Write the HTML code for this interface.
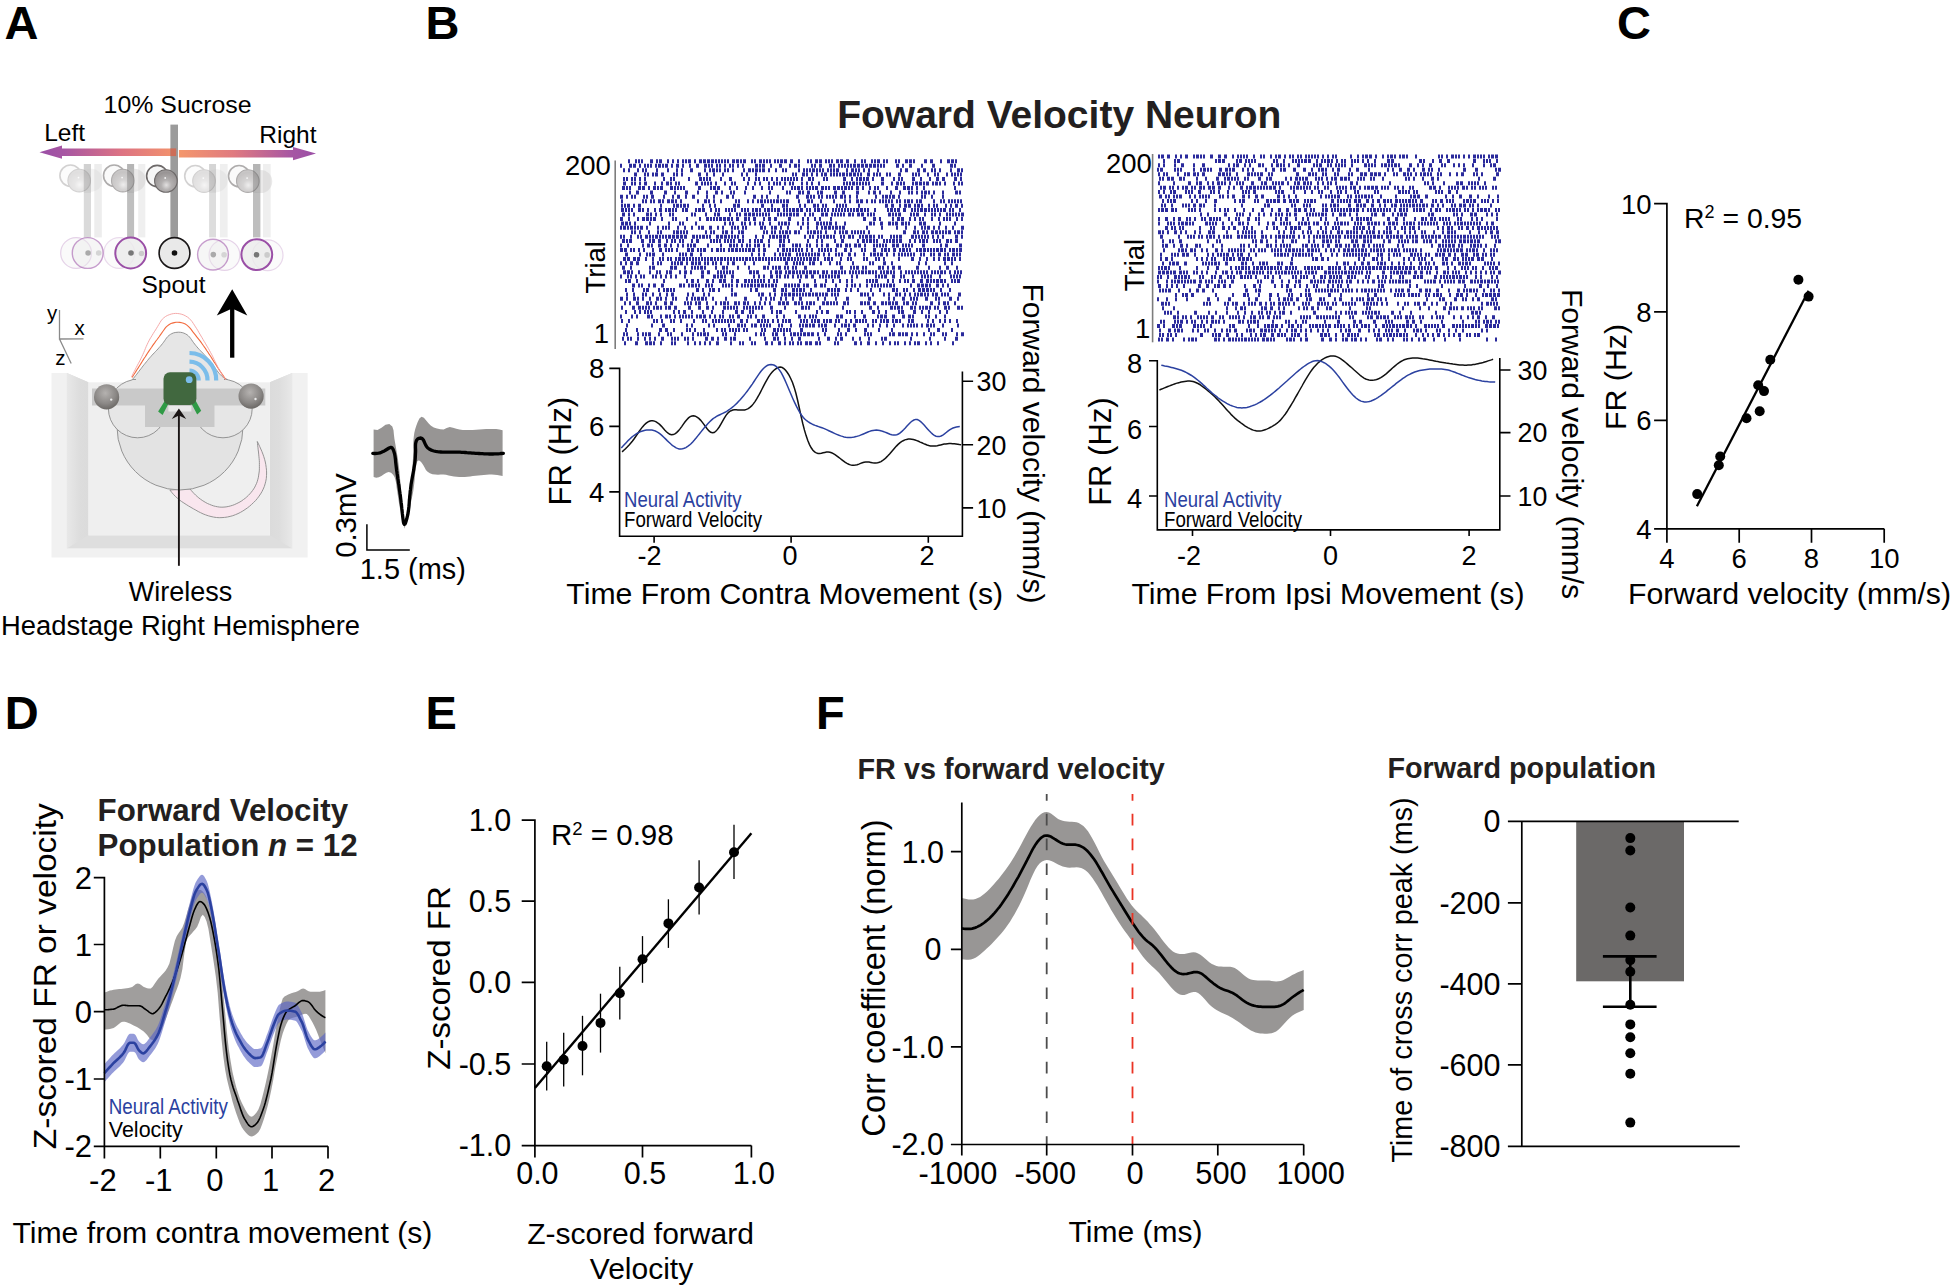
<!DOCTYPE html>
<html lang="en"><head><meta charset="utf-8"><title>Forward Velocity Neuron figure</title>
<style>html,body{margin:0;padding:0;background:#fff}svg{display:block;font-family:'Liberation Sans', Arial, Helvetica, sans-serif}</style>
</head><body>
<svg width="1951" height="1287" viewBox="0 0 1951 1287" font-family="'Liberation Sans', Arial, Helvetica, sans-serif">
<rect width="1951" height="1287" fill="#fff"/>
<defs>
<linearGradient id="gL" x1="0" x2="1"><stop offset="0" stop-color="#9a4fa6"/><stop offset="0.18" stop-color="#a756a3"/><stop offset="0.6" stop-color="#dd7383"/><stop offset="1" stop-color="#f3936b"/></linearGradient>
<linearGradient id="gR" x1="0" x2="1"><stop offset="0" stop-color="#f4976c"/><stop offset="0.4" stop-color="#e07a80"/><stop offset="0.82" stop-color="#a756a3"/><stop offset="1" stop-color="#9a4fa6"/></linearGradient>
<radialGradient id="sph" cx="0.52" cy="0.68" r="0.75"><stop offset="0" stop-color="#e2e0e0"/><stop offset="0.3" stop-color="#b3b0b0"/><stop offset="0.75" stop-color="#989494"/><stop offset="1" stop-color="#a9a6a6"/></radialGradient>
<radialGradient id="ball" cx="0.45" cy="0.35" r="0.7"><stop offset="0" stop-color="#b5b2b0"/><stop offset="0.6" stop-color="#8b8886"/><stop offset="1" stop-color="#65625f"/></radialGradient>
<linearGradient id="wallL" x1="0" x2="1"><stop offset="0" stop-color="#e8e8e8"/><stop offset="0.6" stop-color="#dddddd"/><stop offset="1" stop-color="#dbdbdb"/></linearGradient>
<linearGradient id="wallR" x1="1" x2="0"><stop offset="0" stop-color="#e8e8e8"/><stop offset="0.6" stop-color="#dddddd"/><stop offset="1" stop-color="#dbdbdb"/></linearGradient>
</defs>
<text x="4.5" y="38.9" font-size="47" font-weight="bold" fill="#000">A</text>
<text x="425.5" y="38.9" font-size="47" font-weight="bold" fill="#000">B</text>
<text x="1617.0" y="39.0" font-size="47" font-weight="bold" fill="#000">C</text>
<text x="4.8" y="728.8" font-size="47" font-weight="bold" fill="#000">D</text>
<text x="425.5" y="728.8" font-size="47" font-weight="bold" fill="#000">E</text>
<text x="816.0" y="728.8" font-size="47" font-weight="bold" fill="#000">F</text>
<rect x="83.8" y="164" width="7.2" height="73.4" fill="#dadada"/>
<rect x="94.3" y="164" width="7.5" height="73.4" fill="#ededed"/>
<rect x="127.1" y="164" width="7.0" height="73.4" fill="#bfbfbf"/>
<rect x="138.2" y="164" width="7.1" height="73.4" fill="#efefef"/>
<rect x="209.1" y="164" width="6.9" height="73.4" fill="#dddddd"/>
<rect x="219.9" y="164" width="7.7" height="73.4" fill="#efefef"/>
<rect x="253.0" y="164" width="7.4" height="73.4" fill="#bebebe"/>
<rect x="263.0" y="164" width="7.7" height="73.4" fill="#efefef"/>
<path d="M39.5 152.3L62.0 145.4V148.4H176.1V156.1H62.0V158.8Z" fill="url(#gL)"/>
<path d="M316.0 153.5L293.0 146.9V150.0H178.9V157.4H293.0V160.3Z" fill="url(#gR)"/>
<rect x="170.4" y="124.6" width="7.6" height="112.3" fill="#9b9b9b"/>
<rect x="170.4" y="148.4" width="5.8" height="7.7" fill="#cd6d57"/>
<g opacity="0.3"><circle cx="91" cy="180.2" r="11.5" fill="#c9c7c7" opacity="0.7"/><line x1="70.5" y1="175.6" x2="79.2" y2="180.6" stroke="#f3f3f3" stroke-width="22"/><circle cx="70.5" cy="175.6" r="10.6" fill="#f6f6f6" stroke="#6d6969" stroke-width="1.6"/><circle cx="79.2" cy="180.6" r="11.3" fill="url(#sph)" stroke="#6d6969" stroke-width="1.1"/><circle cx="78.5" cy="177.6" r="0.9" fill="#f2f2f2"/></g>
<g opacity="0.55"><circle cx="134.1" cy="180.2" r="11.5" fill="#c9c7c7" opacity="0.7"/><line x1="114.1" y1="175.6" x2="122.8" y2="180.6" stroke="#f3f3f3" stroke-width="22"/><circle cx="114.1" cy="175.6" r="10.6" fill="#f6f6f6" stroke="#6d6969" stroke-width="1.6"/><circle cx="122.8" cy="180.6" r="11.3" fill="url(#sph)" stroke="#6d6969" stroke-width="1.1"/><circle cx="122.1" cy="177.6" r="0.9" fill="#f2f2f2"/></g>
<g opacity="0.3"><circle cx="216.1" cy="180.7" r="11.5" fill="#c9c7c7" opacity="0.7"/><line x1="195.3" y1="176.1" x2="204.0" y2="181.1" stroke="#f3f3f3" stroke-width="22"/><circle cx="195.3" cy="176.1" r="10.6" fill="#f6f6f6" stroke="#6d6969" stroke-width="1.6"/><circle cx="204.0" cy="181.1" r="11.3" fill="url(#sph)" stroke="#6d6969" stroke-width="1.1"/><circle cx="203.3" cy="178.1" r="0.9" fill="#f2f2f2"/></g>
<g opacity="0.55"><circle cx="260.7" cy="181.5" r="11.5" fill="#c9c7c7" opacity="0.7"/><line x1="239.1" y1="176.1" x2="247.79999999999998" y2="181.1" stroke="#f3f3f3" stroke-width="22"/><circle cx="239.1" cy="176.1" r="10.6" fill="#f6f6f6" stroke="#6d6969" stroke-width="1.6"/><circle cx="247.79999999999998" cy="181.1" r="11.3" fill="url(#sph)" stroke="#6d6969" stroke-width="1.1"/><circle cx="247.1" cy="178.1" r="0.9" fill="#f2f2f2"/></g>
<rect x="83.8" y="164" width="7.2" height="29" fill="#8a8a8a" opacity="0.10"/>
<rect x="127.1" y="164" width="7.0" height="29" fill="#8a8a8a" opacity="0.17"/>
<rect x="209.1" y="164" width="7.0" height="29" fill="#8a8a8a" opacity="0.09"/>
<rect x="253" y="164" width="7.4" height="29" fill="#8a8a8a" opacity="0.17"/>
<g opacity="1"><line x1="157.2" y1="176" x2="165.89999999999998" y2="181" stroke="#f3f3f3" stroke-width="22"/><circle cx="157.2" cy="176" r="10.6" fill="#f6f6f6" stroke="#6d6969" stroke-width="1.6"/><circle cx="165.89999999999998" cy="181" r="11.3" fill="url(#sph)" stroke="#6d6969" stroke-width="1.1"/><circle cx="165.2" cy="178" r="0.9" fill="#f2f2f2"/></g>
<circle cx="76.1" cy="253.0" r="15.4" fill="#ebebeb" fill-opacity="0.8" stroke="#9a4fa6" stroke-width="1.2" opacity="0.25"/>
<circle cx="87.7" cy="253.0" r="15.4" fill="#ebebeb" fill-opacity="0.8" stroke="#9a4fa6" stroke-width="1.4" opacity="0.55"/>
<circle cx="119.2" cy="253.0" r="15.4" fill="#ebebeb" fill-opacity="0.8" stroke="#9a4fa6" stroke-width="1.2" opacity="0.2"/>
<circle cx="130.7" cy="253.0" r="15.4" fill="#ebebeb" fill-opacity="0.8" stroke="#9a4fa6" stroke-width="2.0" opacity="1"/>
<circle cx="224.5" cy="255.0" r="15.4" fill="#ebebeb" fill-opacity="0.8" stroke="#9a4fa6" stroke-width="1.2" opacity="0.25"/>
<circle cx="213.0" cy="254.6" r="15.4" fill="#ebebeb" fill-opacity="0.8" stroke="#9a4fa6" stroke-width="1.4" opacity="0.55"/>
<circle cx="267.6" cy="255.3" r="15.4" fill="#ebebeb" fill-opacity="0.8" stroke="#9a4fa6" stroke-width="1.2" opacity="0.22"/>
<circle cx="256.8" cy="254.6" r="15.4" fill="#ebebeb" fill-opacity="0.8" stroke="#9a4fa6" stroke-width="2.0" opacity="1"/>
<circle cx="174.5" cy="253.0" r="15.4" fill="#e9e9e9" fill-opacity="1" stroke="#1a1718" stroke-width="1.6" opacity="1"/>
<circle cx="88.1" cy="253.0" r="2.8" fill="#aaa"/>
<circle cx="98.7" cy="253.0" r="2.8" fill="#d5d5d5"/>
<circle cx="131.0" cy="253.0" r="2.8" fill="#777"/>
<circle cx="141.5" cy="253.5" r="2.8" fill="#ccc"/>
<circle cx="213.3" cy="254.6" r="2.8" fill="#aaa"/>
<circle cx="224.1" cy="254.7" r="2.8" fill="#d5d5d5"/>
<circle cx="256.5" cy="254.7" r="2.8" fill="#777"/>
<circle cx="267.1" cy="254.9" r="2.8" fill="#ccc"/>
<circle cx="174.5" cy="253.0" r="2.8" fill="#111"/>
<text x="177.6" y="113.3" font-size="24.5" text-anchor="middle" fill="#000" textLength="148.0" lengthAdjust="spacingAndGlyphs">10% Sucrose</text>
<text x="44.2" y="141.2" font-size="24.5" fill="#000">Left</text>
<text x="316.5" y="142.5" font-size="24.5" text-anchor="end" fill="#000">Right</text>
<text x="173.5" y="292.5" font-size="24.5" text-anchor="middle" fill="#000">Spout</text>
<path d="M51.5 373H66.9V548.4H292.2V373H307.6V557.6H51.5Z" fill="#f1f1f1"/>
<path d="M66.9 373L88.4 382.3V535.3H269.9V382.3L292.2 373V548.4H66.9Z" fill="#dedede"/>
<path d="M66.9 373L88.4 382.3V535.3L66.9 548.4Z" fill="url(#wallL)"/>
<path d="M292.2 373L269.9 382.3V535.3L292.2 548.4Z" fill="url(#wallR)"/>
<rect x="88.4" y="382.3" width="181.5" height="153" fill="#efefef"/>
<path d="M257.3 441.5 L258.5 444.0 L259.7 446.5 L260.8 449.0 L261.9 451.5 L262.9 454.1 L263.8 456.7 L264.6 459.3 L265.3 462.0 L265.8 464.7 L266.2 467.4 L266.5 470.2 L266.6 473.0 L266.5 475.7 L266.3 478.5 L265.8 481.2 L265.1 483.9 L264.3 486.5 L263.2 489.1 L262.0 491.5 L260.6 493.9 L259.0 496.2 L257.4 498.4 L255.6 500.5 L253.6 502.5 L251.6 504.4 L249.6 506.2 L247.4 507.9 L245.1 509.5 L242.8 511.0 L240.4 512.4 L238.0 513.6 L235.4 514.7 L232.8 515.7 L230.1 516.4 L227.4 517.0 L224.7 517.4 L222.0 517.6 L219.2 517.7 L216.4 517.5 L213.7 517.1 L211.0 516.5 L208.3 515.8 L205.7 514.9 L203.1 513.9 L200.6 512.7 L198.2 511.5 L195.8 510.1 L193.4 508.8 L191.0 507.4 L188.6 506.0 L186.2 504.5 L183.9 503.0 L181.6 501.5 L179.4 499.9 L177.3 498.1 L175.3 496.3 L173.4 494.3 L171.6 492.2 L169.9 490.0 L189.9 488.9 L191.3 490.5 L192.7 492.1 L194.1 493.6 L195.6 495.1 L197.2 496.5 L198.8 497.9 L200.5 499.2 L202.2 500.4 L204.0 501.5 L205.8 502.6 L207.7 503.6 L209.6 504.4 L211.6 505.2 L213.6 505.9 L215.6 506.4 L217.7 506.8 L219.8 507.1 L221.9 507.2 L224.0 507.1 L226.1 506.9 L228.2 506.5 L230.3 506.0 L232.3 505.4 L234.3 504.7 L236.2 503.8 L238.1 502.9 L240.0 501.9 L241.8 500.8 L243.5 499.5 L245.2 498.3 L246.8 496.9 L248.4 495.4 L249.8 493.9 L251.2 492.3 L252.5 490.6 L253.7 488.9 L254.8 487.1 L255.7 485.2 L256.6 483.3 L257.3 481.3 L257.9 479.2 L258.4 477.2 L258.7 475.1 L259.0 473.0 L259.3 470.9 L259.4 468.8 L259.4 466.7 L259.4 464.6 L259.4 462.5 L259.3 460.4 L259.1 458.3 L258.9 456.2 L258.7 454.1 L258.5 452.0 L258.2 449.9 L258.0 447.8 L257.7 445.7 L257.5 443.6 L257.3 441.5Z" fill="#f9e6ee" stroke="#8a8a8a" stroke-width="0.9"/>
<circle cx="180" cy="427" r="63" fill="#e3e3e3" stroke="#8a8a8a" stroke-width="0.9"/>
<circle cx="137.6" cy="408.6" r="29.2" fill="#e6e6e6" stroke="#8a8a8a" stroke-width="0.9"/>
<circle cx="223" cy="408.6" r="29.2" fill="#e6e6e6" stroke="#8a8a8a" stroke-width="0.9"/>
<path d="M132.3 379.5 L133.5 378.2 L134.6 376.9 L135.7 375.5 L136.8 374.2 L137.8 372.8 L138.9 371.4 L139.9 370.0 L141.0 368.7 L142.0 367.3 L143.1 365.9 L144.2 364.5 L145.3 363.2 L146.4 361.8 L147.5 360.5 L148.6 359.1 L149.7 357.8 L150.9 356.5 L152.0 355.2 L153.2 354.0 L154.4 352.7 L155.6 351.4 L156.8 350.2 L158.0 348.9 L159.1 347.6 L160.3 346.3 L161.4 345.0 L162.5 343.6 L163.6 342.2 L164.6 340.8 L165.6 339.3 L166.6 337.9 L167.7 336.6 L169.0 335.4 L170.4 334.4 L171.9 333.6 L173.5 332.9 L175.2 332.5 L177.0 332.3 L178.7 332.2 L180.4 332.3 L182.2 332.6 L183.8 333.1 L185.4 333.8 L187.0 334.7 L188.3 335.8 L189.5 337.0 L190.6 338.4 L191.6 339.8 L192.6 341.3 L193.6 342.7 L194.7 344.1 L195.8 345.5 L196.9 346.8 L198.0 348.1 L199.2 349.4 L200.4 350.6 L201.6 351.9 L202.8 353.1 L204.0 354.4 L205.2 355.7 L206.4 357.0 L207.5 358.2 L208.7 359.6 L209.8 360.9 L210.9 362.2 L212.0 363.6 L213.0 365.0 L214.0 366.4 L215.0 367.9 L216.0 369.3 L217.1 370.7 L218.1 372.1 L219.2 373.4 L220.4 374.7 L221.6 375.9 L222.9 377.0 L224.4 377.9 L225.9 378.8 L227.6 379.5L227.6 392L132.3 392Z" fill="#e6e6e6"/>
<path d="M136 379.5L132.3 379.5 L133.5 378.2 L134.6 376.9 L135.7 375.5 L136.8 374.2 L137.8 372.8 L138.9 371.4 L139.9 370.0 L141.0 368.7 L142.0 367.3 L143.1 365.9 L144.2 364.5 L145.3 363.2 L146.4 361.8 L147.5 360.5 L148.6 359.1 L149.7 357.8 L150.9 356.5 L152.0 355.2 L153.2 354.0 L154.4 352.7 L155.6 351.4 L156.8 350.2 L158.0 348.9 L159.1 347.6 L160.3 346.3 L161.4 345.0 L162.5 343.6 L163.6 342.2 L164.6 340.8 L165.6 339.3 L166.6 337.9 L167.7 336.6 L169.0 335.4 L170.4 334.4 L171.9 333.6 L173.5 332.9 L175.2 332.5 L177.0 332.3 L178.7 332.2 L180.4 332.3 L182.2 332.6 L183.8 333.1 L185.4 333.8 L187.0 334.7 L188.3 335.8 L189.5 337.0 L190.6 338.4 L191.6 339.8 L192.6 341.3 L193.6 342.7 L194.7 344.1 L195.8 345.5 L196.9 346.8 L198.0 348.1 L199.2 349.4 L200.4 350.6 L201.6 351.9 L202.8 353.1 L204.0 354.4 L205.2 355.7 L206.4 357.0 L207.5 358.2 L208.7 359.6 L209.8 360.9 L210.9 362.2 L212.0 363.6 L213.0 365.0 L214.0 366.4 L215.0 367.9 L216.0 369.3 L217.1 370.7 L218.1 372.1 L219.2 373.4 L220.4 374.7 L221.6 375.9 L222.9 377.0 L224.4 377.9 L225.9 378.8 L227.6 379.5L224 379.5" fill="none" stroke="#8a8a8a" stroke-width="0.9"/>
<path d="M132.0 377.5 L133.0 375.9 L134.1 374.3 L135.1 372.7 L136.1 371.1 L137.1 369.5 L138.2 367.9 L139.2 366.3 L140.2 364.7 L141.2 363.1 L142.2 361.5 L143.2 359.9 L144.2 358.3 L145.3 356.7 L146.3 355.1 L147.3 353.5 L148.4 351.9 L149.4 350.4 L150.5 348.8 L151.6 347.2 L152.6 345.6 L153.7 344.1 L154.8 342.6 L155.9 341.0 L157.1 339.5 L158.2 338.0 L159.3 336.5 L160.4 334.9 L161.5 333.4 L162.6 331.8 L163.7 330.2 L164.8 328.6 L166.0 327.2 L167.4 325.8 L168.9 324.7 L170.5 323.8 L172.3 323.1 L174.2 322.6 L176.0 322.3 L177.9 322.2 L179.8 322.4 L181.7 322.7 L183.5 323.3 L185.3 324.1 L186.9 325.1 L188.3 326.3 L189.6 327.6 L190.9 329.1 L192.0 330.6 L193.1 332.2 L194.3 333.7 L195.5 335.2 L196.6 336.7 L197.8 338.2 L199.0 339.7 L200.2 341.2 L201.3 342.7 L202.4 344.2 L203.5 345.8 L204.6 347.3 L205.7 348.9 L206.7 350.5 L207.8 352.0 L208.8 353.6 L209.9 355.2 L210.9 356.8 L211.9 358.4 L212.9 360.0 L213.9 361.6 L215.0 363.2 L216.0 364.8 L217.0 366.4 L218.0 368.0 L219.1 369.6 L220.1 371.2 L221.2 372.8 L222.2 374.3 L223.3 375.9 L224.4 377.5 L225.5 379.0" fill="none" stroke="#f26a3d" stroke-width="1.1"/>
<path d="M131.5 377.0 L132.4 375.1 L133.3 373.2 L134.3 371.3 L135.3 369.4 L136.2 367.6 L137.2 365.7 L138.2 363.8 L139.2 362.0 L140.2 360.1 L141.1 358.2 L142.0 356.3 L142.9 354.4 L143.8 352.4 L144.6 350.5 L145.4 348.5 L146.2 346.6 L147.1 344.6 L148.0 342.7 L148.9 340.9 L149.9 339.0 L151.0 337.2 L152.1 335.4 L153.2 333.6 L154.3 331.8 L155.5 330.0 L156.6 328.2 L157.7 326.4 L158.8 324.5 L159.9 322.7 L161.0 320.9 L162.3 319.2 L163.8 317.8 L165.5 316.5 L167.3 315.5 L169.3 314.7 L171.4 314.0 L173.4 313.6 L175.5 313.4 L177.7 313.5 L179.8 313.8 L181.8 314.3 L183.8 315.0 L185.7 316.0 L187.5 317.1 L189.2 318.4 L190.6 319.9 L192.0 321.5 L193.2 323.3 L194.4 325.1 L195.5 326.9 L196.7 328.7 L197.8 330.5 L198.8 332.3 L199.9 334.1 L201.0 336.0 L202.1 337.8 L203.1 339.6 L204.2 341.4 L205.3 343.2 L206.3 345.0 L207.4 346.8 L208.5 348.7 L209.5 350.5 L210.5 352.4 L211.5 354.2 L212.5 356.1 L213.4 358.0 L214.3 359.9 L215.3 361.8 L216.2 363.7 L217.1 365.6 L218.1 367.5 L219.0 369.4 L220.1 371.2 L221.1 373.0 L222.2 374.8 L223.4 376.6 L224.7 378.3 L226.0 380.0" fill="none" stroke="#f4a0a0" stroke-width="0.9"/>
<path d="M92 388.4H265.3V405.6H214.5V426.9H145V405.6H92Z" fill="#c9c9c9"/>
<rect x="168.4" y="406" width="23" height="5.5" fill="#e9e9e9"/>
<circle cx="106.6" cy="396.9" r="12.6" fill="url(#ball)"/>
<circle cx="251.1" cy="396.1" r="12.6" fill="url(#ball)"/>
<circle cx="111.2" cy="399.6" r="1.2" fill="#e8e8e8"/>
<circle cx="255.5" cy="399" r="1.2" fill="#e8e8e8"/>
<path d="M189.5 370.5A9.5 9.5 0 0 1 198.7 380.5" fill="none" stroke="#7bbdea" stroke-width="4.2"/>
<path d="M189.5 361.7A18.3 18.3 0 0 1 207.5 380.5" fill="none" stroke="#7bbdea" stroke-width="4.2"/>
<path d="M189.5 353.0A27 27 0 0 1 216.2 380.5" fill="none" stroke="#7bbdea" stroke-width="4.2"/>
<path d="M165.3 399.9L168.7 403.3L162.6 414.9L158.1 411.5Z" fill="#2f9a45"/>
<path d="M191.2 403.3L195.0 399.5L201.2 410.7L197.2 414.6Z" fill="#2f9a45"/>
<rect x="163.5" y="372.3" width="32.9" height="32.7" rx="6.5" fill="#41683f"/>
<circle cx="189.2" cy="379.7" r="3.4" fill="#7bbdea"/>
<path d="M232.2 357.7V306" stroke="#000" stroke-width="4.3" fill="none"/>
<path d="M232.2 289.2L247.3 315.6L232.2 308.5L216.8 315.6Z" fill="#000"/>
<path d="M178.9 565.8V414" stroke="#1a1515" stroke-width="1.9" fill="none"/>
<path d="M178.9 408.6L186.2 419L178.9 415.6L171.8 419Z" fill="#1a1515"/>
<path d="M59.5 310V339L83.5 338.9M59.5 339L71.2 363.5" fill="none" stroke="#8a8a8a" stroke-width="1.3"/>
<text x="47.0" y="320.0" font-size="20.5" fill="#000">y</text>
<text x="74.4" y="335.4" font-size="20.5" fill="#000">x</text>
<text x="55.2" y="364.6" font-size="20.5" fill="#000">z</text>
<text x="180.5" y="601.3" font-size="27" text-anchor="middle" fill="#000">Wireless</text>
<text x="180.5" y="634.5" font-size="27" text-anchor="middle" fill="#000" textLength="359.0" lengthAdjust="spacingAndGlyphs">Headstage Right Hemisphere</text>
<path d="M373.6 429.5 L377.5 430.0 L381.5 427.7 L385.5 424.8 L389.3 423.9 L392.3 426.4 L393.5 430.3 L393.9 434.5 L394.4 438.7 L395.1 442.8 L395.8 446.8 L396.5 450.8 L397.2 454.8 L397.9 458.8 L398.4 462.9 L398.9 466.9 L399.4 471.0 L399.8 475.1 L400.1 479.2 L400.5 483.4 L400.8 487.5 L401.2 491.6 L401.5 495.8 L401.8 499.9 L402.2 504.0 L402.6 508.1 L403.0 512.2 L403.5 516.2 L404.1 520.3 L404.7 524.3 L404.7 524.3 L405.2 521.1 L405.7 517.9 L406.2 514.7 L406.7 511.4 L407.3 508.1 L407.8 504.8 L408.3 501.4 L408.8 498.1 L409.3 494.7 L409.7 491.3 L410.2 487.9 L410.6 484.6 L411.0 481.2 L411.4 477.8 L411.8 474.5 L412.1 471.2 L412.4 467.9 L412.6 464.6 L412.8 461.3 L413.0 458.1 L413.1 455.0 L413.2 451.9 L413.3 448.8 L413.3 445.7 L413.3 442.7 L413.5 439.5 L413.8 436.4 L414.3 433.1 L415.1 429.6 L416.2 426.0 L417.6 422.2 L419.4 418.6 L421.5 416.8 L423.9 417.8 L426.4 420.7 L428.7 423.6 L431.0 425.8 L433.8 427.4 L437.0 428.4 L440.3 429.3 L443.6 429.4 L446.7 428.1 L449.8 427.1 L453.0 427.8 L456.3 428.7 L459.5 429.5 L462.7 429.9 L466.0 430.1 L469.3 430.1 L472.7 430.0 L476.1 429.8 L479.5 429.5 L482.8 429.2 L486.2 429.0 L489.6 428.9 L492.9 428.9 L496.2 429.1 L499.4 429.6 L502.6 430.3 L502.6 476.1 L499.9 475.5 L497.2 475.0 L494.6 474.7 L491.9 474.6 L489.2 474.6 L486.5 474.7 L483.7 474.9 L481.0 475.2 L478.3 475.5 L475.6 475.8 L472.9 476.1 L470.1 476.4 L467.4 476.7 L464.7 476.9 L462.0 477.0 L459.3 476.9 L456.6 476.8 L454.0 476.5 L451.3 476.0 L448.7 475.4 L446.0 474.8 L443.4 474.5 L440.7 474.6 L438.0 474.7 L435.3 474.6 L432.5 474.2 L429.9 473.2 L427.6 471.8 L425.9 469.9 L424.6 467.6 L423.2 465.1 L421.5 462.5 L419.7 460.8 L418.3 460.5 L417.2 461.6 L416.4 464.0 L415.8 467.2 L415.4 470.9 L415.0 474.8 L414.7 478.7 L414.4 482.2 L414.0 485.5 L413.6 488.6 L413.2 491.4 L412.7 494.1 L412.2 496.6 L411.7 499.0 L411.2 501.3 L410.7 503.5 L410.2 505.6 L409.6 507.8 L409.0 510.0 L408.4 512.3 L407.8 514.6 L407.2 517.1 L406.6 519.7 L406.0 522.5 L405.3 525.4 L404.7 528.7 L404.7 528.7 L403.9 526.1 L403.3 523.5 L402.6 520.9 L402.0 518.4 L401.4 515.8 L400.9 513.3 L400.4 510.7 L399.9 508.1 L399.4 505.6 L399.0 503.0 L398.6 500.4 L398.2 497.8 L397.8 495.3 L397.4 492.6 L397.0 490.0 L396.6 487.4 L396.3 484.7 L395.9 482.1 L395.3 479.5 L394.5 477.0 L393.1 474.7 L391.1 472.8 L388.8 472.1 L386.4 472.7 L383.9 474.2 L381.4 475.9 L378.8 477.3 L376.2 477.8 L373.6 476.9Z" fill="#979594"/>
<path d="M372.8 453.3 L374.9 453.5 L376.8 453.4 L378.5 453.2 L380.0 452.9 L381.5 452.3 L383.0 451.6 L384.4 450.9 L385.9 450.0 L387.5 449.0 L389.1 448.0 L390.8 447.4 L392.1 447.9 L393.1 449.4 L393.8 451.3 L394.4 453.2 L394.8 455.0 L395.1 456.7 L395.3 458.3 L395.5 460.0 L395.6 461.6 L395.8 463.3 L396.0 465.0 L396.2 466.7 L396.4 468.5 L396.6 470.2 L396.9 472.0 L397.1 473.7 L397.4 475.4 L397.6 477.1 L397.8 478.7 L398.1 480.3 L398.3 481.8 L398.5 483.3 L398.8 484.8 L399.0 486.2 L399.2 487.7 L399.4 489.1 L399.6 490.6 L399.8 492.1 L400.0 493.7 L400.3 495.3 L400.5 496.9 L400.7 498.6 L400.9 500.4 L401.1 502.2 L401.4 504.2 L401.6 506.3 L401.8 508.4 L402.1 510.7 L402.3 513.2 L402.6 515.7 L402.9 518.2 L403.2 520.5 L403.5 522.5 L403.9 523.8 L404.4 524.4 L405.0 524.0 L405.6 522.7 L406.2 520.9 L406.8 518.8 L407.3 516.7 L407.8 514.7 L408.1 512.9 L408.4 511.1 L408.6 509.4 L408.8 507.8 L409.0 506.2 L409.1 504.6 L409.2 503.0 L409.3 501.4 L409.4 499.8 L409.6 498.1 L409.7 496.4 L409.9 494.7 L410.1 493.0 L410.2 491.2 L410.5 489.4 L410.7 487.7 L410.9 485.9 L411.1 484.2 L411.4 482.5 L411.7 480.8 L412.0 479.1 L412.3 477.4 L412.6 475.8 L412.9 474.2 L413.2 472.6 L413.5 471.0 L413.8 469.4 L414.0 467.7 L414.3 466.1 L414.6 464.4 L414.8 462.8 L415.0 461.0 L415.2 459.3 L415.3 457.5 L415.4 455.6 L415.5 453.7 L415.6 451.8 L415.6 449.7 L415.5 447.7 L415.5 445.6 L415.6 443.6 L416.0 441.8 L416.6 440.2 L417.6 439.0 L419.0 438.3 L420.8 438.0 L422.2 438.6 L423.3 439.8 L424.1 441.5 L424.9 443.3 L425.7 445.1 L426.7 446.7 L427.8 448.0 L429.2 449.0 L430.7 449.9 L432.3 450.5 L433.9 451.0 L435.7 451.4 L437.4 451.7 L439.1 451.9 L440.8 452.0 L442.6 452.1 L444.3 452.1 L446.1 452.1 L447.8 452.1 L449.5 452.1 L451.3 452.1 L453.0 452.1 L454.8 452.1 L456.5 452.1 L458.2 452.2 L460.0 452.2 L461.7 452.3 L463.4 452.4 L465.2 452.5 L466.9 452.7 L468.6 452.8 L470.4 452.9 L472.1 453.1 L473.8 453.2 L475.6 453.3 L477.3 453.4 L479.0 453.5 L480.8 453.7 L482.5 453.7 L484.2 453.8 L485.9 453.9 L487.7 453.9 L489.4 454.0 L491.2 454.0 L492.9 454.0 L494.6 453.9 L496.4 453.9 L498.1 453.8 L499.9 453.7 L501.6 453.5 L503.3 453.3" fill="none" stroke="#000" stroke-width="3.3" stroke-linejoin="round" stroke-linecap="round"/>
<path d="M366.9 524.3V549.9H409.8" fill="none" stroke="#000" stroke-width="1.5"/>
<text x="355.8" y="515.5" font-size="29.3" text-anchor="middle" fill="#000" transform="rotate(-90 355.8 515.5)">0.3mV</text>
<text x="359.8" y="578.7" font-size="29.6" fill="#000" textLength="106.0" lengthAdjust="spacingAndGlyphs">1.5 (ms)</text>
<text x="1059.3" y="128.3" font-size="39" text-anchor="middle" font-weight="bold" fill="#231f20">Foward Velocity Neuron</text>
<path d="M628 159.3v4.0h2v-4.0zM635 159.3v4.0h2v-4.0zM638 159.3v4.0h2v-4.0zM641 159.3v4.0h2v-4.0zM650 159.3v4.0h3v-4.0zM656 159.3v4.0h2v-4.0zM659 159.3v4.0h3v-4.0zM667 159.3v4.0h2v-4.0zM672 159.3v4.0h2v-4.0zM677 159.3v4.0h2v-4.0zM682 159.3v4.0h2v-4.0zM685 159.3v4.0h2v-4.0zM688 159.3v4.0h3v-4.0zM694 159.3v4.0h2v-4.0zM699 159.3v4.0h3v-4.0zM703 159.3v4.0h3v-4.0zM707 159.3v4.0h3v-4.0zM711 159.3v4.0h3v-4.0zM715 159.3v4.0h2v-4.0zM718 159.3v4.0h2v-4.0zM721 159.3v4.0h2v-4.0zM724 159.3v4.0h2v-4.0zM727 159.3v4.0h2v-4.0zM732 159.3v4.0h3v-4.0zM736 159.3v4.0h3v-4.0zM740 159.3v4.0h2v-4.0zM743 159.3v4.0h3v-4.0zM751 159.3v4.0h2v-4.0zM754 159.3v4.0h2v-4.0zM759 159.3v4.0h3v-4.0zM763 159.3v4.0h2v-4.0zM766 159.3v4.0h2v-4.0zM769 159.3v4.0h2v-4.0zM774 159.3v4.0h2v-4.0zM777 159.3v4.0h2v-4.0zM780 159.3v4.0h3v-4.0zM784 159.3v4.0h3v-4.0zM790 159.3v4.0h3v-4.0zM798 159.3v4.0h2v-4.0zM807 159.3v4.0h2v-4.0zM810 159.3v4.0h2v-4.0zM815 159.3v4.0h3v-4.0zM819 159.3v4.0h3v-4.0zM825 159.3v4.0h2v-4.0zM828 159.3v4.0h2v-4.0zM831 159.3v4.0h2v-4.0zM836 159.3v4.0h3v-4.0zM840 159.3v4.0h3v-4.0zM846 159.3v4.0h3v-4.0zM854 159.3v4.0h2v-4.0zM861 159.3v4.0h2v-4.0zM864 159.3v4.0h2v-4.0zM871 159.3v4.0h2v-4.0zM874 159.3v4.0h2v-4.0zM877 159.3v4.0h3v-4.0zM883 159.3v4.0h2v-4.0zM886 159.3v4.0h2v-4.0zM895 159.3v4.0h2v-4.0zM898 159.3v4.0h2v-4.0zM905 159.3v4.0h3v-4.0zM909 159.3v4.0h3v-4.0zM913 159.3v4.0h2v-4.0zM924 159.3v4.0h3v-4.0zM930 159.3v4.0h3v-4.0zM940 159.3v4.0h2v-4.0zM947 159.3v4.0h3v-4.0zM951 159.3v4.0h3v-4.0zM955 159.3v4.0h2v-4.0zM620 163.7v4.0h2v-4.0zM629 163.7v4.0h3v-4.0zM633 163.7v4.0h3v-4.0zM639 163.7v4.0h2v-4.0zM644 163.7v4.0h2v-4.0zM647 163.7v4.0h2v-4.0zM650 163.7v4.0h2v-4.0zM655 163.7v4.0h2v-4.0zM658 163.7v4.0h3v-4.0zM662 163.7v4.0h2v-4.0zM665 163.7v4.0h3v-4.0zM671 163.7v4.0h2v-4.0zM676 163.7v4.0h3v-4.0zM682 163.7v4.0h2v-4.0zM689 163.7v4.0h2v-4.0zM696 163.7v4.0h3v-4.0zM704 163.7v4.0h3v-4.0zM708 163.7v4.0h2v-4.0zM711 163.7v4.0h2v-4.0zM716 163.7v4.0h2v-4.0zM719 163.7v4.0h2v-4.0zM724 163.7v4.0h2v-4.0zM729 163.7v4.0h2v-4.0zM732 163.7v4.0h2v-4.0zM737 163.7v4.0h2v-4.0zM742 163.7v4.0h2v-4.0zM755 163.7v4.0h3v-4.0zM759 163.7v4.0h2v-4.0zM762 163.7v4.0h3v-4.0zM770 163.7v4.0h2v-4.0zM779 163.7v4.0h3v-4.0zM789 163.7v4.0h2v-4.0zM794 163.7v4.0h3v-4.0zM798 163.7v4.0h2v-4.0zM811 163.7v4.0h2v-4.0zM814 163.7v4.0h2v-4.0zM819 163.7v4.0h3v-4.0zM829 163.7v4.0h3v-4.0zM833 163.7v4.0h2v-4.0zM838 163.7v4.0h2v-4.0zM841 163.7v4.0h2v-4.0zM844 163.7v4.0h2v-4.0zM847 163.7v4.0h2v-4.0zM850 163.7v4.0h2v-4.0zM853 163.7v4.0h3v-4.0zM857 163.7v4.0h3v-4.0zM861 163.7v4.0h3v-4.0zM865 163.7v4.0h3v-4.0zM869 163.7v4.0h3v-4.0zM873 163.7v4.0h3v-4.0zM877 163.7v4.0h2v-4.0zM880 163.7v4.0h2v-4.0zM883 163.7v4.0h2v-4.0zM896 163.7v4.0h3v-4.0zM902 163.7v4.0h2v-4.0zM909 163.7v4.0h3v-4.0zM921 163.7v4.0h2v-4.0zM932 163.7v4.0h3v-4.0zM950 163.7v4.0h3v-4.0zM954 163.7v4.0h2v-4.0zM623 168.2v4.0h2v-4.0zM628 168.2v4.0h2v-4.0zM637 168.2v4.0h2v-4.0zM642 168.2v4.0h2v-4.0zM645 168.2v4.0h2v-4.0zM656 168.2v4.0h2v-4.0zM667 168.2v4.0h2v-4.0zM676 168.2v4.0h2v-4.0zM681 168.2v4.0h2v-4.0zM690 168.2v4.0h3v-4.0zM704 168.2v4.0h2v-4.0zM709 168.2v4.0h2v-4.0zM712 168.2v4.0h3v-4.0zM716 168.2v4.0h2v-4.0zM719 168.2v4.0h2v-4.0zM724 168.2v4.0h2v-4.0zM727 168.2v4.0h2v-4.0zM732 168.2v4.0h2v-4.0zM743 168.2v4.0h2v-4.0zM748 168.2v4.0h3v-4.0zM752 168.2v4.0h2v-4.0zM755 168.2v4.0h3v-4.0zM759 168.2v4.0h2v-4.0zM762 168.2v4.0h3v-4.0zM768 168.2v4.0h2v-4.0zM775 168.2v4.0h2v-4.0zM782 168.2v4.0h2v-4.0zM785 168.2v4.0h2v-4.0zM798 168.2v4.0h2v-4.0zM803 168.2v4.0h2v-4.0zM806 168.2v4.0h2v-4.0zM809 168.2v4.0h2v-4.0zM812 168.2v4.0h3v-4.0zM816 168.2v4.0h2v-4.0zM819 168.2v4.0h2v-4.0zM822 168.2v4.0h2v-4.0zM827 168.2v4.0h2v-4.0zM830 168.2v4.0h2v-4.0zM833 168.2v4.0h2v-4.0zM836 168.2v4.0h3v-4.0zM846 168.2v4.0h2v-4.0zM851 168.2v4.0h3v-4.0zM855 168.2v4.0h2v-4.0zM858 168.2v4.0h2v-4.0zM863 168.2v4.0h2v-4.0zM868 168.2v4.0h2v-4.0zM877 168.2v4.0h2v-4.0zM900 168.2v4.0h2v-4.0zM905 168.2v4.0h3v-4.0zM917 168.2v4.0h3v-4.0zM923 168.2v4.0h3v-4.0zM931 168.2v4.0h2v-4.0zM934 168.2v4.0h2v-4.0zM939 168.2v4.0h2v-4.0zM950 168.2v4.0h2v-4.0zM957 168.2v4.0h3v-4.0zM961 168.2v4.0h2v-4.0zM634 172.6v4.0h3v-4.0zM644 172.6v4.0h2v-4.0zM647 172.6v4.0h2v-4.0zM652 172.6v4.0h2v-4.0zM655 172.6v4.0h3v-4.0zM661 172.6v4.0h3v-4.0zM673 172.6v4.0h2v-4.0zM676 172.6v4.0h2v-4.0zM681 172.6v4.0h2v-4.0zM698 172.6v4.0h3v-4.0zM706 172.6v4.0h2v-4.0zM713 172.6v4.0h2v-4.0zM722 172.6v4.0h2v-4.0zM741 172.6v4.0h2v-4.0zM746 172.6v4.0h2v-4.0zM755 172.6v4.0h2v-4.0zM792 172.6v4.0h2v-4.0zM795 172.6v4.0h2v-4.0zM802 172.6v4.0h3v-4.0zM806 172.6v4.0h2v-4.0zM811 172.6v4.0h2v-4.0zM816 172.6v4.0h2v-4.0zM821 172.6v4.0h2v-4.0zM824 172.6v4.0h3v-4.0zM830 172.6v4.0h2v-4.0zM833 172.6v4.0h2v-4.0zM836 172.6v4.0h2v-4.0zM839 172.6v4.0h2v-4.0zM842 172.6v4.0h3v-4.0zM846 172.6v4.0h2v-4.0zM849 172.6v4.0h3v-4.0zM853 172.6v4.0h3v-4.0zM857 172.6v4.0h2v-4.0zM860 172.6v4.0h2v-4.0zM867 172.6v4.0h3v-4.0zM873 172.6v4.0h2v-4.0zM876 172.6v4.0h2v-4.0zM879 172.6v4.0h2v-4.0zM886 172.6v4.0h2v-4.0zM889 172.6v4.0h2v-4.0zM898 172.6v4.0h3v-4.0zM912 172.6v4.0h2v-4.0zM915 172.6v4.0h2v-4.0zM918 172.6v4.0h2v-4.0zM927 172.6v4.0h2v-4.0zM934 172.6v4.0h2v-4.0zM937 172.6v4.0h2v-4.0zM946 172.6v4.0h2v-4.0zM951 172.6v4.0h2v-4.0zM954 172.6v4.0h2v-4.0zM957 172.6v4.0h2v-4.0zM960 172.6v4.0h2v-4.0zM623 177.0v4.0h2v-4.0zM626 177.0v4.0h2v-4.0zM631 177.0v4.0h2v-4.0zM634 177.0v4.0h2v-4.0zM639 177.0v4.0h2v-4.0zM644 177.0v4.0h2v-4.0zM663 177.0v4.0h2v-4.0zM670 177.0v4.0h2v-4.0zM673 177.0v4.0h2v-4.0zM688 177.0v4.0h2v-4.0zM699 177.0v4.0h3v-4.0zM703 177.0v4.0h2v-4.0zM706 177.0v4.0h2v-4.0zM709 177.0v4.0h2v-4.0zM720 177.0v4.0h2v-4.0zM729 177.0v4.0h3v-4.0zM743 177.0v4.0h2v-4.0zM748 177.0v4.0h2v-4.0zM755 177.0v4.0h2v-4.0zM758 177.0v4.0h2v-4.0zM763 177.0v4.0h2v-4.0zM766 177.0v4.0h2v-4.0zM771 177.0v4.0h2v-4.0zM776 177.0v4.0h2v-4.0zM781 177.0v4.0h2v-4.0zM784 177.0v4.0h2v-4.0zM787 177.0v4.0h2v-4.0zM790 177.0v4.0h2v-4.0zM793 177.0v4.0h2v-4.0zM796 177.0v4.0h2v-4.0zM801 177.0v4.0h2v-4.0zM808 177.0v4.0h3v-4.0zM812 177.0v4.0h2v-4.0zM823 177.0v4.0h2v-4.0zM826 177.0v4.0h2v-4.0zM843 177.0v4.0h3v-4.0zM851 177.0v4.0h2v-4.0zM856 177.0v4.0h2v-4.0zM859 177.0v4.0h3v-4.0zM863 177.0v4.0h2v-4.0zM866 177.0v4.0h3v-4.0zM872 177.0v4.0h2v-4.0zM881 177.0v4.0h3v-4.0zM893 177.0v4.0h2v-4.0zM898 177.0v4.0h2v-4.0zM901 177.0v4.0h2v-4.0zM912 177.0v4.0h3v-4.0zM920 177.0v4.0h2v-4.0zM929 177.0v4.0h2v-4.0zM936 177.0v4.0h3v-4.0zM942 177.0v4.0h3v-4.0zM954 177.0v4.0h3v-4.0zM960 177.0v4.0h2v-4.0zM623 181.5v4.0h3v-4.0zM631 181.5v4.0h2v-4.0zM634 181.5v4.0h2v-4.0zM639 181.5v4.0h2v-4.0zM644 181.5v4.0h3v-4.0zM654 181.5v4.0h2v-4.0zM661 181.5v4.0h2v-4.0zM666 181.5v4.0h3v-4.0zM670 181.5v4.0h2v-4.0zM675 181.5v4.0h2v-4.0zM678 181.5v4.0h2v-4.0zM695 181.5v4.0h3v-4.0zM701 181.5v4.0h2v-4.0zM704 181.5v4.0h2v-4.0zM707 181.5v4.0h2v-4.0zM710 181.5v4.0h2v-4.0zM715 181.5v4.0h2v-4.0zM724 181.5v4.0h2v-4.0zM731 181.5v4.0h2v-4.0zM734 181.5v4.0h2v-4.0zM747 181.5v4.0h2v-4.0zM754 181.5v4.0h2v-4.0zM759 181.5v4.0h2v-4.0zM768 181.5v4.0h2v-4.0zM773 181.5v4.0h2v-4.0zM776 181.5v4.0h2v-4.0zM779 181.5v4.0h2v-4.0zM784 181.5v4.0h2v-4.0zM789 181.5v4.0h2v-4.0zM792 181.5v4.0h2v-4.0zM801 181.5v4.0h2v-4.0zM806 181.5v4.0h2v-4.0zM811 181.5v4.0h2v-4.0zM818 181.5v4.0h2v-4.0zM843 181.5v4.0h2v-4.0zM846 181.5v4.0h2v-4.0zM849 181.5v4.0h2v-4.0zM852 181.5v4.0h3v-4.0zM856 181.5v4.0h2v-4.0zM859 181.5v4.0h2v-4.0zM862 181.5v4.0h2v-4.0zM865 181.5v4.0h2v-4.0zM868 181.5v4.0h2v-4.0zM881 181.5v4.0h3v-4.0zM891 181.5v4.0h2v-4.0zM896 181.5v4.0h3v-4.0zM900 181.5v4.0h2v-4.0zM903 181.5v4.0h2v-4.0zM912 181.5v4.0h2v-4.0zM915 181.5v4.0h3v-4.0zM919 181.5v4.0h3v-4.0zM923 181.5v4.0h2v-4.0zM926 181.5v4.0h3v-4.0zM932 181.5v4.0h2v-4.0zM935 181.5v4.0h3v-4.0zM939 181.5v4.0h2v-4.0zM944 181.5v4.0h2v-4.0zM953 181.5v4.0h2v-4.0zM958 181.5v4.0h2v-4.0zM961 181.5v4.0h2v-4.0zM622 185.9v4.0h3v-4.0zM626 185.9v4.0h2v-4.0zM629 185.9v4.0h2v-4.0zM638 185.9v4.0h3v-4.0zM642 185.9v4.0h3v-4.0zM648 185.9v4.0h2v-4.0zM653 185.9v4.0h3v-4.0zM657 185.9v4.0h2v-4.0zM660 185.9v4.0h3v-4.0zM670 185.9v4.0h3v-4.0zM674 185.9v4.0h2v-4.0zM677 185.9v4.0h2v-4.0zM680 185.9v4.0h2v-4.0zM683 185.9v4.0h2v-4.0zM698 185.9v4.0h3v-4.0zM710 185.9v4.0h2v-4.0zM713 185.9v4.0h3v-4.0zM717 185.9v4.0h3v-4.0zM729 185.9v4.0h2v-4.0zM736 185.9v4.0h2v-4.0zM745 185.9v4.0h2v-4.0zM752 185.9v4.0h2v-4.0zM761 185.9v4.0h2v-4.0zM768 185.9v4.0h2v-4.0zM771 185.9v4.0h2v-4.0zM782 185.9v4.0h2v-4.0zM791 185.9v4.0h2v-4.0zM794 185.9v4.0h2v-4.0zM797 185.9v4.0h3v-4.0zM801 185.9v4.0h2v-4.0zM806 185.9v4.0h2v-4.0zM809 185.9v4.0h2v-4.0zM812 185.9v4.0h2v-4.0zM815 185.9v4.0h3v-4.0zM821 185.9v4.0h3v-4.0zM825 185.9v4.0h2v-4.0zM828 185.9v4.0h2v-4.0zM833 185.9v4.0h3v-4.0zM837 185.9v4.0h3v-4.0zM841 185.9v4.0h2v-4.0zM844 185.9v4.0h3v-4.0zM848 185.9v4.0h2v-4.0zM851 185.9v4.0h2v-4.0zM856 185.9v4.0h3v-4.0zM862 185.9v4.0h2v-4.0zM869 185.9v4.0h2v-4.0zM874 185.9v4.0h2v-4.0zM877 185.9v4.0h2v-4.0zM886 185.9v4.0h2v-4.0zM895 185.9v4.0h3v-4.0zM903 185.9v4.0h3v-4.0zM907 185.9v4.0h3v-4.0zM911 185.9v4.0h2v-4.0zM916 185.9v4.0h2v-4.0zM923 185.9v4.0h2v-4.0zM954 185.9v4.0h2v-4.0zM629 190.4v4.0h2v-4.0zM636 190.4v4.0h3v-4.0zM650 190.4v4.0h3v-4.0zM664 190.4v4.0h3v-4.0zM674 190.4v4.0h2v-4.0zM685 190.4v4.0h3v-4.0zM697 190.4v4.0h2v-4.0zM706 190.4v4.0h2v-4.0zM715 190.4v4.0h3v-4.0zM721 190.4v4.0h2v-4.0zM730 190.4v4.0h2v-4.0zM733 190.4v4.0h2v-4.0zM744 190.4v4.0h2v-4.0zM769 190.4v4.0h2v-4.0zM786 190.4v4.0h2v-4.0zM789 190.4v4.0h2v-4.0zM798 190.4v4.0h3v-4.0zM802 190.4v4.0h2v-4.0zM807 190.4v4.0h3v-4.0zM817 190.4v4.0h2v-4.0zM820 190.4v4.0h3v-4.0zM834 190.4v4.0h3v-4.0zM842 190.4v4.0h3v-4.0zM856 190.4v4.0h3v-4.0zM868 190.4v4.0h2v-4.0zM873 190.4v4.0h3v-4.0zM879 190.4v4.0h2v-4.0zM890 190.4v4.0h2v-4.0zM899 190.4v4.0h2v-4.0zM908 190.4v4.0h2v-4.0zM911 190.4v4.0h2v-4.0zM916 190.4v4.0h2v-4.0zM921 190.4v4.0h2v-4.0zM924 190.4v4.0h3v-4.0zM928 190.4v4.0h2v-4.0zM933 190.4v4.0h2v-4.0zM942 190.4v4.0h2v-4.0zM955 190.4v4.0h3v-4.0zM959 190.4v4.0h2v-4.0zM620 194.8v4.0h3v-4.0zM626 194.8v4.0h2v-4.0zM631 194.8v4.0h2v-4.0zM634 194.8v4.0h2v-4.0zM643 194.8v4.0h2v-4.0zM646 194.8v4.0h2v-4.0zM651 194.8v4.0h3v-4.0zM663 194.8v4.0h2v-4.0zM672 194.8v4.0h2v-4.0zM677 194.8v4.0h3v-4.0zM685 194.8v4.0h2v-4.0zM692 194.8v4.0h3v-4.0zM706 194.8v4.0h2v-4.0zM713 194.8v4.0h2v-4.0zM726 194.8v4.0h3v-4.0zM732 194.8v4.0h2v-4.0zM753 194.8v4.0h3v-4.0zM761 194.8v4.0h2v-4.0zM766 194.8v4.0h2v-4.0zM777 194.8v4.0h2v-4.0zM796 194.8v4.0h3v-4.0zM806 194.8v4.0h3v-4.0zM810 194.8v4.0h2v-4.0zM813 194.8v4.0h2v-4.0zM818 194.8v4.0h2v-4.0zM821 194.8v4.0h2v-4.0zM826 194.8v4.0h2v-4.0zM829 194.8v4.0h2v-4.0zM832 194.8v4.0h2v-4.0zM835 194.8v4.0h2v-4.0zM840 194.8v4.0h3v-4.0zM844 194.8v4.0h2v-4.0zM849 194.8v4.0h2v-4.0zM856 194.8v4.0h2v-4.0zM875 194.8v4.0h2v-4.0zM882 194.8v4.0h2v-4.0zM885 194.8v4.0h3v-4.0zM889 194.8v4.0h2v-4.0zM892 194.8v4.0h3v-4.0zM898 194.8v4.0h2v-4.0zM921 194.8v4.0h2v-4.0zM924 194.8v4.0h2v-4.0zM931 194.8v4.0h2v-4.0zM942 194.8v4.0h2v-4.0zM621 199.2v4.0h2v-4.0zM642 199.2v4.0h2v-4.0zM645 199.2v4.0h2v-4.0zM650 199.2v4.0h2v-4.0zM653 199.2v4.0h2v-4.0zM658 199.2v4.0h3v-4.0zM662 199.2v4.0h2v-4.0zM667 199.2v4.0h3v-4.0zM671 199.2v4.0h3v-4.0zM675 199.2v4.0h2v-4.0zM680 199.2v4.0h2v-4.0zM697 199.2v4.0h2v-4.0zM704 199.2v4.0h3v-4.0zM708 199.2v4.0h2v-4.0zM713 199.2v4.0h2v-4.0zM720 199.2v4.0h2v-4.0zM735 199.2v4.0h2v-4.0zM738 199.2v4.0h2v-4.0zM747 199.2v4.0h2v-4.0zM752 199.2v4.0h2v-4.0zM757 199.2v4.0h2v-4.0zM760 199.2v4.0h3v-4.0zM764 199.2v4.0h2v-4.0zM767 199.2v4.0h2v-4.0zM770 199.2v4.0h2v-4.0zM773 199.2v4.0h2v-4.0zM776 199.2v4.0h3v-4.0zM780 199.2v4.0h2v-4.0zM783 199.2v4.0h2v-4.0zM786 199.2v4.0h3v-4.0zM798 199.2v4.0h2v-4.0zM807 199.2v4.0h3v-4.0zM811 199.2v4.0h2v-4.0zM820 199.2v4.0h2v-4.0zM833 199.2v4.0h2v-4.0zM844 199.2v4.0h2v-4.0zM849 199.2v4.0h2v-4.0zM856 199.2v4.0h3v-4.0zM860 199.2v4.0h3v-4.0zM866 199.2v4.0h2v-4.0zM871 199.2v4.0h2v-4.0zM874 199.2v4.0h2v-4.0zM879 199.2v4.0h2v-4.0zM882 199.2v4.0h2v-4.0zM885 199.2v4.0h2v-4.0zM888 199.2v4.0h2v-4.0zM891 199.2v4.0h2v-4.0zM896 199.2v4.0h2v-4.0zM899 199.2v4.0h2v-4.0zM904 199.2v4.0h2v-4.0zM907 199.2v4.0h3v-4.0zM911 199.2v4.0h2v-4.0zM916 199.2v4.0h2v-4.0zM919 199.2v4.0h3v-4.0zM933 199.2v4.0h2v-4.0zM940 199.2v4.0h2v-4.0zM943 199.2v4.0h2v-4.0zM948 199.2v4.0h2v-4.0zM951 199.2v4.0h2v-4.0zM954 199.2v4.0h2v-4.0zM957 199.2v4.0h2v-4.0zM960 199.2v4.0h2v-4.0zM621 203.7v4.0h2v-4.0zM624 203.7v4.0h2v-4.0zM627 203.7v4.0h3v-4.0zM633 203.7v4.0h2v-4.0zM638 203.7v4.0h3v-4.0zM660 203.7v4.0h2v-4.0zM673 203.7v4.0h2v-4.0zM676 203.7v4.0h3v-4.0zM680 203.7v4.0h2v-4.0zM683 203.7v4.0h3v-4.0zM687 203.7v4.0h2v-4.0zM702 203.7v4.0h2v-4.0zM709 203.7v4.0h2v-4.0zM714 203.7v4.0h2v-4.0zM733 203.7v4.0h3v-4.0zM737 203.7v4.0h3v-4.0zM761 203.7v4.0h3v-4.0zM771 203.7v4.0h2v-4.0zM782 203.7v4.0h3v-4.0zM786 203.7v4.0h2v-4.0zM799 203.7v4.0h2v-4.0zM804 203.7v4.0h2v-4.0zM813 203.7v4.0h3v-4.0zM817 203.7v4.0h2v-4.0zM822 203.7v4.0h2v-4.0zM825 203.7v4.0h2v-4.0zM836 203.7v4.0h2v-4.0zM839 203.7v4.0h2v-4.0zM842 203.7v4.0h2v-4.0zM845 203.7v4.0h2v-4.0zM858 203.7v4.0h2v-4.0zM885 203.7v4.0h3v-4.0zM891 203.7v4.0h3v-4.0zM899 203.7v4.0h2v-4.0zM904 203.7v4.0h3v-4.0zM908 203.7v4.0h3v-4.0zM914 203.7v4.0h2v-4.0zM917 203.7v4.0h3v-4.0zM921 203.7v4.0h2v-4.0zM928 203.7v4.0h2v-4.0zM933 203.7v4.0h2v-4.0zM936 203.7v4.0h2v-4.0zM945 203.7v4.0h2v-4.0zM950 203.7v4.0h2v-4.0zM955 203.7v4.0h3v-4.0zM961 203.7v4.0h2v-4.0zM621 208.1v4.0h3v-4.0zM625 208.1v4.0h2v-4.0zM628 208.1v4.0h2v-4.0zM631 208.1v4.0h2v-4.0zM638 208.1v4.0h3v-4.0zM642 208.1v4.0h2v-4.0zM647 208.1v4.0h2v-4.0zM654 208.1v4.0h2v-4.0zM659 208.1v4.0h3v-4.0zM665 208.1v4.0h2v-4.0zM668 208.1v4.0h3v-4.0zM672 208.1v4.0h2v-4.0zM675 208.1v4.0h2v-4.0zM682 208.1v4.0h2v-4.0zM685 208.1v4.0h3v-4.0zM695 208.1v4.0h2v-4.0zM698 208.1v4.0h3v-4.0zM702 208.1v4.0h3v-4.0zM710 208.1v4.0h2v-4.0zM715 208.1v4.0h2v-4.0zM718 208.1v4.0h2v-4.0zM725 208.1v4.0h2v-4.0zM728 208.1v4.0h2v-4.0zM731 208.1v4.0h2v-4.0zM734 208.1v4.0h2v-4.0zM741 208.1v4.0h2v-4.0zM744 208.1v4.0h2v-4.0zM747 208.1v4.0h2v-4.0zM752 208.1v4.0h2v-4.0zM755 208.1v4.0h3v-4.0zM759 208.1v4.0h2v-4.0zM764 208.1v4.0h2v-4.0zM767 208.1v4.0h3v-4.0zM771 208.1v4.0h2v-4.0zM774 208.1v4.0h2v-4.0zM777 208.1v4.0h3v-4.0zM783 208.1v4.0h2v-4.0zM786 208.1v4.0h2v-4.0zM789 208.1v4.0h2v-4.0zM792 208.1v4.0h3v-4.0zM796 208.1v4.0h3v-4.0zM800 208.1v4.0h3v-4.0zM806 208.1v4.0h2v-4.0zM809 208.1v4.0h2v-4.0zM814 208.1v4.0h2v-4.0zM817 208.1v4.0h3v-4.0zM821 208.1v4.0h2v-4.0zM824 208.1v4.0h2v-4.0zM827 208.1v4.0h2v-4.0zM832 208.1v4.0h2v-4.0zM835 208.1v4.0h2v-4.0zM838 208.1v4.0h2v-4.0zM841 208.1v4.0h2v-4.0zM844 208.1v4.0h2v-4.0zM847 208.1v4.0h2v-4.0zM850 208.1v4.0h2v-4.0zM853 208.1v4.0h2v-4.0zM856 208.1v4.0h3v-4.0zM860 208.1v4.0h3v-4.0zM864 208.1v4.0h2v-4.0zM867 208.1v4.0h2v-4.0zM874 208.1v4.0h2v-4.0zM887 208.1v4.0h2v-4.0zM890 208.1v4.0h3v-4.0zM894 208.1v4.0h2v-4.0zM897 208.1v4.0h3v-4.0zM903 208.1v4.0h3v-4.0zM911 208.1v4.0h2v-4.0zM914 208.1v4.0h2v-4.0zM917 208.1v4.0h2v-4.0zM920 208.1v4.0h3v-4.0zM924 208.1v4.0h3v-4.0zM928 208.1v4.0h2v-4.0zM931 208.1v4.0h2v-4.0zM934 208.1v4.0h2v-4.0zM937 208.1v4.0h2v-4.0zM940 208.1v4.0h2v-4.0zM943 208.1v4.0h3v-4.0zM949 208.1v4.0h2v-4.0zM952 208.1v4.0h2v-4.0zM959 208.1v4.0h2v-4.0zM622 212.5v4.0h3v-4.0zM628 212.5v4.0h2v-4.0zM633 212.5v4.0h2v-4.0zM646 212.5v4.0h3v-4.0zM650 212.5v4.0h2v-4.0zM655 212.5v4.0h2v-4.0zM660 212.5v4.0h2v-4.0zM669 212.5v4.0h2v-4.0zM672 212.5v4.0h2v-4.0zM691 212.5v4.0h2v-4.0zM694 212.5v4.0h2v-4.0zM705 212.5v4.0h2v-4.0zM714 212.5v4.0h2v-4.0zM717 212.5v4.0h3v-4.0zM729 212.5v4.0h2v-4.0zM736 212.5v4.0h2v-4.0zM739 212.5v4.0h2v-4.0zM744 212.5v4.0h3v-4.0zM748 212.5v4.0h3v-4.0zM752 212.5v4.0h3v-4.0zM756 212.5v4.0h2v-4.0zM759 212.5v4.0h2v-4.0zM762 212.5v4.0h2v-4.0zM765 212.5v4.0h2v-4.0zM768 212.5v4.0h2v-4.0zM777 212.5v4.0h2v-4.0zM780 212.5v4.0h2v-4.0zM783 212.5v4.0h2v-4.0zM786 212.5v4.0h2v-4.0zM789 212.5v4.0h3v-4.0zM793 212.5v4.0h2v-4.0zM796 212.5v4.0h3v-4.0zM804 212.5v4.0h2v-4.0zM809 212.5v4.0h2v-4.0zM812 212.5v4.0h2v-4.0zM821 212.5v4.0h3v-4.0zM825 212.5v4.0h3v-4.0zM831 212.5v4.0h2v-4.0zM834 212.5v4.0h2v-4.0zM837 212.5v4.0h2v-4.0zM840 212.5v4.0h2v-4.0zM843 212.5v4.0h2v-4.0zM848 212.5v4.0h3v-4.0zM852 212.5v4.0h2v-4.0zM857 212.5v4.0h3v-4.0zM861 212.5v4.0h3v-4.0zM867 212.5v4.0h2v-4.0zM870 212.5v4.0h2v-4.0zM873 212.5v4.0h2v-4.0zM888 212.5v4.0h3v-4.0zM892 212.5v4.0h2v-4.0zM895 212.5v4.0h2v-4.0zM898 212.5v4.0h3v-4.0zM910 212.5v4.0h2v-4.0zM913 212.5v4.0h2v-4.0zM916 212.5v4.0h3v-4.0zM924 212.5v4.0h2v-4.0zM931 212.5v4.0h2v-4.0zM934 212.5v4.0h2v-4.0zM939 212.5v4.0h2v-4.0zM946 212.5v4.0h2v-4.0zM949 212.5v4.0h2v-4.0zM952 212.5v4.0h2v-4.0zM955 212.5v4.0h2v-4.0zM958 212.5v4.0h2v-4.0zM961 212.5v4.0h3v-4.0zM620 217.0v4.0h3v-4.0zM628 217.0v4.0h2v-4.0zM637 217.0v4.0h2v-4.0zM642 217.0v4.0h3v-4.0zM646 217.0v4.0h3v-4.0zM650 217.0v4.0h2v-4.0zM653 217.0v4.0h3v-4.0zM661 217.0v4.0h2v-4.0zM672 217.0v4.0h2v-4.0zM675 217.0v4.0h2v-4.0zM686 217.0v4.0h2v-4.0zM699 217.0v4.0h2v-4.0zM706 217.0v4.0h3v-4.0zM710 217.0v4.0h2v-4.0zM713 217.0v4.0h2v-4.0zM716 217.0v4.0h2v-4.0zM719 217.0v4.0h3v-4.0zM723 217.0v4.0h3v-4.0zM727 217.0v4.0h3v-4.0zM731 217.0v4.0h2v-4.0zM736 217.0v4.0h3v-4.0zM744 217.0v4.0h3v-4.0zM748 217.0v4.0h2v-4.0zM753 217.0v4.0h3v-4.0zM763 217.0v4.0h2v-4.0zM768 217.0v4.0h3v-4.0zM774 217.0v4.0h3v-4.0zM788 217.0v4.0h3v-4.0zM802 217.0v4.0h2v-4.0zM807 217.0v4.0h2v-4.0zM814 217.0v4.0h2v-4.0zM819 217.0v4.0h2v-4.0zM830 217.0v4.0h2v-4.0zM863 217.0v4.0h3v-4.0zM873 217.0v4.0h3v-4.0zM879 217.0v4.0h2v-4.0zM892 217.0v4.0h2v-4.0zM897 217.0v4.0h3v-4.0zM901 217.0v4.0h3v-4.0zM909 217.0v4.0h2v-4.0zM914 217.0v4.0h2v-4.0zM919 217.0v4.0h2v-4.0zM922 217.0v4.0h2v-4.0zM931 217.0v4.0h2v-4.0zM938 217.0v4.0h2v-4.0zM943 217.0v4.0h2v-4.0zM946 217.0v4.0h2v-4.0zM949 217.0v4.0h2v-4.0zM956 217.0v4.0h2v-4.0zM961 217.0v4.0h2v-4.0zM621 221.4v4.0h3v-4.0zM625 221.4v4.0h3v-4.0zM629 221.4v4.0h2v-4.0zM634 221.4v4.0h2v-4.0zM649 221.4v4.0h2v-4.0zM668 221.4v4.0h2v-4.0zM679 221.4v4.0h2v-4.0zM682 221.4v4.0h2v-4.0zM695 221.4v4.0h2v-4.0zM724 221.4v4.0h2v-4.0zM729 221.4v4.0h2v-4.0zM732 221.4v4.0h2v-4.0zM741 221.4v4.0h2v-4.0zM744 221.4v4.0h2v-4.0zM749 221.4v4.0h2v-4.0zM754 221.4v4.0h2v-4.0zM759 221.4v4.0h2v-4.0zM762 221.4v4.0h2v-4.0zM769 221.4v4.0h2v-4.0zM778 221.4v4.0h2v-4.0zM781 221.4v4.0h2v-4.0zM784 221.4v4.0h3v-4.0zM788 221.4v4.0h2v-4.0zM797 221.4v4.0h2v-4.0zM802 221.4v4.0h2v-4.0zM807 221.4v4.0h2v-4.0zM816 221.4v4.0h3v-4.0zM820 221.4v4.0h2v-4.0zM823 221.4v4.0h2v-4.0zM826 221.4v4.0h2v-4.0zM829 221.4v4.0h3v-4.0zM835 221.4v4.0h2v-4.0zM844 221.4v4.0h2v-4.0zM869 221.4v4.0h3v-4.0zM873 221.4v4.0h2v-4.0zM880 221.4v4.0h3v-4.0zM888 221.4v4.0h3v-4.0zM892 221.4v4.0h2v-4.0zM895 221.4v4.0h3v-4.0zM901 221.4v4.0h3v-4.0zM905 221.4v4.0h2v-4.0zM908 221.4v4.0h2v-4.0zM919 221.4v4.0h3v-4.0zM923 221.4v4.0h3v-4.0zM939 221.4v4.0h2v-4.0zM954 221.4v4.0h2v-4.0zM620 225.8v4.0h2v-4.0zM623 225.8v4.0h3v-4.0zM627 225.8v4.0h2v-4.0zM630 225.8v4.0h3v-4.0zM634 225.8v4.0h2v-4.0zM637 225.8v4.0h2v-4.0zM640 225.8v4.0h3v-4.0zM646 225.8v4.0h2v-4.0zM657 225.8v4.0h2v-4.0zM662 225.8v4.0h2v-4.0zM665 225.8v4.0h2v-4.0zM668 225.8v4.0h2v-4.0zM677 225.8v4.0h2v-4.0zM684 225.8v4.0h2v-4.0zM691 225.8v4.0h2v-4.0zM698 225.8v4.0h2v-4.0zM701 225.8v4.0h3v-4.0zM709 225.8v4.0h3v-4.0zM717 225.8v4.0h2v-4.0zM722 225.8v4.0h2v-4.0zM731 225.8v4.0h2v-4.0zM734 225.8v4.0h2v-4.0zM737 225.8v4.0h2v-4.0zM742 225.8v4.0h2v-4.0zM745 225.8v4.0h2v-4.0zM760 225.8v4.0h3v-4.0zM764 225.8v4.0h2v-4.0zM771 225.8v4.0h2v-4.0zM774 225.8v4.0h3v-4.0zM780 225.8v4.0h2v-4.0zM787 225.8v4.0h2v-4.0zM800 225.8v4.0h2v-4.0zM807 225.8v4.0h2v-4.0zM816 225.8v4.0h2v-4.0zM821 225.8v4.0h2v-4.0zM824 225.8v4.0h3v-4.0zM828 225.8v4.0h3v-4.0zM832 225.8v4.0h2v-4.0zM835 225.8v4.0h3v-4.0zM839 225.8v4.0h2v-4.0zM842 225.8v4.0h3v-4.0zM866 225.8v4.0h2v-4.0zM881 225.8v4.0h2v-4.0zM896 225.8v4.0h2v-4.0zM905 225.8v4.0h2v-4.0zM914 225.8v4.0h2v-4.0zM921 225.8v4.0h2v-4.0zM924 225.8v4.0h2v-4.0zM927 225.8v4.0h3v-4.0zM933 225.8v4.0h2v-4.0zM938 225.8v4.0h2v-4.0zM945 225.8v4.0h2v-4.0zM952 225.8v4.0h2v-4.0zM961 225.8v4.0h3v-4.0zM631 230.3v4.0h2v-4.0zM634 230.3v4.0h2v-4.0zM639 230.3v4.0h2v-4.0zM648 230.3v4.0h2v-4.0zM657 230.3v4.0h2v-4.0zM660 230.3v4.0h2v-4.0zM673 230.3v4.0h2v-4.0zM676 230.3v4.0h3v-4.0zM680 230.3v4.0h2v-4.0zM683 230.3v4.0h2v-4.0zM686 230.3v4.0h2v-4.0zM705 230.3v4.0h2v-4.0zM710 230.3v4.0h2v-4.0zM713 230.3v4.0h2v-4.0zM722 230.3v4.0h2v-4.0zM725 230.3v4.0h3v-4.0zM731 230.3v4.0h2v-4.0zM738 230.3v4.0h2v-4.0zM741 230.3v4.0h3v-4.0zM763 230.3v4.0h2v-4.0zM766 230.3v4.0h2v-4.0zM771 230.3v4.0h2v-4.0zM774 230.3v4.0h2v-4.0zM779 230.3v4.0h2v-4.0zM782 230.3v4.0h2v-4.0zM785 230.3v4.0h3v-4.0zM789 230.3v4.0h2v-4.0zM794 230.3v4.0h3v-4.0zM798 230.3v4.0h2v-4.0zM807 230.3v4.0h2v-4.0zM810 230.3v4.0h2v-4.0zM813 230.3v4.0h3v-4.0zM817 230.3v4.0h2v-4.0zM820 230.3v4.0h2v-4.0zM825 230.3v4.0h2v-4.0zM834 230.3v4.0h2v-4.0zM839 230.3v4.0h2v-4.0zM842 230.3v4.0h2v-4.0zM845 230.3v4.0h3v-4.0zM851 230.3v4.0h2v-4.0zM854 230.3v4.0h2v-4.0zM857 230.3v4.0h2v-4.0zM860 230.3v4.0h2v-4.0zM863 230.3v4.0h2v-4.0zM868 230.3v4.0h2v-4.0zM903 230.3v4.0h3v-4.0zM913 230.3v4.0h3v-4.0zM917 230.3v4.0h2v-4.0zM922 230.3v4.0h3v-4.0zM926 230.3v4.0h2v-4.0zM931 230.3v4.0h3v-4.0zM935 230.3v4.0h3v-4.0zM939 230.3v4.0h2v-4.0zM942 230.3v4.0h2v-4.0zM945 230.3v4.0h2v-4.0zM948 230.3v4.0h3v-4.0zM954 230.3v4.0h2v-4.0zM957 230.3v4.0h3v-4.0zM961 230.3v4.0h2v-4.0zM620 234.7v4.0h2v-4.0zM623 234.7v4.0h2v-4.0zM630 234.7v4.0h2v-4.0zM637 234.7v4.0h2v-4.0zM640 234.7v4.0h2v-4.0zM645 234.7v4.0h3v-4.0zM649 234.7v4.0h2v-4.0zM652 234.7v4.0h2v-4.0zM655 234.7v4.0h3v-4.0zM659 234.7v4.0h2v-4.0zM662 234.7v4.0h2v-4.0zM665 234.7v4.0h2v-4.0zM668 234.7v4.0h3v-4.0zM672 234.7v4.0h3v-4.0zM676 234.7v4.0h3v-4.0zM680 234.7v4.0h3v-4.0zM684 234.7v4.0h3v-4.0zM692 234.7v4.0h3v-4.0zM696 234.7v4.0h2v-4.0zM699 234.7v4.0h2v-4.0zM702 234.7v4.0h3v-4.0zM706 234.7v4.0h2v-4.0zM709 234.7v4.0h2v-4.0zM716 234.7v4.0h3v-4.0zM720 234.7v4.0h3v-4.0zM724 234.7v4.0h3v-4.0zM728 234.7v4.0h2v-4.0zM731 234.7v4.0h2v-4.0zM734 234.7v4.0h2v-4.0zM737 234.7v4.0h2v-4.0zM742 234.7v4.0h2v-4.0zM755 234.7v4.0h2v-4.0zM762 234.7v4.0h2v-4.0zM769 234.7v4.0h2v-4.0zM772 234.7v4.0h3v-4.0zM776 234.7v4.0h2v-4.0zM779 234.7v4.0h3v-4.0zM783 234.7v4.0h3v-4.0zM787 234.7v4.0h2v-4.0zM804 234.7v4.0h2v-4.0zM809 234.7v4.0h2v-4.0zM812 234.7v4.0h2v-4.0zM817 234.7v4.0h2v-4.0zM820 234.7v4.0h2v-4.0zM823 234.7v4.0h2v-4.0zM826 234.7v4.0h3v-4.0zM830 234.7v4.0h2v-4.0zM833 234.7v4.0h2v-4.0zM840 234.7v4.0h2v-4.0zM843 234.7v4.0h2v-4.0zM848 234.7v4.0h3v-4.0zM852 234.7v4.0h2v-4.0zM859 234.7v4.0h2v-4.0zM862 234.7v4.0h2v-4.0zM865 234.7v4.0h3v-4.0zM869 234.7v4.0h3v-4.0zM873 234.7v4.0h2v-4.0zM878 234.7v4.0h2v-4.0zM881 234.7v4.0h2v-4.0zM890 234.7v4.0h2v-4.0zM893 234.7v4.0h2v-4.0zM896 234.7v4.0h2v-4.0zM899 234.7v4.0h3v-4.0zM911 234.7v4.0h3v-4.0zM915 234.7v4.0h2v-4.0zM918 234.7v4.0h2v-4.0zM921 234.7v4.0h2v-4.0zM924 234.7v4.0h2v-4.0zM927 234.7v4.0h2v-4.0zM932 234.7v4.0h2v-4.0zM937 234.7v4.0h2v-4.0zM942 234.7v4.0h2v-4.0zM955 234.7v4.0h3v-4.0zM961 234.7v4.0h2v-4.0zM622 239.1v4.0h3v-4.0zM626 239.1v4.0h2v-4.0zM629 239.1v4.0h3v-4.0zM641 239.1v4.0h3v-4.0zM649 239.1v4.0h2v-4.0zM652 239.1v4.0h3v-4.0zM658 239.1v4.0h3v-4.0zM666 239.1v4.0h2v-4.0zM671 239.1v4.0h2v-4.0zM674 239.1v4.0h2v-4.0zM679 239.1v4.0h2v-4.0zM682 239.1v4.0h2v-4.0zM691 239.1v4.0h2v-4.0zM696 239.1v4.0h3v-4.0zM710 239.1v4.0h2v-4.0zM713 239.1v4.0h2v-4.0zM716 239.1v4.0h2v-4.0zM719 239.1v4.0h2v-4.0zM724 239.1v4.0h2v-4.0zM727 239.1v4.0h2v-4.0zM730 239.1v4.0h2v-4.0zM733 239.1v4.0h2v-4.0zM738 239.1v4.0h3v-4.0zM742 239.1v4.0h2v-4.0zM749 239.1v4.0h2v-4.0zM754 239.1v4.0h2v-4.0zM757 239.1v4.0h2v-4.0zM760 239.1v4.0h3v-4.0zM768 239.1v4.0h2v-4.0zM779 239.1v4.0h3v-4.0zM783 239.1v4.0h2v-4.0zM788 239.1v4.0h2v-4.0zM807 239.1v4.0h2v-4.0zM816 239.1v4.0h2v-4.0zM821 239.1v4.0h2v-4.0zM834 239.1v4.0h2v-4.0zM841 239.1v4.0h3v-4.0zM857 239.1v4.0h2v-4.0zM862 239.1v4.0h3v-4.0zM866 239.1v4.0h2v-4.0zM869 239.1v4.0h3v-4.0zM873 239.1v4.0h2v-4.0zM876 239.1v4.0h2v-4.0zM883 239.1v4.0h2v-4.0zM886 239.1v4.0h2v-4.0zM889 239.1v4.0h2v-4.0zM892 239.1v4.0h3v-4.0zM896 239.1v4.0h2v-4.0zM899 239.1v4.0h3v-4.0zM909 239.1v4.0h2v-4.0zM914 239.1v4.0h2v-4.0zM919 239.1v4.0h2v-4.0zM922 239.1v4.0h3v-4.0zM926 239.1v4.0h2v-4.0zM933 239.1v4.0h2v-4.0zM936 239.1v4.0h2v-4.0zM939 239.1v4.0h2v-4.0zM946 239.1v4.0h3v-4.0zM950 239.1v4.0h2v-4.0zM955 239.1v4.0h3v-4.0zM620 243.6v4.0h2v-4.0zM627 243.6v4.0h2v-4.0zM642 243.6v4.0h2v-4.0zM647 243.6v4.0h3v-4.0zM651 243.6v4.0h2v-4.0zM658 243.6v4.0h3v-4.0zM664 243.6v4.0h3v-4.0zM670 243.6v4.0h2v-4.0zM677 243.6v4.0h2v-4.0zM682 243.6v4.0h2v-4.0zM687 243.6v4.0h2v-4.0zM690 243.6v4.0h2v-4.0zM693 243.6v4.0h3v-4.0zM707 243.6v4.0h2v-4.0zM720 243.6v4.0h2v-4.0zM729 243.6v4.0h3v-4.0zM733 243.6v4.0h2v-4.0zM736 243.6v4.0h2v-4.0zM741 243.6v4.0h2v-4.0zM746 243.6v4.0h2v-4.0zM749 243.6v4.0h2v-4.0zM754 243.6v4.0h2v-4.0zM757 243.6v4.0h3v-4.0zM763 243.6v4.0h2v-4.0zM768 243.6v4.0h2v-4.0zM779 243.6v4.0h2v-4.0zM782 243.6v4.0h3v-4.0zM792 243.6v4.0h2v-4.0zM795 243.6v4.0h3v-4.0zM799 243.6v4.0h2v-4.0zM806 243.6v4.0h2v-4.0zM809 243.6v4.0h2v-4.0zM816 243.6v4.0h2v-4.0zM821 243.6v4.0h2v-4.0zM826 243.6v4.0h3v-4.0zM836 243.6v4.0h3v-4.0zM840 243.6v4.0h2v-4.0zM845 243.6v4.0h3v-4.0zM849 243.6v4.0h2v-4.0zM854 243.6v4.0h3v-4.0zM858 243.6v4.0h3v-4.0zM864 243.6v4.0h2v-4.0zM873 243.6v4.0h2v-4.0zM876 243.6v4.0h2v-4.0zM879 243.6v4.0h2v-4.0zM882 243.6v4.0h2v-4.0zM885 243.6v4.0h2v-4.0zM892 243.6v4.0h3v-4.0zM896 243.6v4.0h3v-4.0zM902 243.6v4.0h2v-4.0zM905 243.6v4.0h2v-4.0zM908 243.6v4.0h2v-4.0zM911 243.6v4.0h2v-4.0zM922 243.6v4.0h3v-4.0zM940 243.6v4.0h2v-4.0zM945 243.6v4.0h3v-4.0zM959 243.6v4.0h3v-4.0zM620 248.0v4.0h3v-4.0zM624 248.0v4.0h3v-4.0zM630 248.0v4.0h2v-4.0zM633 248.0v4.0h2v-4.0zM638 248.0v4.0h2v-4.0zM643 248.0v4.0h2v-4.0zM652 248.0v4.0h2v-4.0zM659 248.0v4.0h3v-4.0zM665 248.0v4.0h2v-4.0zM668 248.0v4.0h2v-4.0zM671 248.0v4.0h2v-4.0zM676 248.0v4.0h2v-4.0zM687 248.0v4.0h3v-4.0zM691 248.0v4.0h3v-4.0zM697 248.0v4.0h2v-4.0zM700 248.0v4.0h2v-4.0zM703 248.0v4.0h3v-4.0zM711 248.0v4.0h2v-4.0zM716 248.0v4.0h3v-4.0zM720 248.0v4.0h2v-4.0zM723 248.0v4.0h2v-4.0zM728 248.0v4.0h2v-4.0zM731 248.0v4.0h3v-4.0zM735 248.0v4.0h3v-4.0zM739 248.0v4.0h2v-4.0zM742 248.0v4.0h2v-4.0zM745 248.0v4.0h2v-4.0zM748 248.0v4.0h3v-4.0zM752 248.0v4.0h3v-4.0zM758 248.0v4.0h2v-4.0zM763 248.0v4.0h3v-4.0zM777 248.0v4.0h2v-4.0zM782 248.0v4.0h3v-4.0zM786 248.0v4.0h2v-4.0zM789 248.0v4.0h2v-4.0zM792 248.0v4.0h2v-4.0zM795 248.0v4.0h2v-4.0zM798 248.0v4.0h2v-4.0zM801 248.0v4.0h2v-4.0zM806 248.0v4.0h2v-4.0zM811 248.0v4.0h2v-4.0zM818 248.0v4.0h2v-4.0zM821 248.0v4.0h2v-4.0zM824 248.0v4.0h2v-4.0zM827 248.0v4.0h2v-4.0zM830 248.0v4.0h2v-4.0zM835 248.0v4.0h2v-4.0zM844 248.0v4.0h3v-4.0zM850 248.0v4.0h2v-4.0zM861 248.0v4.0h2v-4.0zM864 248.0v4.0h2v-4.0zM873 248.0v4.0h3v-4.0zM881 248.0v4.0h2v-4.0zM884 248.0v4.0h3v-4.0zM888 248.0v4.0h2v-4.0zM893 248.0v4.0h3v-4.0zM899 248.0v4.0h2v-4.0zM902 248.0v4.0h3v-4.0zM906 248.0v4.0h2v-4.0zM909 248.0v4.0h2v-4.0zM916 248.0v4.0h2v-4.0zM919 248.0v4.0h3v-4.0zM923 248.0v4.0h3v-4.0zM927 248.0v4.0h2v-4.0zM930 248.0v4.0h2v-4.0zM933 248.0v4.0h2v-4.0zM936 248.0v4.0h3v-4.0zM940 248.0v4.0h3v-4.0zM944 248.0v4.0h2v-4.0zM949 248.0v4.0h2v-4.0zM952 248.0v4.0h3v-4.0zM956 248.0v4.0h2v-4.0zM959 248.0v4.0h3v-4.0zM625 252.5v4.0h3v-4.0zM639 252.5v4.0h2v-4.0zM646 252.5v4.0h2v-4.0zM649 252.5v4.0h2v-4.0zM652 252.5v4.0h3v-4.0zM662 252.5v4.0h2v-4.0zM679 252.5v4.0h2v-4.0zM682 252.5v4.0h2v-4.0zM685 252.5v4.0h2v-4.0zM690 252.5v4.0h3v-4.0zM700 252.5v4.0h2v-4.0zM751 252.5v4.0h2v-4.0zM758 252.5v4.0h2v-4.0zM763 252.5v4.0h2v-4.0zM774 252.5v4.0h2v-4.0zM779 252.5v4.0h2v-4.0zM782 252.5v4.0h2v-4.0zM785 252.5v4.0h2v-4.0zM788 252.5v4.0h3v-4.0zM796 252.5v4.0h2v-4.0zM799 252.5v4.0h2v-4.0zM802 252.5v4.0h2v-4.0zM805 252.5v4.0h2v-4.0zM808 252.5v4.0h2v-4.0zM811 252.5v4.0h2v-4.0zM814 252.5v4.0h2v-4.0zM817 252.5v4.0h3v-4.0zM823 252.5v4.0h2v-4.0zM828 252.5v4.0h2v-4.0zM835 252.5v4.0h2v-4.0zM838 252.5v4.0h2v-4.0zM841 252.5v4.0h2v-4.0zM848 252.5v4.0h3v-4.0zM854 252.5v4.0h2v-4.0zM863 252.5v4.0h2v-4.0zM870 252.5v4.0h2v-4.0zM873 252.5v4.0h3v-4.0zM877 252.5v4.0h2v-4.0zM880 252.5v4.0h3v-4.0zM886 252.5v4.0h2v-4.0zM893 252.5v4.0h2v-4.0zM898 252.5v4.0h2v-4.0zM901 252.5v4.0h2v-4.0zM904 252.5v4.0h2v-4.0zM907 252.5v4.0h2v-4.0zM910 252.5v4.0h2v-4.0zM913 252.5v4.0h2v-4.0zM920 252.5v4.0h2v-4.0zM923 252.5v4.0h2v-4.0zM930 252.5v4.0h2v-4.0zM933 252.5v4.0h2v-4.0zM938 252.5v4.0h3v-4.0zM944 252.5v4.0h2v-4.0zM947 252.5v4.0h2v-4.0zM952 252.5v4.0h3v-4.0zM956 252.5v4.0h2v-4.0zM959 252.5v4.0h2v-4.0zM623 256.9v4.0h3v-4.0zM627 256.9v4.0h3v-4.0zM633 256.9v4.0h3v-4.0zM637 256.9v4.0h3v-4.0zM645 256.9v4.0h2v-4.0zM652 256.9v4.0h2v-4.0zM659 256.9v4.0h2v-4.0zM662 256.9v4.0h2v-4.0zM667 256.9v4.0h2v-4.0zM670 256.9v4.0h2v-4.0zM675 256.9v4.0h2v-4.0zM678 256.9v4.0h3v-4.0zM682 256.9v4.0h3v-4.0zM686 256.9v4.0h2v-4.0zM689 256.9v4.0h2v-4.0zM692 256.9v4.0h2v-4.0zM695 256.9v4.0h2v-4.0zM698 256.9v4.0h2v-4.0zM701 256.9v4.0h2v-4.0zM704 256.9v4.0h2v-4.0zM707 256.9v4.0h2v-4.0zM710 256.9v4.0h3v-4.0zM714 256.9v4.0h2v-4.0zM717 256.9v4.0h2v-4.0zM720 256.9v4.0h3v-4.0zM724 256.9v4.0h2v-4.0zM727 256.9v4.0h2v-4.0zM730 256.9v4.0h2v-4.0zM733 256.9v4.0h2v-4.0zM736 256.9v4.0h2v-4.0zM739 256.9v4.0h2v-4.0zM742 256.9v4.0h2v-4.0zM745 256.9v4.0h3v-4.0zM749 256.9v4.0h2v-4.0zM752 256.9v4.0h2v-4.0zM755 256.9v4.0h2v-4.0zM758 256.9v4.0h3v-4.0zM762 256.9v4.0h2v-4.0zM765 256.9v4.0h2v-4.0zM768 256.9v4.0h2v-4.0zM771 256.9v4.0h2v-4.0zM774 256.9v4.0h2v-4.0zM777 256.9v4.0h2v-4.0zM780 256.9v4.0h2v-4.0zM783 256.9v4.0h3v-4.0zM787 256.9v4.0h3v-4.0zM791 256.9v4.0h2v-4.0zM794 256.9v4.0h2v-4.0zM797 256.9v4.0h2v-4.0zM800 256.9v4.0h2v-4.0zM803 256.9v4.0h2v-4.0zM806 256.9v4.0h2v-4.0zM809 256.9v4.0h3v-4.0zM813 256.9v4.0h3v-4.0zM817 256.9v4.0h2v-4.0zM824 256.9v4.0h2v-4.0zM827 256.9v4.0h3v-4.0zM831 256.9v4.0h2v-4.0zM840 256.9v4.0h2v-4.0zM847 256.9v4.0h2v-4.0zM850 256.9v4.0h2v-4.0zM863 256.9v4.0h2v-4.0zM866 256.9v4.0h2v-4.0zM875 256.9v4.0h2v-4.0zM878 256.9v4.0h2v-4.0zM883 256.9v4.0h2v-4.0zM898 256.9v4.0h2v-4.0zM911 256.9v4.0h3v-4.0zM919 256.9v4.0h2v-4.0zM926 256.9v4.0h2v-4.0zM933 256.9v4.0h2v-4.0zM938 256.9v4.0h2v-4.0zM943 256.9v4.0h3v-4.0zM947 256.9v4.0h3v-4.0zM951 256.9v4.0h2v-4.0zM954 256.9v4.0h2v-4.0zM959 256.9v4.0h2v-4.0zM620 261.3v4.0h2v-4.0zM625 261.3v4.0h2v-4.0zM630 261.3v4.0h3v-4.0zM636 261.3v4.0h3v-4.0zM652 261.3v4.0h2v-4.0zM657 261.3v4.0h2v-4.0zM660 261.3v4.0h2v-4.0zM671 261.3v4.0h2v-4.0zM674 261.3v4.0h2v-4.0zM677 261.3v4.0h2v-4.0zM680 261.3v4.0h3v-4.0zM686 261.3v4.0h2v-4.0zM691 261.3v4.0h3v-4.0zM695 261.3v4.0h2v-4.0zM698 261.3v4.0h3v-4.0zM704 261.3v4.0h2v-4.0zM707 261.3v4.0h2v-4.0zM712 261.3v4.0h2v-4.0zM715 261.3v4.0h2v-4.0zM720 261.3v4.0h2v-4.0zM727 261.3v4.0h2v-4.0zM732 261.3v4.0h3v-4.0zM744 261.3v4.0h2v-4.0zM753 261.3v4.0h2v-4.0zM768 261.3v4.0h2v-4.0zM785 261.3v4.0h3v-4.0zM793 261.3v4.0h2v-4.0zM796 261.3v4.0h2v-4.0zM799 261.3v4.0h2v-4.0zM802 261.3v4.0h2v-4.0zM809 261.3v4.0h2v-4.0zM812 261.3v4.0h3v-4.0zM820 261.3v4.0h2v-4.0zM829 261.3v4.0h2v-4.0zM836 261.3v4.0h2v-4.0zM839 261.3v4.0h2v-4.0zM852 261.3v4.0h2v-4.0zM869 261.3v4.0h2v-4.0zM872 261.3v4.0h2v-4.0zM883 261.3v4.0h3v-4.0zM891 261.3v4.0h2v-4.0zM918 261.3v4.0h2v-4.0zM925 261.3v4.0h2v-4.0zM944 261.3v4.0h2v-4.0zM951 261.3v4.0h2v-4.0zM622 265.8v4.0h3v-4.0zM630 265.8v4.0h2v-4.0zM649 265.8v4.0h2v-4.0zM652 265.8v4.0h3v-4.0zM670 265.8v4.0h3v-4.0zM674 265.8v4.0h3v-4.0zM684 265.8v4.0h2v-4.0zM691 265.8v4.0h2v-4.0zM694 265.8v4.0h2v-4.0zM697 265.8v4.0h2v-4.0zM700 265.8v4.0h3v-4.0zM704 265.8v4.0h2v-4.0zM715 265.8v4.0h2v-4.0zM722 265.8v4.0h3v-4.0zM726 265.8v4.0h2v-4.0zM737 265.8v4.0h2v-4.0zM748 265.8v4.0h2v-4.0zM763 265.8v4.0h3v-4.0zM767 265.8v4.0h2v-4.0zM772 265.8v4.0h2v-4.0zM775 265.8v4.0h2v-4.0zM778 265.8v4.0h3v-4.0zM784 265.8v4.0h2v-4.0zM787 265.8v4.0h2v-4.0zM792 265.8v4.0h2v-4.0zM795 265.8v4.0h2v-4.0zM804 265.8v4.0h3v-4.0zM840 265.8v4.0h3v-4.0zM850 265.8v4.0h2v-4.0zM853 265.8v4.0h2v-4.0zM856 265.8v4.0h3v-4.0zM862 265.8v4.0h2v-4.0zM865 265.8v4.0h2v-4.0zM878 265.8v4.0h3v-4.0zM882 265.8v4.0h2v-4.0zM887 265.8v4.0h2v-4.0zM892 265.8v4.0h3v-4.0zM898 265.8v4.0h3v-4.0zM916 265.8v4.0h3v-4.0zM928 265.8v4.0h2v-4.0zM939 265.8v4.0h2v-4.0zM946 265.8v4.0h3v-4.0zM956 265.8v4.0h2v-4.0zM623 270.2v4.0h3v-4.0zM627 270.2v4.0h3v-4.0zM631 270.2v4.0h2v-4.0zM638 270.2v4.0h2v-4.0zM649 270.2v4.0h2v-4.0zM656 270.2v4.0h2v-4.0zM659 270.2v4.0h2v-4.0zM666 270.2v4.0h2v-4.0zM669 270.2v4.0h3v-4.0zM679 270.2v4.0h2v-4.0zM684 270.2v4.0h3v-4.0zM690 270.2v4.0h2v-4.0zM701 270.2v4.0h3v-4.0zM707 270.2v4.0h3v-4.0zM717 270.2v4.0h2v-4.0zM720 270.2v4.0h2v-4.0zM723 270.2v4.0h2v-4.0zM726 270.2v4.0h2v-4.0zM729 270.2v4.0h2v-4.0zM732 270.2v4.0h2v-4.0zM749 270.2v4.0h3v-4.0zM753 270.2v4.0h2v-4.0zM756 270.2v4.0h3v-4.0zM770 270.2v4.0h2v-4.0zM775 270.2v4.0h3v-4.0zM779 270.2v4.0h3v-4.0zM785 270.2v4.0h2v-4.0zM788 270.2v4.0h3v-4.0zM792 270.2v4.0h3v-4.0zM796 270.2v4.0h2v-4.0zM799 270.2v4.0h2v-4.0zM802 270.2v4.0h3v-4.0zM806 270.2v4.0h2v-4.0zM809 270.2v4.0h3v-4.0zM813 270.2v4.0h3v-4.0zM817 270.2v4.0h2v-4.0zM822 270.2v4.0h3v-4.0zM826 270.2v4.0h2v-4.0zM831 270.2v4.0h2v-4.0zM834 270.2v4.0h3v-4.0zM838 270.2v4.0h2v-4.0zM841 270.2v4.0h2v-4.0zM844 270.2v4.0h2v-4.0zM849 270.2v4.0h2v-4.0zM852 270.2v4.0h2v-4.0zM855 270.2v4.0h2v-4.0zM858 270.2v4.0h2v-4.0zM861 270.2v4.0h3v-4.0zM865 270.2v4.0h2v-4.0zM868 270.2v4.0h3v-4.0zM872 270.2v4.0h2v-4.0zM875 270.2v4.0h2v-4.0zM880 270.2v4.0h2v-4.0zM883 270.2v4.0h2v-4.0zM886 270.2v4.0h3v-4.0zM890 270.2v4.0h2v-4.0zM893 270.2v4.0h2v-4.0zM900 270.2v4.0h2v-4.0zM905 270.2v4.0h2v-4.0zM908 270.2v4.0h2v-4.0zM911 270.2v4.0h2v-4.0zM914 270.2v4.0h2v-4.0zM917 270.2v4.0h2v-4.0zM920 270.2v4.0h2v-4.0zM923 270.2v4.0h2v-4.0zM926 270.2v4.0h2v-4.0zM931 270.2v4.0h2v-4.0zM934 270.2v4.0h2v-4.0zM937 270.2v4.0h2v-4.0zM940 270.2v4.0h3v-4.0zM944 270.2v4.0h2v-4.0zM949 270.2v4.0h2v-4.0zM954 270.2v4.0h2v-4.0zM957 270.2v4.0h2v-4.0zM960 270.2v4.0h2v-4.0zM620 274.6v4.0h2v-4.0zM627 274.6v4.0h2v-4.0zM630 274.6v4.0h2v-4.0zM635 274.6v4.0h2v-4.0zM640 274.6v4.0h2v-4.0zM643 274.6v4.0h2v-4.0zM652 274.6v4.0h2v-4.0zM655 274.6v4.0h2v-4.0zM660 274.6v4.0h2v-4.0zM665 274.6v4.0h2v-4.0zM670 274.6v4.0h2v-4.0zM675 274.6v4.0h2v-4.0zM684 274.6v4.0h2v-4.0zM701 274.6v4.0h3v-4.0zM713 274.6v4.0h3v-4.0zM717 274.6v4.0h2v-4.0zM720 274.6v4.0h3v-4.0zM724 274.6v4.0h2v-4.0zM731 274.6v4.0h3v-4.0zM753 274.6v4.0h2v-4.0zM758 274.6v4.0h2v-4.0zM763 274.6v4.0h2v-4.0zM770 274.6v4.0h3v-4.0zM776 274.6v4.0h2v-4.0zM779 274.6v4.0h2v-4.0zM784 274.6v4.0h2v-4.0zM787 274.6v4.0h2v-4.0zM792 274.6v4.0h2v-4.0zM797 274.6v4.0h2v-4.0zM800 274.6v4.0h2v-4.0zM805 274.6v4.0h3v-4.0zM811 274.6v4.0h3v-4.0zM819 274.6v4.0h2v-4.0zM822 274.6v4.0h2v-4.0zM825 274.6v4.0h2v-4.0zM828 274.6v4.0h2v-4.0zM831 274.6v4.0h2v-4.0zM834 274.6v4.0h2v-4.0zM837 274.6v4.0h3v-4.0zM851 274.6v4.0h2v-4.0zM856 274.6v4.0h2v-4.0zM875 274.6v4.0h2v-4.0zM878 274.6v4.0h2v-4.0zM881 274.6v4.0h2v-4.0zM884 274.6v4.0h3v-4.0zM892 274.6v4.0h3v-4.0zM900 274.6v4.0h2v-4.0zM903 274.6v4.0h2v-4.0zM912 274.6v4.0h2v-4.0zM921 274.6v4.0h2v-4.0zM924 274.6v4.0h2v-4.0zM927 274.6v4.0h2v-4.0zM930 274.6v4.0h2v-4.0zM939 274.6v4.0h2v-4.0zM950 274.6v4.0h2v-4.0zM953 274.6v4.0h2v-4.0zM956 274.6v4.0h2v-4.0zM959 274.6v4.0h2v-4.0zM625 279.1v4.0h2v-4.0zM628 279.1v4.0h3v-4.0zM636 279.1v4.0h2v-4.0zM663 279.1v4.0h2v-4.0zM686 279.1v4.0h2v-4.0zM691 279.1v4.0h3v-4.0zM697 279.1v4.0h2v-4.0zM706 279.1v4.0h3v-4.0zM712 279.1v4.0h2v-4.0zM719 279.1v4.0h3v-4.0zM723 279.1v4.0h3v-4.0zM731 279.1v4.0h2v-4.0zM736 279.1v4.0h3v-4.0zM744 279.1v4.0h3v-4.0zM748 279.1v4.0h2v-4.0zM751 279.1v4.0h2v-4.0zM754 279.1v4.0h2v-4.0zM757 279.1v4.0h2v-4.0zM760 279.1v4.0h2v-4.0zM763 279.1v4.0h2v-4.0zM768 279.1v4.0h2v-4.0zM773 279.1v4.0h2v-4.0zM776 279.1v4.0h2v-4.0zM799 279.1v4.0h2v-4.0zM814 279.1v4.0h2v-4.0zM825 279.1v4.0h2v-4.0zM832 279.1v4.0h2v-4.0zM839 279.1v4.0h2v-4.0zM846 279.1v4.0h2v-4.0zM851 279.1v4.0h2v-4.0zM866 279.1v4.0h2v-4.0zM869 279.1v4.0h2v-4.0zM872 279.1v4.0h2v-4.0zM875 279.1v4.0h3v-4.0zM887 279.1v4.0h2v-4.0zM892 279.1v4.0h2v-4.0zM899 279.1v4.0h2v-4.0zM904 279.1v4.0h2v-4.0zM907 279.1v4.0h2v-4.0zM912 279.1v4.0h3v-4.0zM920 279.1v4.0h3v-4.0zM926 279.1v4.0h3v-4.0zM930 279.1v4.0h2v-4.0zM933 279.1v4.0h2v-4.0zM936 279.1v4.0h3v-4.0zM940 279.1v4.0h3v-4.0zM944 279.1v4.0h2v-4.0zM951 279.1v4.0h2v-4.0zM954 279.1v4.0h2v-4.0zM957 279.1v4.0h3v-4.0zM632 283.5v4.0h3v-4.0zM638 283.5v4.0h2v-4.0zM641 283.5v4.0h2v-4.0zM648 283.5v4.0h2v-4.0zM653 283.5v4.0h3v-4.0zM661 283.5v4.0h3v-4.0zM679 283.5v4.0h3v-4.0zM683 283.5v4.0h2v-4.0zM688 283.5v4.0h2v-4.0zM691 283.5v4.0h3v-4.0zM695 283.5v4.0h2v-4.0zM698 283.5v4.0h2v-4.0zM705 283.5v4.0h2v-4.0zM708 283.5v4.0h2v-4.0zM711 283.5v4.0h2v-4.0zM722 283.5v4.0h2v-4.0zM725 283.5v4.0h2v-4.0zM728 283.5v4.0h2v-4.0zM731 283.5v4.0h2v-4.0zM736 283.5v4.0h2v-4.0zM741 283.5v4.0h2v-4.0zM744 283.5v4.0h2v-4.0zM747 283.5v4.0h2v-4.0zM750 283.5v4.0h3v-4.0zM754 283.5v4.0h2v-4.0zM757 283.5v4.0h3v-4.0zM761 283.5v4.0h3v-4.0zM765 283.5v4.0h2v-4.0zM768 283.5v4.0h2v-4.0zM771 283.5v4.0h3v-4.0zM775 283.5v4.0h2v-4.0zM784 283.5v4.0h3v-4.0zM788 283.5v4.0h2v-4.0zM791 283.5v4.0h2v-4.0zM794 283.5v4.0h2v-4.0zM797 283.5v4.0h3v-4.0zM803 283.5v4.0h2v-4.0zM806 283.5v4.0h3v-4.0zM814 283.5v4.0h3v-4.0zM820 283.5v4.0h3v-4.0zM824 283.5v4.0h2v-4.0zM835 283.5v4.0h2v-4.0zM846 283.5v4.0h2v-4.0zM851 283.5v4.0h2v-4.0zM854 283.5v4.0h2v-4.0zM859 283.5v4.0h2v-4.0zM866 283.5v4.0h2v-4.0zM871 283.5v4.0h2v-4.0zM874 283.5v4.0h2v-4.0zM877 283.5v4.0h2v-4.0zM880 283.5v4.0h2v-4.0zM883 283.5v4.0h2v-4.0zM886 283.5v4.0h2v-4.0zM889 283.5v4.0h3v-4.0zM893 283.5v4.0h2v-4.0zM910 283.5v4.0h2v-4.0zM917 283.5v4.0h3v-4.0zM921 283.5v4.0h3v-4.0zM925 283.5v4.0h3v-4.0zM929 283.5v4.0h2v-4.0zM936 283.5v4.0h3v-4.0zM942 283.5v4.0h2v-4.0zM947 283.5v4.0h2v-4.0zM625 287.9v4.0h2v-4.0zM632 287.9v4.0h2v-4.0zM643 287.9v4.0h2v-4.0zM646 287.9v4.0h3v-4.0zM658 287.9v4.0h2v-4.0zM663 287.9v4.0h2v-4.0zM666 287.9v4.0h3v-4.0zM670 287.9v4.0h2v-4.0zM673 287.9v4.0h2v-4.0zM696 287.9v4.0h3v-4.0zM702 287.9v4.0h2v-4.0zM709 287.9v4.0h2v-4.0zM712 287.9v4.0h3v-4.0zM718 287.9v4.0h2v-4.0zM731 287.9v4.0h2v-4.0zM750 287.9v4.0h2v-4.0zM755 287.9v4.0h3v-4.0zM773 287.9v4.0h3v-4.0zM781 287.9v4.0h3v-4.0zM785 287.9v4.0h2v-4.0zM792 287.9v4.0h3v-4.0zM796 287.9v4.0h2v-4.0zM799 287.9v4.0h3v-4.0zM803 287.9v4.0h2v-4.0zM810 287.9v4.0h2v-4.0zM827 287.9v4.0h3v-4.0zM831 287.9v4.0h2v-4.0zM834 287.9v4.0h2v-4.0zM837 287.9v4.0h3v-4.0zM845 287.9v4.0h2v-4.0zM850 287.9v4.0h2v-4.0zM857 287.9v4.0h2v-4.0zM870 287.9v4.0h2v-4.0zM879 287.9v4.0h2v-4.0zM892 287.9v4.0h3v-4.0zM896 287.9v4.0h2v-4.0zM903 287.9v4.0h2v-4.0zM906 287.9v4.0h2v-4.0zM913 287.9v4.0h2v-4.0zM918 287.9v4.0h3v-4.0zM922 287.9v4.0h3v-4.0zM926 287.9v4.0h3v-4.0zM930 287.9v4.0h2v-4.0zM933 287.9v4.0h2v-4.0zM940 287.9v4.0h2v-4.0zM949 287.9v4.0h2v-4.0zM626 292.4v4.0h2v-4.0zM633 292.4v4.0h2v-4.0zM642 292.4v4.0h2v-4.0zM645 292.4v4.0h2v-4.0zM652 292.4v4.0h2v-4.0zM659 292.4v4.0h2v-4.0zM666 292.4v4.0h2v-4.0zM671 292.4v4.0h3v-4.0zM687 292.4v4.0h2v-4.0zM692 292.4v4.0h2v-4.0zM703 292.4v4.0h2v-4.0zM708 292.4v4.0h2v-4.0zM731 292.4v4.0h2v-4.0zM734 292.4v4.0h3v-4.0zM758 292.4v4.0h2v-4.0zM761 292.4v4.0h3v-4.0zM769 292.4v4.0h2v-4.0zM774 292.4v4.0h2v-4.0zM781 292.4v4.0h2v-4.0zM784 292.4v4.0h3v-4.0zM788 292.4v4.0h3v-4.0zM792 292.4v4.0h3v-4.0zM796 292.4v4.0h2v-4.0zM799 292.4v4.0h2v-4.0zM802 292.4v4.0h2v-4.0zM805 292.4v4.0h2v-4.0zM808 292.4v4.0h3v-4.0zM812 292.4v4.0h2v-4.0zM815 292.4v4.0h3v-4.0zM819 292.4v4.0h2v-4.0zM822 292.4v4.0h2v-4.0zM825 292.4v4.0h3v-4.0zM831 292.4v4.0h2v-4.0zM834 292.4v4.0h2v-4.0zM837 292.4v4.0h2v-4.0zM860 292.4v4.0h3v-4.0zM864 292.4v4.0h2v-4.0zM867 292.4v4.0h2v-4.0zM872 292.4v4.0h2v-4.0zM883 292.4v4.0h2v-4.0zM888 292.4v4.0h2v-4.0zM895 292.4v4.0h3v-4.0zM899 292.4v4.0h2v-4.0zM904 292.4v4.0h2v-4.0zM909 292.4v4.0h2v-4.0zM914 292.4v4.0h2v-4.0zM917 292.4v4.0h2v-4.0zM920 292.4v4.0h3v-4.0zM924 292.4v4.0h2v-4.0zM927 292.4v4.0h2v-4.0zM932 292.4v4.0h2v-4.0zM935 292.4v4.0h3v-4.0zM941 292.4v4.0h2v-4.0zM944 292.4v4.0h2v-4.0zM947 292.4v4.0h2v-4.0zM958 292.4v4.0h3v-4.0zM620 296.8v4.0h3v-4.0zM626 296.8v4.0h2v-4.0zM633 296.8v4.0h3v-4.0zM637 296.8v4.0h2v-4.0zM642 296.8v4.0h2v-4.0zM649 296.8v4.0h2v-4.0zM656 296.8v4.0h3v-4.0zM660 296.8v4.0h2v-4.0zM665 296.8v4.0h2v-4.0zM672 296.8v4.0h2v-4.0zM675 296.8v4.0h2v-4.0zM686 296.8v4.0h2v-4.0zM691 296.8v4.0h2v-4.0zM694 296.8v4.0h2v-4.0zM697 296.8v4.0h3v-4.0zM701 296.8v4.0h3v-4.0zM705 296.8v4.0h2v-4.0zM712 296.8v4.0h2v-4.0zM725 296.8v4.0h2v-4.0zM744 296.8v4.0h3v-4.0zM760 296.8v4.0h2v-4.0zM765 296.8v4.0h2v-4.0zM770 296.8v4.0h2v-4.0zM773 296.8v4.0h2v-4.0zM780 296.8v4.0h2v-4.0zM785 296.8v4.0h2v-4.0zM792 296.8v4.0h2v-4.0zM799 296.8v4.0h3v-4.0zM817 296.8v4.0h2v-4.0zM824 296.8v4.0h2v-4.0zM835 296.8v4.0h2v-4.0zM846 296.8v4.0h3v-4.0zM868 296.8v4.0h3v-4.0zM888 296.8v4.0h2v-4.0zM893 296.8v4.0h2v-4.0zM902 296.8v4.0h3v-4.0zM910 296.8v4.0h2v-4.0zM913 296.8v4.0h2v-4.0zM916 296.8v4.0h2v-4.0zM925 296.8v4.0h3v-4.0zM935 296.8v4.0h2v-4.0zM938 296.8v4.0h2v-4.0zM949 296.8v4.0h3v-4.0zM957 296.8v4.0h2v-4.0zM624 301.2v4.0h2v-4.0zM629 301.2v4.0h2v-4.0zM636 301.2v4.0h3v-4.0zM646 301.2v4.0h3v-4.0zM650 301.2v4.0h2v-4.0zM655 301.2v4.0h2v-4.0zM664 301.2v4.0h3v-4.0zM670 301.2v4.0h3v-4.0zM684 301.2v4.0h2v-4.0zM687 301.2v4.0h2v-4.0zM690 301.2v4.0h2v-4.0zM695 301.2v4.0h2v-4.0zM698 301.2v4.0h3v-4.0zM706 301.2v4.0h2v-4.0zM715 301.2v4.0h2v-4.0zM720 301.2v4.0h2v-4.0zM723 301.2v4.0h3v-4.0zM727 301.2v4.0h2v-4.0zM734 301.2v4.0h3v-4.0zM738 301.2v4.0h2v-4.0zM743 301.2v4.0h3v-4.0zM747 301.2v4.0h2v-4.0zM754 301.2v4.0h2v-4.0zM759 301.2v4.0h2v-4.0zM764 301.2v4.0h2v-4.0zM769 301.2v4.0h2v-4.0zM778 301.2v4.0h3v-4.0zM782 301.2v4.0h3v-4.0zM786 301.2v4.0h3v-4.0zM794 301.2v4.0h3v-4.0zM798 301.2v4.0h2v-4.0zM801 301.2v4.0h2v-4.0zM806 301.2v4.0h2v-4.0zM809 301.2v4.0h3v-4.0zM813 301.2v4.0h2v-4.0zM822 301.2v4.0h3v-4.0zM826 301.2v4.0h3v-4.0zM830 301.2v4.0h2v-4.0zM833 301.2v4.0h2v-4.0zM836 301.2v4.0h2v-4.0zM843 301.2v4.0h3v-4.0zM847 301.2v4.0h2v-4.0zM860 301.2v4.0h3v-4.0zM864 301.2v4.0h2v-4.0zM867 301.2v4.0h3v-4.0zM873 301.2v4.0h3v-4.0zM881 301.2v4.0h3v-4.0zM885 301.2v4.0h2v-4.0zM888 301.2v4.0h3v-4.0zM892 301.2v4.0h2v-4.0zM895 301.2v4.0h3v-4.0zM903 301.2v4.0h2v-4.0zM906 301.2v4.0h3v-4.0zM912 301.2v4.0h2v-4.0zM915 301.2v4.0h2v-4.0zM930 301.2v4.0h3v-4.0zM938 301.2v4.0h2v-4.0zM943 301.2v4.0h3v-4.0zM947 301.2v4.0h2v-4.0zM954 301.2v4.0h2v-4.0zM621 305.7v4.0h2v-4.0zM632 305.7v4.0h3v-4.0zM638 305.7v4.0h3v-4.0zM642 305.7v4.0h2v-4.0zM645 305.7v4.0h2v-4.0zM648 305.7v4.0h2v-4.0zM653 305.7v4.0h2v-4.0zM656 305.7v4.0h3v-4.0zM660 305.7v4.0h2v-4.0zM665 305.7v4.0h2v-4.0zM668 305.7v4.0h3v-4.0zM674 305.7v4.0h3v-4.0zM688 305.7v4.0h3v-4.0zM698 305.7v4.0h3v-4.0zM706 305.7v4.0h3v-4.0zM712 305.7v4.0h2v-4.0zM723 305.7v4.0h3v-4.0zM727 305.7v4.0h2v-4.0zM730 305.7v4.0h2v-4.0zM733 305.7v4.0h2v-4.0zM736 305.7v4.0h2v-4.0zM743 305.7v4.0h2v-4.0zM746 305.7v4.0h2v-4.0zM749 305.7v4.0h2v-4.0zM752 305.7v4.0h2v-4.0zM755 305.7v4.0h2v-4.0zM758 305.7v4.0h2v-4.0zM761 305.7v4.0h2v-4.0zM770 305.7v4.0h3v-4.0zM784 305.7v4.0h2v-4.0zM801 305.7v4.0h3v-4.0zM805 305.7v4.0h2v-4.0zM808 305.7v4.0h2v-4.0zM819 305.7v4.0h2v-4.0zM842 305.7v4.0h2v-4.0zM869 305.7v4.0h3v-4.0zM877 305.7v4.0h2v-4.0zM890 305.7v4.0h3v-4.0zM894 305.7v4.0h2v-4.0zM897 305.7v4.0h3v-4.0zM901 305.7v4.0h2v-4.0zM910 305.7v4.0h3v-4.0zM914 305.7v4.0h2v-4.0zM919 305.7v4.0h2v-4.0zM922 305.7v4.0h2v-4.0zM925 305.7v4.0h3v-4.0zM929 305.7v4.0h2v-4.0zM934 305.7v4.0h2v-4.0zM937 305.7v4.0h2v-4.0zM944 305.7v4.0h3v-4.0zM948 305.7v4.0h2v-4.0zM957 305.7v4.0h3v-4.0zM961 305.7v4.0h2v-4.0zM625 310.1v4.0h2v-4.0zM634 310.1v4.0h2v-4.0zM639 310.1v4.0h2v-4.0zM644 310.1v4.0h2v-4.0zM647 310.1v4.0h2v-4.0zM650 310.1v4.0h2v-4.0zM673 310.1v4.0h2v-4.0zM678 310.1v4.0h2v-4.0zM683 310.1v4.0h3v-4.0zM691 310.1v4.0h2v-4.0zM702 310.1v4.0h2v-4.0zM711 310.1v4.0h2v-4.0zM722 310.1v4.0h2v-4.0zM735 310.1v4.0h3v-4.0zM741 310.1v4.0h3v-4.0zM749 310.1v4.0h2v-4.0zM752 310.1v4.0h2v-4.0zM771 310.1v4.0h2v-4.0zM776 310.1v4.0h2v-4.0zM779 310.1v4.0h3v-4.0zM795 310.1v4.0h2v-4.0zM816 310.1v4.0h2v-4.0zM821 310.1v4.0h2v-4.0zM826 310.1v4.0h3v-4.0zM846 310.1v4.0h2v-4.0zM849 310.1v4.0h2v-4.0zM854 310.1v4.0h2v-4.0zM861 310.1v4.0h2v-4.0zM872 310.1v4.0h3v-4.0zM878 310.1v4.0h2v-4.0zM885 310.1v4.0h2v-4.0zM898 310.1v4.0h2v-4.0zM901 310.1v4.0h3v-4.0zM913 310.1v4.0h3v-4.0zM921 310.1v4.0h2v-4.0zM928 310.1v4.0h2v-4.0zM939 310.1v4.0h2v-4.0zM946 310.1v4.0h2v-4.0zM620 314.6v4.0h2v-4.0zM631 314.6v4.0h2v-4.0zM636 314.6v4.0h2v-4.0zM647 314.6v4.0h3v-4.0zM651 314.6v4.0h2v-4.0zM660 314.6v4.0h2v-4.0zM665 314.6v4.0h3v-4.0zM669 314.6v4.0h2v-4.0zM674 314.6v4.0h2v-4.0zM679 314.6v4.0h2v-4.0zM682 314.6v4.0h2v-4.0zM685 314.6v4.0h2v-4.0zM688 314.6v4.0h2v-4.0zM691 314.6v4.0h2v-4.0zM696 314.6v4.0h2v-4.0zM699 314.6v4.0h3v-4.0zM703 314.6v4.0h3v-4.0zM709 314.6v4.0h2v-4.0zM714 314.6v4.0h2v-4.0zM719 314.6v4.0h2v-4.0zM722 314.6v4.0h2v-4.0zM729 314.6v4.0h2v-4.0zM732 314.6v4.0h2v-4.0zM737 314.6v4.0h3v-4.0zM747 314.6v4.0h2v-4.0zM750 314.6v4.0h2v-4.0zM755 314.6v4.0h2v-4.0zM762 314.6v4.0h3v-4.0zM776 314.6v4.0h2v-4.0zM783 314.6v4.0h2v-4.0zM798 314.6v4.0h3v-4.0zM804 314.6v4.0h2v-4.0zM809 314.6v4.0h2v-4.0zM812 314.6v4.0h2v-4.0zM815 314.6v4.0h2v-4.0zM836 314.6v4.0h3v-4.0zM840 314.6v4.0h3v-4.0zM854 314.6v4.0h2v-4.0zM863 314.6v4.0h3v-4.0zM877 314.6v4.0h2v-4.0zM880 314.6v4.0h3v-4.0zM884 314.6v4.0h3v-4.0zM892 314.6v4.0h3v-4.0zM902 314.6v4.0h3v-4.0zM908 314.6v4.0h3v-4.0zM912 314.6v4.0h2v-4.0zM925 314.6v4.0h2v-4.0zM928 314.6v4.0h2v-4.0zM935 314.6v4.0h2v-4.0zM944 314.6v4.0h2v-4.0zM621 319.0v4.0h2v-4.0zM628 319.0v4.0h2v-4.0zM653 319.0v4.0h2v-4.0zM656 319.0v4.0h2v-4.0zM661 319.0v4.0h2v-4.0zM670 319.0v4.0h2v-4.0zM673 319.0v4.0h2v-4.0zM680 319.0v4.0h2v-4.0zM693 319.0v4.0h2v-4.0zM702 319.0v4.0h2v-4.0zM705 319.0v4.0h2v-4.0zM712 319.0v4.0h2v-4.0zM715 319.0v4.0h2v-4.0zM718 319.0v4.0h2v-4.0zM721 319.0v4.0h2v-4.0zM724 319.0v4.0h2v-4.0zM727 319.0v4.0h2v-4.0zM730 319.0v4.0h2v-4.0zM733 319.0v4.0h2v-4.0zM740 319.0v4.0h3v-4.0zM746 319.0v4.0h2v-4.0zM757 319.0v4.0h3v-4.0zM761 319.0v4.0h2v-4.0zM764 319.0v4.0h2v-4.0zM767 319.0v4.0h2v-4.0zM772 319.0v4.0h2v-4.0zM777 319.0v4.0h2v-4.0zM782 319.0v4.0h2v-4.0zM785 319.0v4.0h2v-4.0zM788 319.0v4.0h3v-4.0zM800 319.0v4.0h2v-4.0zM803 319.0v4.0h2v-4.0zM806 319.0v4.0h2v-4.0zM811 319.0v4.0h2v-4.0zM814 319.0v4.0h2v-4.0zM817 319.0v4.0h3v-4.0zM823 319.0v4.0h2v-4.0zM826 319.0v4.0h2v-4.0zM829 319.0v4.0h3v-4.0zM835 319.0v4.0h2v-4.0zM838 319.0v4.0h2v-4.0zM845 319.0v4.0h2v-4.0zM850 319.0v4.0h2v-4.0zM855 319.0v4.0h3v-4.0zM859 319.0v4.0h2v-4.0zM862 319.0v4.0h2v-4.0zM865 319.0v4.0h2v-4.0zM872 319.0v4.0h2v-4.0zM875 319.0v4.0h2v-4.0zM880 319.0v4.0h2v-4.0zM883 319.0v4.0h2v-4.0zM886 319.0v4.0h3v-4.0zM892 319.0v4.0h2v-4.0zM895 319.0v4.0h3v-4.0zM899 319.0v4.0h2v-4.0zM908 319.0v4.0h2v-4.0zM911 319.0v4.0h3v-4.0zM927 319.0v4.0h2v-4.0zM932 319.0v4.0h2v-4.0zM939 319.0v4.0h2v-4.0zM944 319.0v4.0h2v-4.0zM949 319.0v4.0h2v-4.0zM956 319.0v4.0h2v-4.0zM626 323.4v4.0h2v-4.0zM651 323.4v4.0h2v-4.0zM662 323.4v4.0h3v-4.0zM686 323.4v4.0h2v-4.0zM691 323.4v4.0h2v-4.0zM708 323.4v4.0h2v-4.0zM713 323.4v4.0h2v-4.0zM728 323.4v4.0h2v-4.0zM737 323.4v4.0h3v-4.0zM741 323.4v4.0h2v-4.0zM744 323.4v4.0h2v-4.0zM751 323.4v4.0h2v-4.0zM754 323.4v4.0h3v-4.0zM760 323.4v4.0h2v-4.0zM763 323.4v4.0h2v-4.0zM766 323.4v4.0h2v-4.0zM769 323.4v4.0h2v-4.0zM778 323.4v4.0h2v-4.0zM781 323.4v4.0h2v-4.0zM790 323.4v4.0h2v-4.0zM799 323.4v4.0h2v-4.0zM802 323.4v4.0h2v-4.0zM805 323.4v4.0h3v-4.0zM809 323.4v4.0h2v-4.0zM812 323.4v4.0h3v-4.0zM818 323.4v4.0h2v-4.0zM821 323.4v4.0h2v-4.0zM824 323.4v4.0h3v-4.0zM834 323.4v4.0h2v-4.0zM841 323.4v4.0h2v-4.0zM844 323.4v4.0h3v-4.0zM848 323.4v4.0h2v-4.0zM853 323.4v4.0h3v-4.0zM867 323.4v4.0h2v-4.0zM872 323.4v4.0h2v-4.0zM879 323.4v4.0h2v-4.0zM886 323.4v4.0h2v-4.0zM893 323.4v4.0h2v-4.0zM902 323.4v4.0h2v-4.0zM907 323.4v4.0h2v-4.0zM910 323.4v4.0h2v-4.0zM913 323.4v4.0h2v-4.0zM916 323.4v4.0h2v-4.0zM921 323.4v4.0h2v-4.0zM926 323.4v4.0h3v-4.0zM930 323.4v4.0h2v-4.0zM933 323.4v4.0h2v-4.0zM942 323.4v4.0h2v-4.0zM957 323.4v4.0h2v-4.0zM625 327.9v4.0h2v-4.0zM636 327.9v4.0h2v-4.0zM659 327.9v4.0h3v-4.0zM665 327.9v4.0h3v-4.0zM673 327.9v4.0h2v-4.0zM686 327.9v4.0h2v-4.0zM689 327.9v4.0h2v-4.0zM694 327.9v4.0h2v-4.0zM703 327.9v4.0h2v-4.0zM716 327.9v4.0h2v-4.0zM721 327.9v4.0h2v-4.0zM724 327.9v4.0h2v-4.0zM729 327.9v4.0h2v-4.0zM732 327.9v4.0h2v-4.0zM735 327.9v4.0h2v-4.0zM738 327.9v4.0h2v-4.0zM743 327.9v4.0h2v-4.0zM746 327.9v4.0h2v-4.0zM761 327.9v4.0h2v-4.0zM764 327.9v4.0h2v-4.0zM773 327.9v4.0h3v-4.0zM777 327.9v4.0h2v-4.0zM780 327.9v4.0h2v-4.0zM783 327.9v4.0h2v-4.0zM786 327.9v4.0h2v-4.0zM789 327.9v4.0h2v-4.0zM800 327.9v4.0h3v-4.0zM822 327.9v4.0h2v-4.0zM825 327.9v4.0h2v-4.0zM838 327.9v4.0h2v-4.0zM847 327.9v4.0h3v-4.0zM855 327.9v4.0h2v-4.0zM864 327.9v4.0h3v-4.0zM878 327.9v4.0h2v-4.0zM891 327.9v4.0h2v-4.0zM928 327.9v4.0h2v-4.0zM937 327.9v4.0h3v-4.0zM951 327.9v4.0h2v-4.0zM623 332.3v4.0h2v-4.0zM626 332.3v4.0h2v-4.0zM637 332.3v4.0h2v-4.0zM642 332.3v4.0h2v-4.0zM645 332.3v4.0h2v-4.0zM648 332.3v4.0h3v-4.0zM658 332.3v4.0h2v-4.0zM667 332.3v4.0h2v-4.0zM670 332.3v4.0h2v-4.0zM681 332.3v4.0h2v-4.0zM692 332.3v4.0h2v-4.0zM697 332.3v4.0h2v-4.0zM700 332.3v4.0h2v-4.0zM703 332.3v4.0h3v-4.0zM707 332.3v4.0h2v-4.0zM722 332.3v4.0h2v-4.0zM725 332.3v4.0h2v-4.0zM734 332.3v4.0h2v-4.0zM755 332.3v4.0h2v-4.0zM760 332.3v4.0h2v-4.0zM763 332.3v4.0h2v-4.0zM772 332.3v4.0h2v-4.0zM775 332.3v4.0h3v-4.0zM783 332.3v4.0h2v-4.0zM790 332.3v4.0h2v-4.0zM793 332.3v4.0h3v-4.0zM797 332.3v4.0h2v-4.0zM800 332.3v4.0h2v-4.0zM803 332.3v4.0h3v-4.0zM807 332.3v4.0h3v-4.0zM811 332.3v4.0h3v-4.0zM817 332.3v4.0h2v-4.0zM824 332.3v4.0h2v-4.0zM837 332.3v4.0h2v-4.0zM840 332.3v4.0h2v-4.0zM845 332.3v4.0h2v-4.0zM864 332.3v4.0h2v-4.0zM867 332.3v4.0h2v-4.0zM870 332.3v4.0h2v-4.0zM889 332.3v4.0h2v-4.0zM892 332.3v4.0h3v-4.0zM898 332.3v4.0h3v-4.0zM902 332.3v4.0h2v-4.0zM905 332.3v4.0h3v-4.0zM911 332.3v4.0h2v-4.0zM916 332.3v4.0h2v-4.0zM923 332.3v4.0h2v-4.0zM930 332.3v4.0h2v-4.0zM933 332.3v4.0h2v-4.0zM942 332.3v4.0h2v-4.0zM945 332.3v4.0h2v-4.0zM956 332.3v4.0h2v-4.0zM961 332.3v4.0h3v-4.0zM622 336.7v4.0h2v-4.0zM627 336.7v4.0h2v-4.0zM630 336.7v4.0h2v-4.0zM637 336.7v4.0h2v-4.0zM644 336.7v4.0h2v-4.0zM649 336.7v4.0h2v-4.0zM654 336.7v4.0h2v-4.0zM661 336.7v4.0h3v-4.0zM671 336.7v4.0h2v-4.0zM674 336.7v4.0h2v-4.0zM677 336.7v4.0h2v-4.0zM684 336.7v4.0h2v-4.0zM687 336.7v4.0h2v-4.0zM692 336.7v4.0h2v-4.0zM705 336.7v4.0h3v-4.0zM711 336.7v4.0h3v-4.0zM717 336.7v4.0h2v-4.0zM724 336.7v4.0h3v-4.0zM730 336.7v4.0h2v-4.0zM733 336.7v4.0h3v-4.0zM749 336.7v4.0h2v-4.0zM764 336.7v4.0h2v-4.0zM773 336.7v4.0h3v-4.0zM777 336.7v4.0h2v-4.0zM784 336.7v4.0h2v-4.0zM791 336.7v4.0h2v-4.0zM798 336.7v4.0h3v-4.0zM818 336.7v4.0h2v-4.0zM827 336.7v4.0h3v-4.0zM835 336.7v4.0h2v-4.0zM840 336.7v4.0h3v-4.0zM852 336.7v4.0h2v-4.0zM859 336.7v4.0h2v-4.0zM868 336.7v4.0h2v-4.0zM881 336.7v4.0h2v-4.0zM884 336.7v4.0h3v-4.0zM910 336.7v4.0h2v-4.0zM929 336.7v4.0h2v-4.0zM944 336.7v4.0h2v-4.0zM955 336.7v4.0h3v-4.0zM624 341.2v4.0h2v-4.0zM635 341.2v4.0h3v-4.0zM645 341.2v4.0h3v-4.0zM649 341.2v4.0h3v-4.0zM653 341.2v4.0h2v-4.0zM660 341.2v4.0h2v-4.0zM671 341.2v4.0h2v-4.0zM674 341.2v4.0h2v-4.0zM687 341.2v4.0h2v-4.0zM694 341.2v4.0h2v-4.0zM699 341.2v4.0h2v-4.0zM704 341.2v4.0h2v-4.0zM709 341.2v4.0h2v-4.0zM716 341.2v4.0h3v-4.0zM730 341.2v4.0h2v-4.0zM739 341.2v4.0h2v-4.0zM742 341.2v4.0h2v-4.0zM751 341.2v4.0h2v-4.0zM754 341.2v4.0h2v-4.0zM765 341.2v4.0h3v-4.0zM771 341.2v4.0h2v-4.0zM778 341.2v4.0h3v-4.0zM784 341.2v4.0h2v-4.0zM789 341.2v4.0h2v-4.0zM792 341.2v4.0h2v-4.0zM797 341.2v4.0h2v-4.0zM800 341.2v4.0h2v-4.0zM805 341.2v4.0h3v-4.0zM809 341.2v4.0h3v-4.0zM815 341.2v4.0h3v-4.0zM819 341.2v4.0h2v-4.0zM834 341.2v4.0h2v-4.0zM837 341.2v4.0h2v-4.0zM854 341.2v4.0h3v-4.0zM860 341.2v4.0h2v-4.0zM867 341.2v4.0h3v-4.0zM875 341.2v4.0h2v-4.0zM882 341.2v4.0h2v-4.0zM889 341.2v4.0h2v-4.0zM894 341.2v4.0h2v-4.0zM897 341.2v4.0h2v-4.0zM904 341.2v4.0h2v-4.0zM909 341.2v4.0h2v-4.0zM914 341.2v4.0h2v-4.0zM917 341.2v4.0h3v-4.0zM925 341.2v4.0h2v-4.0zM930 341.2v4.0h2v-4.0zM937 341.2v4.0h2v-4.0zM952 341.2v4.0h2v-4.0z" fill="#2a2a9c"/>
<line x1="615.2" y1="160.5" x2="615.2" y2="349.0" stroke="#7d7d7d" stroke-width="1.6"/>
<text x="610.8" y="175.0" font-size="27.5" text-anchor="end" fill="#000">200</text>
<text x="609.0" y="343.0" font-size="27.5" text-anchor="end" fill="#000">1</text>
<text x="605.5" y="267.3" font-size="27.5" text-anchor="middle" fill="#000" transform="rotate(-90 605.5 267.3)">Trial</text>
<path d="M609.3 368.4H619.6V536.2H962.4V371.5M609.3 368.4H619.6M609.3 426.4H619.6M609.3 491.9H619.6M654.1 536.2V542.7M791.1 536.2V542.7M928.3 536.2V542.7M962.4 381.3H973.1M962.4 444.7H973.1M962.4 507.9H973.1" fill="none" stroke="#000" stroke-width="1.6"/>
<text x="604.3" y="378.3" font-size="27.6" text-anchor="end" fill="#000">8</text>
<text x="604.3" y="436.3" font-size="27.6" text-anchor="end" fill="#000">6</text>
<text x="604.3" y="501.8" font-size="27.6" text-anchor="end" fill="#000">4</text>
<text x="649.6" y="565.3" font-size="27" text-anchor="middle" fill="#000">-2</text>
<text x="789.9" y="565.3" font-size="27" text-anchor="middle" fill="#000">0</text>
<text x="927.1" y="565.3" font-size="27" text-anchor="middle" fill="#000">2</text>
<text x="976.5" y="391.1" font-size="26.8" fill="#000">30</text>
<text x="976.5" y="454.5" font-size="26.8" fill="#000">20</text>
<text x="976.5" y="517.7" font-size="26.8" fill="#000">10</text>
<text x="784.7" y="603.9" font-size="30.2" text-anchor="middle" fill="#000">Time From Contra Movement (s)</text>
<text x="571.0" y="451.2" font-size="31" text-anchor="middle" fill="#000" transform="rotate(-90 571.0 451.2)">FR (Hz)</text>
<text x="1022.5" y="443.5" font-size="30" text-anchor="middle" fill="#000" transform="rotate(90 1022.5 443.5)">Forward velocity (mm/s)</text>
<text x="624.0" y="507.4" font-size="22" fill="#2b41a0" textLength="117.5" lengthAdjust="spacingAndGlyphs">Neural Activity</text>
<text x="624.0" y="526.6" font-size="22" fill="#000" textLength="138.0" lengthAdjust="spacingAndGlyphs">Forward Velocity</text>
<path d="M622.1 451.9 L623.8 450.3 L625.5 448.7 L627.2 447.0 L628.9 445.2 L630.6 443.3 L632.3 441.2 L634.0 439.0 L635.7 436.5 L637.4 434.0 L639.1 431.5 L640.8 429.1 L642.5 426.9 L644.2 425.0 L645.9 423.4 L647.6 422.1 L649.3 421.3 L651.1 420.8 L652.8 420.8 L654.5 421.1 L656.2 421.9 L657.9 423.0 L659.6 424.4 L661.3 426.1 L663.0 428.0 L664.7 430.0 L666.4 431.7 L668.1 433.2 L669.8 434.3 L671.5 434.8 L673.2 434.6 L674.9 433.9 L676.6 432.6 L678.3 430.9 L680.0 428.9 L681.7 426.6 L683.4 424.1 L685.1 421.8 L686.8 419.7 L688.5 417.9 L690.2 416.6 L691.9 416.0 L693.6 415.8 L695.3 416.2 L697.0 417.1 L698.8 418.4 L700.5 420.1 L702.2 422.1 L703.9 424.4 L705.6 426.7 L707.3 429.0 L709.0 430.9 L710.7 432.3 L712.4 432.8 L714.1 432.5 L715.8 431.3 L717.5 429.4 L719.2 427.0 L720.9 424.1 L722.6 421.1 L724.3 418.1 L726.0 415.4 L727.7 413.3 L729.4 411.7 L731.1 410.7 L732.8 410.1 L734.5 409.8 L736.2 409.8 L737.9 409.9 L739.6 410.0 L741.3 410.1 L743.0 410.1 L744.7 409.9 L746.5 409.4 L748.2 408.6 L749.9 407.4 L751.6 405.9 L753.3 403.9 L755.0 401.6 L756.7 398.9 L758.4 396.0 L760.1 392.8 L761.8 389.5 L763.5 386.2 L765.2 382.9 L766.9 379.8 L768.6 376.9 L770.3 374.4 L772.0 372.3 L773.7 370.5 L775.4 369.1 L777.1 368.0 L778.8 367.3 L780.5 367.1 L782.2 367.5 L783.9 368.6 L785.6 370.3 L787.3 372.5 L789.0 375.2 L790.7 378.5 L792.5 382.5 L794.2 387.4 L795.9 393.3 L797.6 400.3 L799.3 408.0 L801.0 415.8 L802.7 423.2 L804.4 429.9 L806.1 435.6 L807.8 440.6 L809.5 444.6 L811.2 447.8 L812.9 450.2 L814.6 451.9 L816.3 452.9 L818.0 453.5 L819.7 453.5 L821.4 453.3 L823.1 452.8 L824.8 452.4 L826.5 452.0 L828.2 451.9 L829.9 452.2 L831.6 452.8 L833.3 453.6 L835.0 454.6 L836.7 455.8 L838.4 457.1 L840.2 458.5 L841.9 459.8 L843.6 461.1 L845.3 462.4 L847.0 463.4 L848.7 464.2 L850.4 464.9 L852.1 465.2 L853.8 465.3 L855.5 465.1 L857.2 464.7 L858.9 464.1 L860.6 463.4 L862.3 462.8 L864.0 462.3 L865.7 462.0 L867.4 462.0 L869.1 462.1 L870.8 462.4 L872.5 462.7 L874.2 462.9 L875.9 462.9 L877.6 462.8 L879.3 462.3 L881.0 461.6 L882.7 460.5 L884.4 459.2 L886.1 457.6 L887.9 455.8 L889.6 453.9 L891.3 451.9 L893.0 449.9 L894.7 447.9 L896.4 446.1 L898.1 444.4 L899.8 442.9 L901.5 441.7 L903.2 440.7 L904.9 439.9 L906.6 439.4 L908.3 439.1 L910.0 439.0 L911.7 439.2 L913.4 439.5 L915.1 440.0 L916.8 440.6 L918.5 441.3 L920.2 442.1 L921.9 442.8 L923.6 443.6 L925.3 444.3 L927.0 445.0 L928.7 445.5 L930.4 445.9 L932.1 446.1 L933.9 446.1 L935.6 445.9 L937.3 445.7 L939.0 445.3 L940.7 444.9 L942.4 444.5 L944.1 444.1 L945.8 443.9 L947.5 443.7 L949.2 443.6 L950.9 443.6 L952.6 443.7 L954.3 443.8 L956.0 444.0 L957.7 444.2 L959.4 444.5 L961.1 444.7" fill="none" stroke="#111" stroke-width="1.5"/>
<path d="M621.3 447.9 L623.0 446.1 L624.7 444.2 L626.4 442.4 L628.1 440.6 L629.8 439.0 L631.5 437.4 L633.2 436.0 L634.9 434.8 L636.6 433.7 L638.3 432.7 L640.0 431.9 L641.7 431.3 L643.4 430.7 L645.1 430.3 L646.8 430.1 L648.5 429.9 L650.2 429.9 L651.9 430.1 L653.6 430.4 L655.3 431.0 L657.0 431.8 L658.7 432.9 L660.4 434.2 L662.1 435.6 L663.8 437.2 L665.5 438.9 L667.2 440.6 L668.9 442.2 L670.6 443.8 L672.3 445.3 L674.0 446.5 L675.7 447.6 L677.4 448.4 L679.1 448.9 L680.8 449.0 L682.5 448.8 L684.2 448.3 L685.9 447.6 L687.6 446.5 L689.3 445.2 L691.0 443.7 L692.7 441.9 L694.4 440.0 L696.1 438.0 L697.8 435.9 L699.5 433.8 L701.2 431.6 L702.9 429.5 L704.6 427.4 L706.3 425.4 L708.0 423.5 L709.7 421.7 L711.4 420.1 L713.1 418.7 L714.8 417.5 L716.5 416.4 L718.2 415.5 L719.9 414.7 L721.6 413.9 L723.3 413.1 L725.0 412.3 L726.7 411.3 L728.4 410.2 L730.1 409.0 L731.9 407.7 L733.6 406.3 L735.3 404.7 L737.0 403.1 L738.7 401.3 L740.4 399.5 L742.1 397.5 L743.8 395.5 L745.5 393.4 L747.2 391.2 L748.9 388.9 L750.6 386.5 L752.3 384.1 L754.0 381.5 L755.7 378.9 L757.4 376.3 L759.1 373.9 L760.8 371.5 L762.5 369.5 L764.2 367.7 L765.9 366.3 L767.6 365.3 L769.3 364.7 L771.0 364.5 L772.7 364.7 L774.4 365.3 L776.1 366.4 L777.8 368.0 L779.5 370.1 L781.2 372.7 L782.9 375.9 L784.6 379.4 L786.3 383.2 L788.0 387.2 L789.7 391.3 L791.4 395.3 L793.1 399.2 L794.8 402.9 L796.5 406.4 L798.2 409.7 L799.9 412.6 L801.6 415.2 L803.3 417.4 L805.0 419.2 L806.7 420.7 L808.4 422.0 L810.1 423.0 L811.8 423.9 L813.5 424.7 L815.2 425.4 L816.9 426.0 L818.6 426.6 L820.3 427.2 L822.0 427.8 L823.7 428.4 L825.4 429.1 L827.1 429.9 L828.8 430.7 L830.5 431.5 L832.2 432.3 L833.9 433.1 L835.6 433.9 L837.3 434.6 L839.0 435.3 L840.7 435.9 L842.4 436.4 L844.1 436.9 L845.8 437.2 L847.5 437.4 L849.2 437.5 L850.9 437.4 L852.6 437.3 L854.3 437.0 L856.0 436.6 L857.7 436.1 L859.4 435.6 L861.1 434.9 L862.8 434.2 L864.5 433.5 L866.2 432.7 L867.9 432.0 L869.6 431.4 L871.3 430.8 L873.0 430.4 L874.7 430.2 L876.4 430.1 L878.1 430.2 L879.8 430.5 L881.5 430.9 L883.2 431.5 L884.9 432.1 L886.6 432.8 L888.3 433.5 L890.0 434.2 L891.7 434.7 L893.4 435.0 L895.1 435.0 L896.8 434.7 L898.5 434.0 L900.2 432.9 L901.9 431.4 L903.6 429.8 L905.3 428.0 L907.0 426.1 L908.7 424.3 L910.4 422.5 L912.1 421.0 L913.9 420.0 L915.6 419.4 L917.3 419.6 L919.0 420.4 L920.7 421.6 L922.4 423.2 L924.1 425.0 L925.8 427.0 L927.5 428.9 L929.2 430.8 L930.9 432.5 L932.6 434.1 L934.3 435.3 L936.0 436.2 L937.7 436.6 L939.4 436.6 L941.1 436.0 L942.8 435.1 L944.5 433.9 L946.2 432.5 L947.9 431.1 L949.6 429.9 L951.3 428.8 L953.0 428.0 L954.7 427.5 L956.4 427.1 L958.1 426.8 L959.8 426.6" fill="none" stroke="#2b41a0" stroke-width="1.5"/>
<path d="M1158 154.4v4.0h2v-4.0zM1161 154.4v4.0h3v-4.0zM1167 154.4v4.0h3v-4.0zM1175 154.4v4.0h2v-4.0zM1180 154.4v4.0h2v-4.0zM1185 154.4v4.0h3v-4.0zM1193 154.4v4.0h2v-4.0zM1196 154.4v4.0h3v-4.0zM1200 154.4v4.0h2v-4.0zM1203 154.4v4.0h2v-4.0zM1210 154.4v4.0h3v-4.0zM1218 154.4v4.0h3v-4.0zM1224 154.4v4.0h3v-4.0zM1232 154.4v4.0h2v-4.0zM1237 154.4v4.0h2v-4.0zM1240 154.4v4.0h2v-4.0zM1243 154.4v4.0h2v-4.0zM1246 154.4v4.0h2v-4.0zM1253 154.4v4.0h2v-4.0zM1260 154.4v4.0h2v-4.0zM1263 154.4v4.0h2v-4.0zM1270 154.4v4.0h2v-4.0zM1275 154.4v4.0h2v-4.0zM1278 154.4v4.0h3v-4.0zM1284 154.4v4.0h2v-4.0zM1289 154.4v4.0h2v-4.0zM1292 154.4v4.0h2v-4.0zM1297 154.4v4.0h2v-4.0zM1300 154.4v4.0h2v-4.0zM1305 154.4v4.0h2v-4.0zM1308 154.4v4.0h2v-4.0zM1311 154.4v4.0h2v-4.0zM1314 154.4v4.0h2v-4.0zM1317 154.4v4.0h2v-4.0zM1322 154.4v4.0h2v-4.0zM1327 154.4v4.0h2v-4.0zM1332 154.4v4.0h2v-4.0zM1335 154.4v4.0h2v-4.0zM1350 154.4v4.0h2v-4.0zM1357 154.4v4.0h2v-4.0zM1362 154.4v4.0h2v-4.0zM1365 154.4v4.0h3v-4.0zM1369 154.4v4.0h3v-4.0zM1375 154.4v4.0h2v-4.0zM1382 154.4v4.0h2v-4.0zM1387 154.4v4.0h2v-4.0zM1390 154.4v4.0h3v-4.0zM1394 154.4v4.0h2v-4.0zM1399 154.4v4.0h2v-4.0zM1402 154.4v4.0h3v-4.0zM1406 154.4v4.0h2v-4.0zM1415 154.4v4.0h2v-4.0zM1438 154.4v4.0h2v-4.0zM1441 154.4v4.0h2v-4.0zM1446 154.4v4.0h2v-4.0zM1451 154.4v4.0h3v-4.0zM1455 154.4v4.0h2v-4.0zM1458 154.4v4.0h2v-4.0zM1463 154.4v4.0h2v-4.0zM1468 154.4v4.0h2v-4.0zM1473 154.4v4.0h3v-4.0zM1477 154.4v4.0h2v-4.0zM1480 154.4v4.0h2v-4.0zM1483 154.4v4.0h2v-4.0zM1488 154.4v4.0h2v-4.0zM1491 154.4v4.0h3v-4.0zM1495 154.4v4.0h3v-4.0zM1163 158.9v4.0h2v-4.0zM1174 158.9v4.0h2v-4.0zM1177 158.9v4.0h3v-4.0zM1215 158.9v4.0h2v-4.0zM1218 158.9v4.0h3v-4.0zM1222 158.9v4.0h3v-4.0zM1236 158.9v4.0h2v-4.0zM1239 158.9v4.0h3v-4.0zM1245 158.9v4.0h2v-4.0zM1248 158.9v4.0h2v-4.0zM1251 158.9v4.0h2v-4.0zM1254 158.9v4.0h2v-4.0zM1273 158.9v4.0h2v-4.0zM1276 158.9v4.0h2v-4.0zM1283 158.9v4.0h2v-4.0zM1292 158.9v4.0h2v-4.0zM1295 158.9v4.0h2v-4.0zM1298 158.9v4.0h2v-4.0zM1301 158.9v4.0h2v-4.0zM1304 158.9v4.0h3v-4.0zM1308 158.9v4.0h3v-4.0zM1316 158.9v4.0h2v-4.0zM1321 158.9v4.0h2v-4.0zM1324 158.9v4.0h2v-4.0zM1327 158.9v4.0h3v-4.0zM1331 158.9v4.0h2v-4.0zM1336 158.9v4.0h2v-4.0zM1341 158.9v4.0h2v-4.0zM1344 158.9v4.0h2v-4.0zM1351 158.9v4.0h2v-4.0zM1354 158.9v4.0h2v-4.0zM1357 158.9v4.0h2v-4.0zM1362 158.9v4.0h2v-4.0zM1367 158.9v4.0h2v-4.0zM1374 158.9v4.0h2v-4.0zM1387 158.9v4.0h3v-4.0zM1391 158.9v4.0h3v-4.0zM1419 158.9v4.0h3v-4.0zM1423 158.9v4.0h2v-4.0zM1432 158.9v4.0h2v-4.0zM1439 158.9v4.0h3v-4.0zM1447 158.9v4.0h3v-4.0zM1473 158.9v4.0h3v-4.0zM1483 158.9v4.0h2v-4.0zM1486 158.9v4.0h2v-4.0zM1489 158.9v4.0h2v-4.0zM1496 158.9v4.0h2v-4.0zM1158 163.3v4.0h2v-4.0zM1163 163.3v4.0h2v-4.0zM1174 163.3v4.0h2v-4.0zM1181 163.3v4.0h3v-4.0zM1193 163.3v4.0h2v-4.0zM1202 163.3v4.0h3v-4.0zM1228 163.3v4.0h2v-4.0zM1233 163.3v4.0h2v-4.0zM1236 163.3v4.0h3v-4.0zM1244 163.3v4.0h2v-4.0zM1249 163.3v4.0h2v-4.0zM1258 163.3v4.0h3v-4.0zM1262 163.3v4.0h2v-4.0zM1271 163.3v4.0h2v-4.0zM1276 163.3v4.0h3v-4.0zM1280 163.3v4.0h2v-4.0zM1283 163.3v4.0h2v-4.0zM1288 163.3v4.0h2v-4.0zM1297 163.3v4.0h3v-4.0zM1313 163.3v4.0h2v-4.0zM1316 163.3v4.0h2v-4.0zM1319 163.3v4.0h3v-4.0zM1327 163.3v4.0h2v-4.0zM1330 163.3v4.0h2v-4.0zM1335 163.3v4.0h2v-4.0zM1338 163.3v4.0h2v-4.0zM1341 163.3v4.0h2v-4.0zM1344 163.3v4.0h2v-4.0zM1351 163.3v4.0h2v-4.0zM1364 163.3v4.0h3v-4.0zM1368 163.3v4.0h2v-4.0zM1371 163.3v4.0h2v-4.0zM1374 163.3v4.0h2v-4.0zM1381 163.3v4.0h2v-4.0zM1384 163.3v4.0h3v-4.0zM1388 163.3v4.0h2v-4.0zM1391 163.3v4.0h2v-4.0zM1394 163.3v4.0h3v-4.0zM1398 163.3v4.0h2v-4.0zM1409 163.3v4.0h3v-4.0zM1417 163.3v4.0h2v-4.0zM1422 163.3v4.0h2v-4.0zM1429 163.3v4.0h3v-4.0zM1441 163.3v4.0h2v-4.0zM1444 163.3v4.0h2v-4.0zM1453 163.3v4.0h2v-4.0zM1458 163.3v4.0h2v-4.0zM1463 163.3v4.0h2v-4.0zM1472 163.3v4.0h2v-4.0zM1483 163.3v4.0h2v-4.0zM1490 163.3v4.0h2v-4.0zM1493 163.3v4.0h3v-4.0zM1157 167.8v4.0h2v-4.0zM1160 167.8v4.0h3v-4.0zM1174 167.8v4.0h2v-4.0zM1177 167.8v4.0h2v-4.0zM1180 167.8v4.0h2v-4.0zM1193 167.8v4.0h2v-4.0zM1200 167.8v4.0h2v-4.0zM1203 167.8v4.0h3v-4.0zM1207 167.8v4.0h2v-4.0zM1210 167.8v4.0h2v-4.0zM1219 167.8v4.0h3v-4.0zM1225 167.8v4.0h3v-4.0zM1229 167.8v4.0h2v-4.0zM1232 167.8v4.0h3v-4.0zM1242 167.8v4.0h2v-4.0zM1247 167.8v4.0h2v-4.0zM1252 167.8v4.0h2v-4.0zM1265 167.8v4.0h2v-4.0zM1272 167.8v4.0h3v-4.0zM1280 167.8v4.0h2v-4.0zM1283 167.8v4.0h3v-4.0zM1293 167.8v4.0h3v-4.0zM1303 167.8v4.0h3v-4.0zM1311 167.8v4.0h2v-4.0zM1318 167.8v4.0h2v-4.0zM1321 167.8v4.0h3v-4.0zM1325 167.8v4.0h2v-4.0zM1332 167.8v4.0h2v-4.0zM1337 167.8v4.0h3v-4.0zM1349 167.8v4.0h2v-4.0zM1356 167.8v4.0h3v-4.0zM1368 167.8v4.0h2v-4.0zM1387 167.8v4.0h2v-4.0zM1392 167.8v4.0h2v-4.0zM1399 167.8v4.0h3v-4.0zM1407 167.8v4.0h3v-4.0zM1413 167.8v4.0h2v-4.0zM1422 167.8v4.0h3v-4.0zM1428 167.8v4.0h2v-4.0zM1431 167.8v4.0h2v-4.0zM1438 167.8v4.0h2v-4.0zM1463 167.8v4.0h3v-4.0zM1475 167.8v4.0h3v-4.0zM1495 167.8v4.0h2v-4.0zM1498 167.8v4.0h3v-4.0zM1158 172.3v4.0h2v-4.0zM1163 172.3v4.0h2v-4.0zM1166 172.3v4.0h2v-4.0zM1177 172.3v4.0h2v-4.0zM1184 172.3v4.0h2v-4.0zM1187 172.3v4.0h3v-4.0zM1193 172.3v4.0h3v-4.0zM1197 172.3v4.0h2v-4.0zM1202 172.3v4.0h3v-4.0zM1218 172.3v4.0h3v-4.0zM1222 172.3v4.0h3v-4.0zM1226 172.3v4.0h2v-4.0zM1229 172.3v4.0h2v-4.0zM1236 172.3v4.0h2v-4.0zM1247 172.3v4.0h3v-4.0zM1251 172.3v4.0h2v-4.0zM1254 172.3v4.0h2v-4.0zM1257 172.3v4.0h2v-4.0zM1260 172.3v4.0h3v-4.0zM1268 172.3v4.0h2v-4.0zM1271 172.3v4.0h2v-4.0zM1296 172.3v4.0h3v-4.0zM1308 172.3v4.0h3v-4.0zM1312 172.3v4.0h2v-4.0zM1315 172.3v4.0h2v-4.0zM1322 172.3v4.0h2v-4.0zM1325 172.3v4.0h2v-4.0zM1334 172.3v4.0h2v-4.0zM1337 172.3v4.0h2v-4.0zM1348 172.3v4.0h2v-4.0zM1351 172.3v4.0h2v-4.0zM1360 172.3v4.0h3v-4.0zM1364 172.3v4.0h3v-4.0zM1370 172.3v4.0h3v-4.0zM1374 172.3v4.0h3v-4.0zM1378 172.3v4.0h3v-4.0zM1384 172.3v4.0h2v-4.0zM1393 172.3v4.0h2v-4.0zM1396 172.3v4.0h2v-4.0zM1403 172.3v4.0h3v-4.0zM1407 172.3v4.0h2v-4.0zM1410 172.3v4.0h2v-4.0zM1415 172.3v4.0h2v-4.0zM1420 172.3v4.0h2v-4.0zM1423 172.3v4.0h3v-4.0zM1427 172.3v4.0h2v-4.0zM1430 172.3v4.0h2v-4.0zM1437 172.3v4.0h2v-4.0zM1440 172.3v4.0h2v-4.0zM1449 172.3v4.0h2v-4.0zM1456 172.3v4.0h2v-4.0zM1461 172.3v4.0h3v-4.0zM1473 172.3v4.0h2v-4.0zM1476 172.3v4.0h2v-4.0zM1481 172.3v4.0h2v-4.0zM1496 172.3v4.0h3v-4.0zM1159 176.7v4.0h2v-4.0zM1162 176.7v4.0h2v-4.0zM1167 176.7v4.0h3v-4.0zM1171 176.7v4.0h3v-4.0zM1179 176.7v4.0h3v-4.0zM1183 176.7v4.0h2v-4.0zM1196 176.7v4.0h2v-4.0zM1205 176.7v4.0h2v-4.0zM1216 176.7v4.0h3v-4.0zM1224 176.7v4.0h2v-4.0zM1227 176.7v4.0h3v-4.0zM1231 176.7v4.0h2v-4.0zM1234 176.7v4.0h2v-4.0zM1237 176.7v4.0h2v-4.0zM1244 176.7v4.0h2v-4.0zM1247 176.7v4.0h2v-4.0zM1258 176.7v4.0h3v-4.0zM1266 176.7v4.0h2v-4.0zM1269 176.7v4.0h3v-4.0zM1285 176.7v4.0h2v-4.0zM1290 176.7v4.0h2v-4.0zM1295 176.7v4.0h3v-4.0zM1299 176.7v4.0h2v-4.0zM1302 176.7v4.0h2v-4.0zM1305 176.7v4.0h3v-4.0zM1315 176.7v4.0h2v-4.0zM1318 176.7v4.0h2v-4.0zM1321 176.7v4.0h2v-4.0zM1326 176.7v4.0h2v-4.0zM1331 176.7v4.0h2v-4.0zM1334 176.7v4.0h3v-4.0zM1340 176.7v4.0h3v-4.0zM1344 176.7v4.0h3v-4.0zM1348 176.7v4.0h2v-4.0zM1357 176.7v4.0h2v-4.0zM1360 176.7v4.0h2v-4.0zM1363 176.7v4.0h2v-4.0zM1370 176.7v4.0h2v-4.0zM1373 176.7v4.0h2v-4.0zM1382 176.7v4.0h2v-4.0zM1405 176.7v4.0h2v-4.0zM1408 176.7v4.0h2v-4.0zM1413 176.7v4.0h2v-4.0zM1422 176.7v4.0h2v-4.0zM1431 176.7v4.0h3v-4.0zM1437 176.7v4.0h2v-4.0zM1478 176.7v4.0h2v-4.0zM1493 176.7v4.0h3v-4.0zM1158 181.2v4.0h2v-4.0zM1173 181.2v4.0h2v-4.0zM1188 181.2v4.0h3v-4.0zM1196 181.2v4.0h2v-4.0zM1199 181.2v4.0h3v-4.0zM1207 181.2v4.0h2v-4.0zM1212 181.2v4.0h2v-4.0zM1217 181.2v4.0h3v-4.0zM1221 181.2v4.0h2v-4.0zM1224 181.2v4.0h2v-4.0zM1229 181.2v4.0h2v-4.0zM1236 181.2v4.0h2v-4.0zM1239 181.2v4.0h2v-4.0zM1242 181.2v4.0h2v-4.0zM1251 181.2v4.0h3v-4.0zM1261 181.2v4.0h2v-4.0zM1264 181.2v4.0h3v-4.0zM1272 181.2v4.0h2v-4.0zM1275 181.2v4.0h2v-4.0zM1278 181.2v4.0h2v-4.0zM1281 181.2v4.0h3v-4.0zM1287 181.2v4.0h2v-4.0zM1294 181.2v4.0h2v-4.0zM1297 181.2v4.0h3v-4.0zM1303 181.2v4.0h3v-4.0zM1307 181.2v4.0h2v-4.0zM1310 181.2v4.0h2v-4.0zM1317 181.2v4.0h2v-4.0zM1322 181.2v4.0h2v-4.0zM1327 181.2v4.0h2v-4.0zM1330 181.2v4.0h2v-4.0zM1335 181.2v4.0h2v-4.0zM1350 181.2v4.0h3v-4.0zM1356 181.2v4.0h2v-4.0zM1389 181.2v4.0h2v-4.0zM1424 181.2v4.0h2v-4.0zM1427 181.2v4.0h2v-4.0zM1432 181.2v4.0h2v-4.0zM1443 181.2v4.0h2v-4.0zM1456 181.2v4.0h3v-4.0zM1460 181.2v4.0h3v-4.0zM1468 181.2v4.0h2v-4.0zM1471 181.2v4.0h2v-4.0zM1474 181.2v4.0h2v-4.0zM1477 181.2v4.0h2v-4.0zM1484 181.2v4.0h2v-4.0zM1160 185.7v4.0h2v-4.0zM1163 185.7v4.0h3v-4.0zM1169 185.7v4.0h2v-4.0zM1172 185.7v4.0h2v-4.0zM1177 185.7v4.0h2v-4.0zM1182 185.7v4.0h2v-4.0zM1185 185.7v4.0h3v-4.0zM1191 185.7v4.0h2v-4.0zM1194 185.7v4.0h2v-4.0zM1199 185.7v4.0h3v-4.0zM1203 185.7v4.0h2v-4.0zM1208 185.7v4.0h3v-4.0zM1212 185.7v4.0h3v-4.0zM1218 185.7v4.0h3v-4.0zM1228 185.7v4.0h2v-4.0zM1233 185.7v4.0h2v-4.0zM1240 185.7v4.0h3v-4.0zM1246 185.7v4.0h2v-4.0zM1249 185.7v4.0h3v-4.0zM1253 185.7v4.0h3v-4.0zM1257 185.7v4.0h2v-4.0zM1260 185.7v4.0h2v-4.0zM1263 185.7v4.0h2v-4.0zM1266 185.7v4.0h2v-4.0zM1269 185.7v4.0h3v-4.0zM1273 185.7v4.0h3v-4.0zM1279 185.7v4.0h2v-4.0zM1290 185.7v4.0h2v-4.0zM1293 185.7v4.0h2v-4.0zM1296 185.7v4.0h3v-4.0zM1300 185.7v4.0h2v-4.0zM1303 185.7v4.0h2v-4.0zM1306 185.7v4.0h2v-4.0zM1309 185.7v4.0h2v-4.0zM1314 185.7v4.0h2v-4.0zM1317 185.7v4.0h2v-4.0zM1324 185.7v4.0h2v-4.0zM1327 185.7v4.0h2v-4.0zM1336 185.7v4.0h2v-4.0zM1339 185.7v4.0h2v-4.0zM1342 185.7v4.0h2v-4.0zM1345 185.7v4.0h2v-4.0zM1350 185.7v4.0h2v-4.0zM1353 185.7v4.0h3v-4.0zM1359 185.7v4.0h2v-4.0zM1364 185.7v4.0h2v-4.0zM1367 185.7v4.0h3v-4.0zM1371 185.7v4.0h3v-4.0zM1375 185.7v4.0h3v-4.0zM1381 185.7v4.0h2v-4.0zM1384 185.7v4.0h2v-4.0zM1387 185.7v4.0h2v-4.0zM1394 185.7v4.0h2v-4.0zM1397 185.7v4.0h2v-4.0zM1402 185.7v4.0h2v-4.0zM1409 185.7v4.0h2v-4.0zM1412 185.7v4.0h2v-4.0zM1429 185.7v4.0h3v-4.0zM1433 185.7v4.0h3v-4.0zM1439 185.7v4.0h2v-4.0zM1448 185.7v4.0h2v-4.0zM1451 185.7v4.0h2v-4.0zM1454 185.7v4.0h2v-4.0zM1457 185.7v4.0h2v-4.0zM1462 185.7v4.0h3v-4.0zM1466 185.7v4.0h2v-4.0zM1471 185.7v4.0h2v-4.0zM1474 185.7v4.0h2v-4.0zM1479 185.7v4.0h2v-4.0zM1482 185.7v4.0h2v-4.0zM1485 185.7v4.0h2v-4.0zM1492 185.7v4.0h2v-4.0zM1495 185.7v4.0h2v-4.0zM1158 190.1v4.0h2v-4.0zM1163 190.1v4.0h2v-4.0zM1170 190.1v4.0h2v-4.0zM1173 190.1v4.0h3v-4.0zM1185 190.1v4.0h2v-4.0zM1188 190.1v4.0h2v-4.0zM1191 190.1v4.0h2v-4.0zM1198 190.1v4.0h3v-4.0zM1210 190.1v4.0h2v-4.0zM1213 190.1v4.0h2v-4.0zM1218 190.1v4.0h2v-4.0zM1227 190.1v4.0h2v-4.0zM1242 190.1v4.0h2v-4.0zM1245 190.1v4.0h2v-4.0zM1248 190.1v4.0h2v-4.0zM1253 190.1v4.0h3v-4.0zM1275 190.1v4.0h2v-4.0zM1278 190.1v4.0h2v-4.0zM1281 190.1v4.0h3v-4.0zM1293 190.1v4.0h2v-4.0zM1304 190.1v4.0h2v-4.0zM1311 190.1v4.0h2v-4.0zM1318 190.1v4.0h2v-4.0zM1321 190.1v4.0h2v-4.0zM1330 190.1v4.0h2v-4.0zM1337 190.1v4.0h2v-4.0zM1340 190.1v4.0h2v-4.0zM1345 190.1v4.0h2v-4.0zM1354 190.1v4.0h2v-4.0zM1357 190.1v4.0h2v-4.0zM1374 190.1v4.0h2v-4.0zM1377 190.1v4.0h2v-4.0zM1398 190.1v4.0h3v-4.0zM1402 190.1v4.0h2v-4.0zM1405 190.1v4.0h2v-4.0zM1408 190.1v4.0h2v-4.0zM1413 190.1v4.0h2v-4.0zM1416 190.1v4.0h2v-4.0zM1435 190.1v4.0h2v-4.0zM1438 190.1v4.0h2v-4.0zM1441 190.1v4.0h2v-4.0zM1448 190.1v4.0h3v-4.0zM1456 190.1v4.0h2v-4.0zM1159 194.6v4.0h3v-4.0zM1165 194.6v4.0h2v-4.0zM1168 194.6v4.0h2v-4.0zM1173 194.6v4.0h2v-4.0zM1176 194.6v4.0h2v-4.0zM1179 194.6v4.0h3v-4.0zM1189 194.6v4.0h2v-4.0zM1194 194.6v4.0h2v-4.0zM1199 194.6v4.0h2v-4.0zM1202 194.6v4.0h2v-4.0zM1205 194.6v4.0h2v-4.0zM1208 194.6v4.0h2v-4.0zM1219 194.6v4.0h2v-4.0zM1222 194.6v4.0h2v-4.0zM1227 194.6v4.0h2v-4.0zM1232 194.6v4.0h3v-4.0zM1242 194.6v4.0h3v-4.0zM1248 194.6v4.0h2v-4.0zM1255 194.6v4.0h3v-4.0zM1261 194.6v4.0h3v-4.0zM1277 194.6v4.0h3v-4.0zM1283 194.6v4.0h2v-4.0zM1288 194.6v4.0h2v-4.0zM1295 194.6v4.0h2v-4.0zM1320 194.6v4.0h2v-4.0zM1325 194.6v4.0h2v-4.0zM1328 194.6v4.0h2v-4.0zM1331 194.6v4.0h2v-4.0zM1334 194.6v4.0h2v-4.0zM1337 194.6v4.0h3v-4.0zM1347 194.6v4.0h2v-4.0zM1350 194.6v4.0h2v-4.0zM1355 194.6v4.0h2v-4.0zM1358 194.6v4.0h2v-4.0zM1361 194.6v4.0h2v-4.0zM1364 194.6v4.0h3v-4.0zM1368 194.6v4.0h2v-4.0zM1371 194.6v4.0h2v-4.0zM1380 194.6v4.0h2v-4.0zM1395 194.6v4.0h2v-4.0zM1410 194.6v4.0h2v-4.0zM1413 194.6v4.0h3v-4.0zM1417 194.6v4.0h3v-4.0zM1425 194.6v4.0h3v-4.0zM1445 194.6v4.0h2v-4.0zM1452 194.6v4.0h2v-4.0zM1459 194.6v4.0h3v-4.0zM1469 194.6v4.0h3v-4.0zM1477 194.6v4.0h2v-4.0zM1488 194.6v4.0h2v-4.0zM1497 194.6v4.0h2v-4.0zM1162 199.1v4.0h2v-4.0zM1167 199.1v4.0h2v-4.0zM1170 199.1v4.0h2v-4.0zM1173 199.1v4.0h3v-4.0zM1191 199.1v4.0h2v-4.0zM1196 199.1v4.0h2v-4.0zM1205 199.1v4.0h2v-4.0zM1214 199.1v4.0h3v-4.0zM1234 199.1v4.0h2v-4.0zM1239 199.1v4.0h2v-4.0zM1242 199.1v4.0h3v-4.0zM1254 199.1v4.0h2v-4.0zM1257 199.1v4.0h2v-4.0zM1266 199.1v4.0h3v-4.0zM1270 199.1v4.0h2v-4.0zM1273 199.1v4.0h3v-4.0zM1277 199.1v4.0h3v-4.0zM1283 199.1v4.0h3v-4.0zM1289 199.1v4.0h3v-4.0zM1293 199.1v4.0h2v-4.0zM1296 199.1v4.0h3v-4.0zM1304 199.1v4.0h2v-4.0zM1307 199.1v4.0h2v-4.0zM1310 199.1v4.0h3v-4.0zM1314 199.1v4.0h2v-4.0zM1331 199.1v4.0h3v-4.0zM1337 199.1v4.0h2v-4.0zM1340 199.1v4.0h2v-4.0zM1343 199.1v4.0h2v-4.0zM1346 199.1v4.0h2v-4.0zM1349 199.1v4.0h2v-4.0zM1354 199.1v4.0h3v-4.0zM1358 199.1v4.0h3v-4.0zM1366 199.1v4.0h3v-4.0zM1372 199.1v4.0h2v-4.0zM1377 199.1v4.0h3v-4.0zM1383 199.1v4.0h3v-4.0zM1387 199.1v4.0h2v-4.0zM1390 199.1v4.0h2v-4.0zM1395 199.1v4.0h3v-4.0zM1399 199.1v4.0h2v-4.0zM1402 199.1v4.0h2v-4.0zM1405 199.1v4.0h2v-4.0zM1408 199.1v4.0h3v-4.0zM1412 199.1v4.0h2v-4.0zM1415 199.1v4.0h2v-4.0zM1420 199.1v4.0h3v-4.0zM1432 199.1v4.0h2v-4.0zM1435 199.1v4.0h2v-4.0zM1440 199.1v4.0h3v-4.0zM1446 199.1v4.0h2v-4.0zM1449 199.1v4.0h2v-4.0zM1452 199.1v4.0h2v-4.0zM1463 199.1v4.0h2v-4.0zM1466 199.1v4.0h3v-4.0zM1470 199.1v4.0h2v-4.0zM1473 199.1v4.0h3v-4.0zM1481 199.1v4.0h2v-4.0zM1484 199.1v4.0h2v-4.0zM1487 199.1v4.0h2v-4.0zM1492 199.1v4.0h2v-4.0zM1497 199.1v4.0h2v-4.0zM1161 203.5v4.0h2v-4.0zM1164 203.5v4.0h2v-4.0zM1171 203.5v4.0h2v-4.0zM1182 203.5v4.0h2v-4.0zM1185 203.5v4.0h2v-4.0zM1188 203.5v4.0h2v-4.0zM1193 203.5v4.0h3v-4.0zM1199 203.5v4.0h3v-4.0zM1203 203.5v4.0h2v-4.0zM1214 203.5v4.0h2v-4.0zM1241 203.5v4.0h2v-4.0zM1264 203.5v4.0h2v-4.0zM1267 203.5v4.0h3v-4.0zM1291 203.5v4.0h2v-4.0zM1294 203.5v4.0h2v-4.0zM1303 203.5v4.0h2v-4.0zM1306 203.5v4.0h2v-4.0zM1309 203.5v4.0h2v-4.0zM1322 203.5v4.0h2v-4.0zM1325 203.5v4.0h2v-4.0zM1330 203.5v4.0h2v-4.0zM1333 203.5v4.0h3v-4.0zM1337 203.5v4.0h2v-4.0zM1348 203.5v4.0h3v-4.0zM1356 203.5v4.0h3v-4.0zM1360 203.5v4.0h2v-4.0zM1363 203.5v4.0h3v-4.0zM1371 203.5v4.0h3v-4.0zM1379 203.5v4.0h2v-4.0zM1384 203.5v4.0h2v-4.0zM1391 203.5v4.0h2v-4.0zM1394 203.5v4.0h3v-4.0zM1400 203.5v4.0h2v-4.0zM1403 203.5v4.0h2v-4.0zM1406 203.5v4.0h2v-4.0zM1409 203.5v4.0h2v-4.0zM1412 203.5v4.0h3v-4.0zM1416 203.5v4.0h2v-4.0zM1419 203.5v4.0h2v-4.0zM1422 203.5v4.0h3v-4.0zM1426 203.5v4.0h2v-4.0zM1431 203.5v4.0h3v-4.0zM1437 203.5v4.0h2v-4.0zM1442 203.5v4.0h2v-4.0zM1451 203.5v4.0h2v-4.0zM1454 203.5v4.0h2v-4.0zM1459 203.5v4.0h3v-4.0zM1463 203.5v4.0h3v-4.0zM1469 203.5v4.0h2v-4.0zM1472 203.5v4.0h2v-4.0zM1477 203.5v4.0h2v-4.0zM1490 203.5v4.0h2v-4.0zM1158 208.0v4.0h2v-4.0zM1161 208.0v4.0h3v-4.0zM1165 208.0v4.0h3v-4.0zM1171 208.0v4.0h3v-4.0zM1175 208.0v4.0h2v-4.0zM1188 208.0v4.0h2v-4.0zM1191 208.0v4.0h2v-4.0zM1194 208.0v4.0h2v-4.0zM1199 208.0v4.0h2v-4.0zM1214 208.0v4.0h2v-4.0zM1219 208.0v4.0h2v-4.0zM1224 208.0v4.0h2v-4.0zM1227 208.0v4.0h2v-4.0zM1234 208.0v4.0h2v-4.0zM1243 208.0v4.0h2v-4.0zM1252 208.0v4.0h2v-4.0zM1261 208.0v4.0h3v-4.0zM1271 208.0v4.0h2v-4.0zM1278 208.0v4.0h3v-4.0zM1286 208.0v4.0h3v-4.0zM1294 208.0v4.0h3v-4.0zM1298 208.0v4.0h3v-4.0zM1304 208.0v4.0h3v-4.0zM1310 208.0v4.0h2v-4.0zM1313 208.0v4.0h2v-4.0zM1322 208.0v4.0h2v-4.0zM1325 208.0v4.0h3v-4.0zM1331 208.0v4.0h2v-4.0zM1334 208.0v4.0h2v-4.0zM1337 208.0v4.0h2v-4.0zM1340 208.0v4.0h2v-4.0zM1343 208.0v4.0h2v-4.0zM1346 208.0v4.0h2v-4.0zM1349 208.0v4.0h3v-4.0zM1353 208.0v4.0h2v-4.0zM1356 208.0v4.0h3v-4.0zM1362 208.0v4.0h2v-4.0zM1367 208.0v4.0h2v-4.0zM1370 208.0v4.0h2v-4.0zM1373 208.0v4.0h3v-4.0zM1377 208.0v4.0h2v-4.0zM1380 208.0v4.0h2v-4.0zM1383 208.0v4.0h2v-4.0zM1386 208.0v4.0h2v-4.0zM1389 208.0v4.0h2v-4.0zM1394 208.0v4.0h2v-4.0zM1399 208.0v4.0h3v-4.0zM1403 208.0v4.0h2v-4.0zM1406 208.0v4.0h2v-4.0zM1413 208.0v4.0h2v-4.0zM1416 208.0v4.0h2v-4.0zM1419 208.0v4.0h3v-4.0zM1423 208.0v4.0h2v-4.0zM1430 208.0v4.0h2v-4.0zM1435 208.0v4.0h3v-4.0zM1439 208.0v4.0h2v-4.0zM1446 208.0v4.0h2v-4.0zM1449 208.0v4.0h2v-4.0zM1452 208.0v4.0h3v-4.0zM1456 208.0v4.0h2v-4.0zM1459 208.0v4.0h2v-4.0zM1464 208.0v4.0h2v-4.0zM1467 208.0v4.0h2v-4.0zM1472 208.0v4.0h2v-4.0zM1477 208.0v4.0h2v-4.0zM1480 208.0v4.0h3v-4.0zM1484 208.0v4.0h3v-4.0zM1488 208.0v4.0h2v-4.0zM1495 208.0v4.0h2v-4.0zM1498 208.0v4.0h2v-4.0zM1200 212.5v4.0h2v-4.0zM1207 212.5v4.0h2v-4.0zM1224 212.5v4.0h3v-4.0zM1236 212.5v4.0h2v-4.0zM1239 212.5v4.0h2v-4.0zM1242 212.5v4.0h2v-4.0zM1249 212.5v4.0h2v-4.0zM1258 212.5v4.0h2v-4.0zM1263 212.5v4.0h2v-4.0zM1270 212.5v4.0h2v-4.0zM1275 212.5v4.0h2v-4.0zM1278 212.5v4.0h2v-4.0zM1281 212.5v4.0h2v-4.0zM1286 212.5v4.0h2v-4.0zM1289 212.5v4.0h2v-4.0zM1294 212.5v4.0h3v-4.0zM1306 212.5v4.0h2v-4.0zM1309 212.5v4.0h2v-4.0zM1312 212.5v4.0h2v-4.0zM1315 212.5v4.0h2v-4.0zM1318 212.5v4.0h2v-4.0zM1321 212.5v4.0h3v-4.0zM1325 212.5v4.0h2v-4.0zM1332 212.5v4.0h2v-4.0zM1339 212.5v4.0h3v-4.0zM1343 212.5v4.0h3v-4.0zM1349 212.5v4.0h2v-4.0zM1356 212.5v4.0h2v-4.0zM1371 212.5v4.0h2v-4.0zM1374 212.5v4.0h3v-4.0zM1382 212.5v4.0h3v-4.0zM1392 212.5v4.0h2v-4.0zM1397 212.5v4.0h2v-4.0zM1400 212.5v4.0h3v-4.0zM1404 212.5v4.0h3v-4.0zM1428 212.5v4.0h2v-4.0zM1431 212.5v4.0h3v-4.0zM1453 212.5v4.0h2v-4.0zM1456 212.5v4.0h2v-4.0zM1461 212.5v4.0h2v-4.0zM1470 212.5v4.0h3v-4.0zM1474 212.5v4.0h3v-4.0zM1486 212.5v4.0h2v-4.0zM1491 212.5v4.0h2v-4.0zM1496 212.5v4.0h2v-4.0zM1158 216.9v4.0h2v-4.0zM1165 216.9v4.0h3v-4.0zM1173 216.9v4.0h2v-4.0zM1178 216.9v4.0h3v-4.0zM1186 216.9v4.0h2v-4.0zM1189 216.9v4.0h2v-4.0zM1194 216.9v4.0h2v-4.0zM1201 216.9v4.0h2v-4.0zM1204 216.9v4.0h2v-4.0zM1209 216.9v4.0h3v-4.0zM1213 216.9v4.0h2v-4.0zM1216 216.9v4.0h2v-4.0zM1219 216.9v4.0h2v-4.0zM1228 216.9v4.0h2v-4.0zM1235 216.9v4.0h2v-4.0zM1238 216.9v4.0h2v-4.0zM1247 216.9v4.0h3v-4.0zM1255 216.9v4.0h2v-4.0zM1258 216.9v4.0h2v-4.0zM1275 216.9v4.0h2v-4.0zM1280 216.9v4.0h2v-4.0zM1285 216.9v4.0h3v-4.0zM1295 216.9v4.0h2v-4.0zM1302 216.9v4.0h2v-4.0zM1307 216.9v4.0h2v-4.0zM1320 216.9v4.0h2v-4.0zM1325 216.9v4.0h2v-4.0zM1336 216.9v4.0h2v-4.0zM1351 216.9v4.0h2v-4.0zM1356 216.9v4.0h3v-4.0zM1360 216.9v4.0h2v-4.0zM1363 216.9v4.0h2v-4.0zM1366 216.9v4.0h3v-4.0zM1370 216.9v4.0h2v-4.0zM1387 216.9v4.0h3v-4.0zM1395 216.9v4.0h3v-4.0zM1403 216.9v4.0h2v-4.0zM1414 216.9v4.0h2v-4.0zM1421 216.9v4.0h3v-4.0zM1425 216.9v4.0h2v-4.0zM1430 216.9v4.0h3v-4.0zM1434 216.9v4.0h2v-4.0zM1439 216.9v4.0h2v-4.0zM1442 216.9v4.0h2v-4.0zM1445 216.9v4.0h2v-4.0zM1448 216.9v4.0h2v-4.0zM1457 216.9v4.0h2v-4.0zM1460 216.9v4.0h2v-4.0zM1471 216.9v4.0h2v-4.0zM1476 216.9v4.0h2v-4.0zM1481 216.9v4.0h2v-4.0zM1496 216.9v4.0h2v-4.0zM1158 221.4v4.0h2v-4.0zM1167 221.4v4.0h2v-4.0zM1170 221.4v4.0h2v-4.0zM1173 221.4v4.0h2v-4.0zM1178 221.4v4.0h2v-4.0zM1181 221.4v4.0h3v-4.0zM1185 221.4v4.0h3v-4.0zM1189 221.4v4.0h2v-4.0zM1192 221.4v4.0h2v-4.0zM1205 221.4v4.0h3v-4.0zM1209 221.4v4.0h2v-4.0zM1212 221.4v4.0h2v-4.0zM1215 221.4v4.0h2v-4.0zM1222 221.4v4.0h2v-4.0zM1231 221.4v4.0h2v-4.0zM1238 221.4v4.0h3v-4.0zM1242 221.4v4.0h2v-4.0zM1247 221.4v4.0h2v-4.0zM1258 221.4v4.0h2v-4.0zM1267 221.4v4.0h2v-4.0zM1272 221.4v4.0h3v-4.0zM1280 221.4v4.0h2v-4.0zM1283 221.4v4.0h2v-4.0zM1286 221.4v4.0h2v-4.0zM1289 221.4v4.0h2v-4.0zM1298 221.4v4.0h2v-4.0zM1301 221.4v4.0h2v-4.0zM1304 221.4v4.0h3v-4.0zM1308 221.4v4.0h2v-4.0zM1313 221.4v4.0h2v-4.0zM1316 221.4v4.0h3v-4.0zM1324 221.4v4.0h2v-4.0zM1327 221.4v4.0h2v-4.0zM1334 221.4v4.0h2v-4.0zM1337 221.4v4.0h2v-4.0zM1340 221.4v4.0h3v-4.0zM1344 221.4v4.0h2v-4.0zM1347 221.4v4.0h2v-4.0zM1354 221.4v4.0h2v-4.0zM1357 221.4v4.0h2v-4.0zM1360 221.4v4.0h2v-4.0zM1367 221.4v4.0h3v-4.0zM1371 221.4v4.0h2v-4.0zM1374 221.4v4.0h3v-4.0zM1378 221.4v4.0h2v-4.0zM1383 221.4v4.0h2v-4.0zM1388 221.4v4.0h3v-4.0zM1392 221.4v4.0h3v-4.0zM1396 221.4v4.0h2v-4.0zM1403 221.4v4.0h2v-4.0zM1406 221.4v4.0h2v-4.0zM1409 221.4v4.0h3v-4.0zM1413 221.4v4.0h2v-4.0zM1418 221.4v4.0h2v-4.0zM1421 221.4v4.0h2v-4.0zM1424 221.4v4.0h2v-4.0zM1427 221.4v4.0h2v-4.0zM1430 221.4v4.0h2v-4.0zM1433 221.4v4.0h2v-4.0zM1436 221.4v4.0h2v-4.0zM1443 221.4v4.0h2v-4.0zM1446 221.4v4.0h2v-4.0zM1449 221.4v4.0h2v-4.0zM1454 221.4v4.0h2v-4.0zM1457 221.4v4.0h2v-4.0zM1460 221.4v4.0h3v-4.0zM1464 221.4v4.0h2v-4.0zM1467 221.4v4.0h2v-4.0zM1470 221.4v4.0h2v-4.0zM1473 221.4v4.0h2v-4.0zM1476 221.4v4.0h2v-4.0zM1479 221.4v4.0h2v-4.0zM1486 221.4v4.0h2v-4.0zM1491 221.4v4.0h3v-4.0zM1165 225.9v4.0h3v-4.0zM1171 225.9v4.0h2v-4.0zM1174 225.9v4.0h2v-4.0zM1179 225.9v4.0h2v-4.0zM1182 225.9v4.0h2v-4.0zM1199 225.9v4.0h2v-4.0zM1210 225.9v4.0h2v-4.0zM1213 225.9v4.0h2v-4.0zM1222 225.9v4.0h3v-4.0zM1228 225.9v4.0h2v-4.0zM1233 225.9v4.0h3v-4.0zM1243 225.9v4.0h2v-4.0zM1246 225.9v4.0h2v-4.0zM1251 225.9v4.0h2v-4.0zM1266 225.9v4.0h2v-4.0zM1273 225.9v4.0h2v-4.0zM1276 225.9v4.0h2v-4.0zM1285 225.9v4.0h2v-4.0zM1290 225.9v4.0h3v-4.0zM1294 225.9v4.0h3v-4.0zM1298 225.9v4.0h3v-4.0zM1308 225.9v4.0h3v-4.0zM1320 225.9v4.0h2v-4.0zM1325 225.9v4.0h2v-4.0zM1332 225.9v4.0h2v-4.0zM1335 225.9v4.0h2v-4.0zM1338 225.9v4.0h2v-4.0zM1353 225.9v4.0h2v-4.0zM1356 225.9v4.0h2v-4.0zM1359 225.9v4.0h2v-4.0zM1362 225.9v4.0h3v-4.0zM1368 225.9v4.0h2v-4.0zM1373 225.9v4.0h2v-4.0zM1386 225.9v4.0h2v-4.0zM1389 225.9v4.0h2v-4.0zM1394 225.9v4.0h2v-4.0zM1401 225.9v4.0h2v-4.0zM1404 225.9v4.0h2v-4.0zM1409 225.9v4.0h2v-4.0zM1412 225.9v4.0h3v-4.0zM1418 225.9v4.0h2v-4.0zM1437 225.9v4.0h2v-4.0zM1442 225.9v4.0h2v-4.0zM1447 225.9v4.0h3v-4.0zM1451 225.9v4.0h2v-4.0zM1458 225.9v4.0h2v-4.0zM1461 225.9v4.0h2v-4.0zM1466 225.9v4.0h3v-4.0zM1472 225.9v4.0h2v-4.0zM1477 225.9v4.0h3v-4.0zM1481 225.9v4.0h2v-4.0zM1484 225.9v4.0h2v-4.0zM1487 225.9v4.0h2v-4.0zM1490 225.9v4.0h2v-4.0zM1493 225.9v4.0h2v-4.0zM1496 225.9v4.0h2v-4.0zM1158 230.3v4.0h3v-4.0zM1162 230.3v4.0h2v-4.0zM1167 230.3v4.0h2v-4.0zM1174 230.3v4.0h3v-4.0zM1180 230.3v4.0h2v-4.0zM1185 230.3v4.0h2v-4.0zM1194 230.3v4.0h2v-4.0zM1199 230.3v4.0h2v-4.0zM1208 230.3v4.0h3v-4.0zM1212 230.3v4.0h3v-4.0zM1226 230.3v4.0h2v-4.0zM1237 230.3v4.0h2v-4.0zM1242 230.3v4.0h2v-4.0zM1245 230.3v4.0h2v-4.0zM1248 230.3v4.0h2v-4.0zM1251 230.3v4.0h2v-4.0zM1254 230.3v4.0h2v-4.0zM1261 230.3v4.0h2v-4.0zM1278 230.3v4.0h2v-4.0zM1283 230.3v4.0h2v-4.0zM1290 230.3v4.0h2v-4.0zM1293 230.3v4.0h2v-4.0zM1302 230.3v4.0h2v-4.0zM1307 230.3v4.0h2v-4.0zM1310 230.3v4.0h2v-4.0zM1317 230.3v4.0h2v-4.0zM1322 230.3v4.0h2v-4.0zM1325 230.3v4.0h2v-4.0zM1330 230.3v4.0h2v-4.0zM1337 230.3v4.0h3v-4.0zM1341 230.3v4.0h2v-4.0zM1346 230.3v4.0h3v-4.0zM1350 230.3v4.0h2v-4.0zM1353 230.3v4.0h2v-4.0zM1356 230.3v4.0h2v-4.0zM1361 230.3v4.0h2v-4.0zM1366 230.3v4.0h2v-4.0zM1369 230.3v4.0h2v-4.0zM1372 230.3v4.0h3v-4.0zM1378 230.3v4.0h2v-4.0zM1383 230.3v4.0h2v-4.0zM1386 230.3v4.0h2v-4.0zM1389 230.3v4.0h3v-4.0zM1397 230.3v4.0h2v-4.0zM1404 230.3v4.0h2v-4.0zM1409 230.3v4.0h2v-4.0zM1414 230.3v4.0h2v-4.0zM1421 230.3v4.0h2v-4.0zM1424 230.3v4.0h2v-4.0zM1433 230.3v4.0h2v-4.0zM1442 230.3v4.0h2v-4.0zM1447 230.3v4.0h3v-4.0zM1451 230.3v4.0h2v-4.0zM1454 230.3v4.0h2v-4.0zM1469 230.3v4.0h2v-4.0zM1478 230.3v4.0h2v-4.0zM1485 230.3v4.0h2v-4.0zM1490 230.3v4.0h3v-4.0zM1496 230.3v4.0h3v-4.0zM1160 234.8v4.0h3v-4.0zM1178 234.8v4.0h2v-4.0zM1187 234.8v4.0h2v-4.0zM1190 234.8v4.0h2v-4.0zM1193 234.8v4.0h2v-4.0zM1198 234.8v4.0h2v-4.0zM1201 234.8v4.0h2v-4.0zM1206 234.8v4.0h2v-4.0zM1209 234.8v4.0h3v-4.0zM1213 234.8v4.0h2v-4.0zM1218 234.8v4.0h2v-4.0zM1223 234.8v4.0h2v-4.0zM1226 234.8v4.0h3v-4.0zM1230 234.8v4.0h2v-4.0zM1237 234.8v4.0h3v-4.0zM1241 234.8v4.0h2v-4.0zM1244 234.8v4.0h3v-4.0zM1248 234.8v4.0h2v-4.0zM1251 234.8v4.0h2v-4.0zM1254 234.8v4.0h2v-4.0zM1261 234.8v4.0h3v-4.0zM1265 234.8v4.0h2v-4.0zM1270 234.8v4.0h2v-4.0zM1275 234.8v4.0h2v-4.0zM1278 234.8v4.0h3v-4.0zM1282 234.8v4.0h3v-4.0zM1286 234.8v4.0h2v-4.0zM1289 234.8v4.0h2v-4.0zM1292 234.8v4.0h3v-4.0zM1298 234.8v4.0h2v-4.0zM1303 234.8v4.0h2v-4.0zM1308 234.8v4.0h2v-4.0zM1313 234.8v4.0h2v-4.0zM1316 234.8v4.0h2v-4.0zM1319 234.8v4.0h2v-4.0zM1322 234.8v4.0h3v-4.0zM1326 234.8v4.0h2v-4.0zM1329 234.8v4.0h2v-4.0zM1332 234.8v4.0h2v-4.0zM1335 234.8v4.0h2v-4.0zM1338 234.8v4.0h3v-4.0zM1344 234.8v4.0h2v-4.0zM1347 234.8v4.0h2v-4.0zM1350 234.8v4.0h2v-4.0zM1353 234.8v4.0h2v-4.0zM1356 234.8v4.0h2v-4.0zM1359 234.8v4.0h3v-4.0zM1363 234.8v4.0h3v-4.0zM1367 234.8v4.0h2v-4.0zM1370 234.8v4.0h2v-4.0zM1373 234.8v4.0h3v-4.0zM1377 234.8v4.0h3v-4.0zM1381 234.8v4.0h2v-4.0zM1386 234.8v4.0h3v-4.0zM1390 234.8v4.0h2v-4.0zM1393 234.8v4.0h2v-4.0zM1396 234.8v4.0h3v-4.0zM1400 234.8v4.0h3v-4.0zM1406 234.8v4.0h2v-4.0zM1409 234.8v4.0h2v-4.0zM1412 234.8v4.0h2v-4.0zM1415 234.8v4.0h3v-4.0zM1421 234.8v4.0h3v-4.0zM1425 234.8v4.0h2v-4.0zM1428 234.8v4.0h2v-4.0zM1431 234.8v4.0h3v-4.0zM1435 234.8v4.0h2v-4.0zM1438 234.8v4.0h3v-4.0zM1444 234.8v4.0h2v-4.0zM1447 234.8v4.0h3v-4.0zM1451 234.8v4.0h2v-4.0zM1454 234.8v4.0h2v-4.0zM1457 234.8v4.0h2v-4.0zM1460 234.8v4.0h2v-4.0zM1463 234.8v4.0h3v-4.0zM1467 234.8v4.0h2v-4.0zM1470 234.8v4.0h2v-4.0zM1473 234.8v4.0h2v-4.0zM1476 234.8v4.0h2v-4.0zM1479 234.8v4.0h2v-4.0zM1482 234.8v4.0h2v-4.0zM1491 234.8v4.0h2v-4.0zM1494 234.8v4.0h2v-4.0zM1497 234.8v4.0h2v-4.0zM1162 239.3v4.0h2v-4.0zM1169 239.3v4.0h2v-4.0zM1172 239.3v4.0h2v-4.0zM1179 239.3v4.0h3v-4.0zM1207 239.3v4.0h2v-4.0zM1216 239.3v4.0h2v-4.0zM1219 239.3v4.0h2v-4.0zM1252 239.3v4.0h2v-4.0zM1255 239.3v4.0h2v-4.0zM1260 239.3v4.0h3v-4.0zM1266 239.3v4.0h2v-4.0zM1275 239.3v4.0h2v-4.0zM1282 239.3v4.0h2v-4.0zM1291 239.3v4.0h3v-4.0zM1295 239.3v4.0h2v-4.0zM1308 239.3v4.0h2v-4.0zM1313 239.3v4.0h2v-4.0zM1322 239.3v4.0h3v-4.0zM1326 239.3v4.0h3v-4.0zM1330 239.3v4.0h2v-4.0zM1335 239.3v4.0h2v-4.0zM1338 239.3v4.0h2v-4.0zM1351 239.3v4.0h3v-4.0zM1355 239.3v4.0h3v-4.0zM1363 239.3v4.0h3v-4.0zM1367 239.3v4.0h2v-4.0zM1370 239.3v4.0h2v-4.0zM1383 239.3v4.0h2v-4.0zM1388 239.3v4.0h3v-4.0zM1398 239.3v4.0h2v-4.0zM1401 239.3v4.0h2v-4.0zM1404 239.3v4.0h2v-4.0zM1407 239.3v4.0h2v-4.0zM1412 239.3v4.0h2v-4.0zM1415 239.3v4.0h3v-4.0zM1423 239.3v4.0h2v-4.0zM1426 239.3v4.0h2v-4.0zM1429 239.3v4.0h3v-4.0zM1435 239.3v4.0h2v-4.0zM1442 239.3v4.0h2v-4.0zM1445 239.3v4.0h2v-4.0zM1448 239.3v4.0h2v-4.0zM1451 239.3v4.0h2v-4.0zM1454 239.3v4.0h2v-4.0zM1459 239.3v4.0h3v-4.0zM1463 239.3v4.0h3v-4.0zM1467 239.3v4.0h2v-4.0zM1470 239.3v4.0h3v-4.0zM1474 239.3v4.0h2v-4.0zM1477 239.3v4.0h3v-4.0zM1495 239.3v4.0h2v-4.0zM1498 239.3v4.0h3v-4.0zM1162 243.7v4.0h2v-4.0zM1165 243.7v4.0h3v-4.0zM1173 243.7v4.0h2v-4.0zM1180 243.7v4.0h3v-4.0zM1186 243.7v4.0h2v-4.0zM1195 243.7v4.0h3v-4.0zM1199 243.7v4.0h2v-4.0zM1212 243.7v4.0h2v-4.0zM1221 243.7v4.0h2v-4.0zM1240 243.7v4.0h2v-4.0zM1243 243.7v4.0h2v-4.0zM1248 243.7v4.0h2v-4.0zM1255 243.7v4.0h2v-4.0zM1266 243.7v4.0h3v-4.0zM1270 243.7v4.0h2v-4.0zM1275 243.7v4.0h2v-4.0zM1280 243.7v4.0h2v-4.0zM1283 243.7v4.0h2v-4.0zM1286 243.7v4.0h2v-4.0zM1289 243.7v4.0h2v-4.0zM1302 243.7v4.0h2v-4.0zM1305 243.7v4.0h3v-4.0zM1311 243.7v4.0h2v-4.0zM1314 243.7v4.0h2v-4.0zM1317 243.7v4.0h2v-4.0zM1322 243.7v4.0h2v-4.0zM1327 243.7v4.0h3v-4.0zM1335 243.7v4.0h3v-4.0zM1339 243.7v4.0h3v-4.0zM1345 243.7v4.0h2v-4.0zM1348 243.7v4.0h2v-4.0zM1353 243.7v4.0h3v-4.0zM1357 243.7v4.0h2v-4.0zM1362 243.7v4.0h3v-4.0zM1368 243.7v4.0h2v-4.0zM1373 243.7v4.0h2v-4.0zM1376 243.7v4.0h2v-4.0zM1379 243.7v4.0h2v-4.0zM1382 243.7v4.0h2v-4.0zM1397 243.7v4.0h2v-4.0zM1402 243.7v4.0h2v-4.0zM1431 243.7v4.0h2v-4.0zM1438 243.7v4.0h3v-4.0zM1442 243.7v4.0h2v-4.0zM1445 243.7v4.0h2v-4.0zM1448 243.7v4.0h3v-4.0zM1452 243.7v4.0h3v-4.0zM1458 243.7v4.0h2v-4.0zM1461 243.7v4.0h2v-4.0zM1470 243.7v4.0h2v-4.0zM1473 243.7v4.0h3v-4.0zM1477 243.7v4.0h2v-4.0zM1480 243.7v4.0h2v-4.0zM1485 243.7v4.0h2v-4.0zM1494 243.7v4.0h2v-4.0zM1163 248.2v4.0h2v-4.0zM1178 248.2v4.0h2v-4.0zM1181 248.2v4.0h3v-4.0zM1185 248.2v4.0h2v-4.0zM1190 248.2v4.0h3v-4.0zM1194 248.2v4.0h2v-4.0zM1201 248.2v4.0h2v-4.0zM1206 248.2v4.0h2v-4.0zM1215 248.2v4.0h3v-4.0zM1221 248.2v4.0h2v-4.0zM1228 248.2v4.0h2v-4.0zM1231 248.2v4.0h2v-4.0zM1234 248.2v4.0h2v-4.0zM1237 248.2v4.0h2v-4.0zM1240 248.2v4.0h2v-4.0zM1243 248.2v4.0h2v-4.0zM1250 248.2v4.0h2v-4.0zM1253 248.2v4.0h2v-4.0zM1258 248.2v4.0h2v-4.0zM1261 248.2v4.0h2v-4.0zM1264 248.2v4.0h2v-4.0zM1271 248.2v4.0h2v-4.0zM1274 248.2v4.0h2v-4.0zM1277 248.2v4.0h2v-4.0zM1280 248.2v4.0h2v-4.0zM1285 248.2v4.0h2v-4.0zM1288 248.2v4.0h3v-4.0zM1292 248.2v4.0h3v-4.0zM1296 248.2v4.0h2v-4.0zM1299 248.2v4.0h2v-4.0zM1302 248.2v4.0h2v-4.0zM1307 248.2v4.0h3v-4.0zM1311 248.2v4.0h3v-4.0zM1315 248.2v4.0h2v-4.0zM1318 248.2v4.0h2v-4.0zM1325 248.2v4.0h2v-4.0zM1330 248.2v4.0h2v-4.0zM1333 248.2v4.0h2v-4.0zM1338 248.2v4.0h2v-4.0zM1343 248.2v4.0h3v-4.0zM1347 248.2v4.0h3v-4.0zM1351 248.2v4.0h3v-4.0zM1355 248.2v4.0h2v-4.0zM1358 248.2v4.0h2v-4.0zM1361 248.2v4.0h3v-4.0zM1365 248.2v4.0h2v-4.0zM1370 248.2v4.0h2v-4.0zM1373 248.2v4.0h2v-4.0zM1376 248.2v4.0h3v-4.0zM1380 248.2v4.0h2v-4.0zM1383 248.2v4.0h2v-4.0zM1388 248.2v4.0h2v-4.0zM1391 248.2v4.0h2v-4.0zM1394 248.2v4.0h3v-4.0zM1398 248.2v4.0h2v-4.0zM1403 248.2v4.0h2v-4.0zM1406 248.2v4.0h2v-4.0zM1409 248.2v4.0h2v-4.0zM1412 248.2v4.0h2v-4.0zM1415 248.2v4.0h2v-4.0zM1420 248.2v4.0h2v-4.0zM1437 248.2v4.0h2v-4.0zM1440 248.2v4.0h2v-4.0zM1443 248.2v4.0h3v-4.0zM1447 248.2v4.0h2v-4.0zM1450 248.2v4.0h2v-4.0zM1453 248.2v4.0h2v-4.0zM1456 248.2v4.0h3v-4.0zM1460 248.2v4.0h3v-4.0zM1466 248.2v4.0h2v-4.0zM1469 248.2v4.0h2v-4.0zM1472 248.2v4.0h3v-4.0zM1476 248.2v4.0h2v-4.0zM1483 248.2v4.0h2v-4.0zM1490 248.2v4.0h2v-4.0zM1493 248.2v4.0h2v-4.0zM1496 248.2v4.0h2v-4.0zM1160 252.7v4.0h2v-4.0zM1171 252.7v4.0h2v-4.0zM1174 252.7v4.0h2v-4.0zM1177 252.7v4.0h2v-4.0zM1182 252.7v4.0h3v-4.0zM1186 252.7v4.0h3v-4.0zM1194 252.7v4.0h2v-4.0zM1207 252.7v4.0h2v-4.0zM1212 252.7v4.0h2v-4.0zM1217 252.7v4.0h2v-4.0zM1220 252.7v4.0h2v-4.0zM1223 252.7v4.0h2v-4.0zM1226 252.7v4.0h3v-4.0zM1232 252.7v4.0h2v-4.0zM1237 252.7v4.0h2v-4.0zM1240 252.7v4.0h3v-4.0zM1248 252.7v4.0h2v-4.0zM1255 252.7v4.0h2v-4.0zM1274 252.7v4.0h2v-4.0zM1277 252.7v4.0h2v-4.0zM1280 252.7v4.0h3v-4.0zM1284 252.7v4.0h2v-4.0zM1287 252.7v4.0h2v-4.0zM1292 252.7v4.0h2v-4.0zM1295 252.7v4.0h2v-4.0zM1298 252.7v4.0h3v-4.0zM1302 252.7v4.0h2v-4.0zM1305 252.7v4.0h2v-4.0zM1308 252.7v4.0h2v-4.0zM1311 252.7v4.0h2v-4.0zM1320 252.7v4.0h2v-4.0zM1331 252.7v4.0h2v-4.0zM1336 252.7v4.0h2v-4.0zM1343 252.7v4.0h2v-4.0zM1346 252.7v4.0h2v-4.0zM1349 252.7v4.0h2v-4.0zM1352 252.7v4.0h2v-4.0zM1355 252.7v4.0h2v-4.0zM1358 252.7v4.0h2v-4.0zM1361 252.7v4.0h2v-4.0zM1364 252.7v4.0h3v-4.0zM1368 252.7v4.0h2v-4.0zM1377 252.7v4.0h2v-4.0zM1380 252.7v4.0h3v-4.0zM1388 252.7v4.0h2v-4.0zM1393 252.7v4.0h2v-4.0zM1396 252.7v4.0h2v-4.0zM1399 252.7v4.0h2v-4.0zM1410 252.7v4.0h3v-4.0zM1414 252.7v4.0h2v-4.0zM1417 252.7v4.0h2v-4.0zM1420 252.7v4.0h2v-4.0zM1425 252.7v4.0h2v-4.0zM1428 252.7v4.0h2v-4.0zM1435 252.7v4.0h3v-4.0zM1439 252.7v4.0h2v-4.0zM1442 252.7v4.0h3v-4.0zM1448 252.7v4.0h3v-4.0zM1454 252.7v4.0h2v-4.0zM1461 252.7v4.0h3v-4.0zM1465 252.7v4.0h3v-4.0zM1473 252.7v4.0h2v-4.0zM1476 252.7v4.0h3v-4.0zM1482 252.7v4.0h2v-4.0zM1485 252.7v4.0h2v-4.0zM1490 252.7v4.0h2v-4.0zM1493 252.7v4.0h2v-4.0zM1160 257.1v4.0h2v-4.0zM1165 257.1v4.0h3v-4.0zM1171 257.1v4.0h2v-4.0zM1196 257.1v4.0h2v-4.0zM1201 257.1v4.0h2v-4.0zM1206 257.1v4.0h2v-4.0zM1211 257.1v4.0h2v-4.0zM1214 257.1v4.0h2v-4.0zM1223 257.1v4.0h2v-4.0zM1226 257.1v4.0h2v-4.0zM1229 257.1v4.0h3v-4.0zM1233 257.1v4.0h2v-4.0zM1238 257.1v4.0h3v-4.0zM1242 257.1v4.0h3v-4.0zM1246 257.1v4.0h3v-4.0zM1250 257.1v4.0h2v-4.0zM1291 257.1v4.0h2v-4.0zM1312 257.1v4.0h2v-4.0zM1315 257.1v4.0h3v-4.0zM1321 257.1v4.0h3v-4.0zM1327 257.1v4.0h2v-4.0zM1358 257.1v4.0h2v-4.0zM1363 257.1v4.0h2v-4.0zM1372 257.1v4.0h3v-4.0zM1376 257.1v4.0h2v-4.0zM1381 257.1v4.0h2v-4.0zM1388 257.1v4.0h2v-4.0zM1403 257.1v4.0h2v-4.0zM1408 257.1v4.0h2v-4.0zM1413 257.1v4.0h2v-4.0zM1418 257.1v4.0h2v-4.0zM1421 257.1v4.0h2v-4.0zM1424 257.1v4.0h2v-4.0zM1431 257.1v4.0h2v-4.0zM1442 257.1v4.0h2v-4.0zM1445 257.1v4.0h3v-4.0zM1453 257.1v4.0h3v-4.0zM1457 257.1v4.0h2v-4.0zM1462 257.1v4.0h2v-4.0zM1465 257.1v4.0h2v-4.0zM1468 257.1v4.0h2v-4.0zM1471 257.1v4.0h3v-4.0zM1477 257.1v4.0h3v-4.0zM1481 257.1v4.0h3v-4.0zM1491 257.1v4.0h2v-4.0zM1162 261.6v4.0h2v-4.0zM1169 261.6v4.0h2v-4.0zM1172 261.6v4.0h3v-4.0zM1176 261.6v4.0h3v-4.0zM1184 261.6v4.0h3v-4.0zM1202 261.6v4.0h2v-4.0zM1205 261.6v4.0h2v-4.0zM1208 261.6v4.0h2v-4.0zM1211 261.6v4.0h2v-4.0zM1214 261.6v4.0h3v-4.0zM1218 261.6v4.0h2v-4.0zM1225 261.6v4.0h3v-4.0zM1241 261.6v4.0h3v-4.0zM1245 261.6v4.0h2v-4.0zM1252 261.6v4.0h2v-4.0zM1259 261.6v4.0h2v-4.0zM1262 261.6v4.0h3v-4.0zM1266 261.6v4.0h2v-4.0zM1277 261.6v4.0h3v-4.0zM1281 261.6v4.0h2v-4.0zM1290 261.6v4.0h3v-4.0zM1336 261.6v4.0h2v-4.0zM1343 261.6v4.0h3v-4.0zM1347 261.6v4.0h2v-4.0zM1354 261.6v4.0h2v-4.0zM1361 261.6v4.0h3v-4.0zM1367 261.6v4.0h3v-4.0zM1377 261.6v4.0h2v-4.0zM1380 261.6v4.0h3v-4.0zM1384 261.6v4.0h2v-4.0zM1391 261.6v4.0h2v-4.0zM1398 261.6v4.0h2v-4.0zM1403 261.6v4.0h2v-4.0zM1410 261.6v4.0h2v-4.0zM1419 261.6v4.0h3v-4.0zM1425 261.6v4.0h2v-4.0zM1428 261.6v4.0h2v-4.0zM1433 261.6v4.0h2v-4.0zM1442 261.6v4.0h3v-4.0zM1446 261.6v4.0h2v-4.0zM1451 261.6v4.0h2v-4.0zM1458 261.6v4.0h3v-4.0zM1462 261.6v4.0h2v-4.0zM1465 261.6v4.0h3v-4.0zM1469 261.6v4.0h2v-4.0zM1484 261.6v4.0h2v-4.0zM1487 261.6v4.0h2v-4.0zM1490 261.6v4.0h2v-4.0zM1493 261.6v4.0h2v-4.0zM1498 261.6v4.0h2v-4.0zM1158 266.1v4.0h2v-4.0zM1161 266.1v4.0h2v-4.0zM1164 266.1v4.0h3v-4.0zM1168 266.1v4.0h2v-4.0zM1179 266.1v4.0h2v-4.0zM1196 266.1v4.0h2v-4.0zM1207 266.1v4.0h2v-4.0zM1216 266.1v4.0h3v-4.0zM1230 266.1v4.0h2v-4.0zM1235 266.1v4.0h2v-4.0zM1238 266.1v4.0h2v-4.0zM1241 266.1v4.0h3v-4.0zM1245 266.1v4.0h2v-4.0zM1248 266.1v4.0h2v-4.0zM1253 266.1v4.0h2v-4.0zM1256 266.1v4.0h3v-4.0zM1260 266.1v4.0h3v-4.0zM1264 266.1v4.0h2v-4.0zM1267 266.1v4.0h2v-4.0zM1270 266.1v4.0h3v-4.0zM1274 266.1v4.0h2v-4.0zM1277 266.1v4.0h2v-4.0zM1280 266.1v4.0h2v-4.0zM1285 266.1v4.0h3v-4.0zM1289 266.1v4.0h2v-4.0zM1292 266.1v4.0h2v-4.0zM1295 266.1v4.0h2v-4.0zM1304 266.1v4.0h2v-4.0zM1307 266.1v4.0h3v-4.0zM1311 266.1v4.0h2v-4.0zM1314 266.1v4.0h2v-4.0zM1317 266.1v4.0h3v-4.0zM1321 266.1v4.0h2v-4.0zM1328 266.1v4.0h3v-4.0zM1332 266.1v4.0h2v-4.0zM1335 266.1v4.0h2v-4.0zM1338 266.1v4.0h3v-4.0zM1344 266.1v4.0h2v-4.0zM1349 266.1v4.0h3v-4.0zM1353 266.1v4.0h2v-4.0zM1356 266.1v4.0h2v-4.0zM1359 266.1v4.0h2v-4.0zM1362 266.1v4.0h2v-4.0zM1365 266.1v4.0h2v-4.0zM1368 266.1v4.0h3v-4.0zM1372 266.1v4.0h3v-4.0zM1376 266.1v4.0h2v-4.0zM1379 266.1v4.0h3v-4.0zM1383 266.1v4.0h3v-4.0zM1387 266.1v4.0h2v-4.0zM1390 266.1v4.0h3v-4.0zM1394 266.1v4.0h3v-4.0zM1398 266.1v4.0h3v-4.0zM1402 266.1v4.0h2v-4.0zM1405 266.1v4.0h3v-4.0zM1409 266.1v4.0h3v-4.0zM1413 266.1v4.0h2v-4.0zM1418 266.1v4.0h2v-4.0zM1421 266.1v4.0h2v-4.0zM1424 266.1v4.0h2v-4.0zM1427 266.1v4.0h2v-4.0zM1430 266.1v4.0h2v-4.0zM1435 266.1v4.0h3v-4.0zM1447 266.1v4.0h2v-4.0zM1454 266.1v4.0h2v-4.0zM1461 266.1v4.0h2v-4.0zM1464 266.1v4.0h2v-4.0zM1467 266.1v4.0h2v-4.0zM1472 266.1v4.0h2v-4.0zM1475 266.1v4.0h2v-4.0zM1482 266.1v4.0h2v-4.0zM1489 266.1v4.0h2v-4.0zM1492 266.1v4.0h2v-4.0zM1495 266.1v4.0h3v-4.0zM1158 270.5v4.0h3v-4.0zM1162 270.5v4.0h3v-4.0zM1166 270.5v4.0h3v-4.0zM1170 270.5v4.0h2v-4.0zM1173 270.5v4.0h3v-4.0zM1179 270.5v4.0h3v-4.0zM1183 270.5v4.0h2v-4.0zM1186 270.5v4.0h2v-4.0zM1193 270.5v4.0h2v-4.0zM1196 270.5v4.0h2v-4.0zM1201 270.5v4.0h2v-4.0zM1206 270.5v4.0h2v-4.0zM1215 270.5v4.0h2v-4.0zM1222 270.5v4.0h2v-4.0zM1225 270.5v4.0h3v-4.0zM1231 270.5v4.0h2v-4.0zM1236 270.5v4.0h2v-4.0zM1239 270.5v4.0h3v-4.0zM1245 270.5v4.0h2v-4.0zM1248 270.5v4.0h3v-4.0zM1252 270.5v4.0h3v-4.0zM1256 270.5v4.0h2v-4.0zM1259 270.5v4.0h2v-4.0zM1262 270.5v4.0h2v-4.0zM1267 270.5v4.0h2v-4.0zM1270 270.5v4.0h2v-4.0zM1275 270.5v4.0h2v-4.0zM1278 270.5v4.0h2v-4.0zM1281 270.5v4.0h2v-4.0zM1284 270.5v4.0h3v-4.0zM1288 270.5v4.0h2v-4.0zM1291 270.5v4.0h2v-4.0zM1294 270.5v4.0h2v-4.0zM1297 270.5v4.0h2v-4.0zM1300 270.5v4.0h2v-4.0zM1305 270.5v4.0h2v-4.0zM1308 270.5v4.0h2v-4.0zM1311 270.5v4.0h3v-4.0zM1315 270.5v4.0h2v-4.0zM1324 270.5v4.0h3v-4.0zM1328 270.5v4.0h3v-4.0zM1332 270.5v4.0h2v-4.0zM1335 270.5v4.0h2v-4.0zM1338 270.5v4.0h2v-4.0zM1341 270.5v4.0h2v-4.0zM1344 270.5v4.0h3v-4.0zM1348 270.5v4.0h2v-4.0zM1351 270.5v4.0h3v-4.0zM1355 270.5v4.0h2v-4.0zM1358 270.5v4.0h2v-4.0zM1361 270.5v4.0h2v-4.0zM1366 270.5v4.0h2v-4.0zM1369 270.5v4.0h2v-4.0zM1382 270.5v4.0h3v-4.0zM1390 270.5v4.0h2v-4.0zM1393 270.5v4.0h2v-4.0zM1396 270.5v4.0h3v-4.0zM1400 270.5v4.0h3v-4.0zM1404 270.5v4.0h3v-4.0zM1408 270.5v4.0h3v-4.0zM1414 270.5v4.0h3v-4.0zM1420 270.5v4.0h3v-4.0zM1426 270.5v4.0h2v-4.0zM1429 270.5v4.0h2v-4.0zM1436 270.5v4.0h2v-4.0zM1443 270.5v4.0h3v-4.0zM1447 270.5v4.0h2v-4.0zM1452 270.5v4.0h2v-4.0zM1455 270.5v4.0h2v-4.0zM1458 270.5v4.0h2v-4.0zM1465 270.5v4.0h2v-4.0zM1470 270.5v4.0h2v-4.0zM1475 270.5v4.0h2v-4.0zM1480 270.5v4.0h2v-4.0zM1485 270.5v4.0h2v-4.0zM1490 270.5v4.0h2v-4.0zM1493 270.5v4.0h2v-4.0zM1498 270.5v4.0h3v-4.0zM1157 275.0v4.0h2v-4.0zM1160 275.0v4.0h2v-4.0zM1167 275.0v4.0h2v-4.0zM1174 275.0v4.0h3v-4.0zM1178 275.0v4.0h2v-4.0zM1181 275.0v4.0h2v-4.0zM1184 275.0v4.0h3v-4.0zM1188 275.0v4.0h2v-4.0zM1199 275.0v4.0h2v-4.0zM1202 275.0v4.0h2v-4.0zM1211 275.0v4.0h2v-4.0zM1214 275.0v4.0h2v-4.0zM1219 275.0v4.0h3v-4.0zM1227 275.0v4.0h2v-4.0zM1230 275.0v4.0h2v-4.0zM1233 275.0v4.0h2v-4.0zM1240 275.0v4.0h3v-4.0zM1244 275.0v4.0h2v-4.0zM1247 275.0v4.0h2v-4.0zM1250 275.0v4.0h2v-4.0zM1255 275.0v4.0h2v-4.0zM1264 275.0v4.0h2v-4.0zM1267 275.0v4.0h2v-4.0zM1272 275.0v4.0h2v-4.0zM1279 275.0v4.0h2v-4.0zM1292 275.0v4.0h2v-4.0zM1295 275.0v4.0h2v-4.0zM1300 275.0v4.0h2v-4.0zM1303 275.0v4.0h2v-4.0zM1306 275.0v4.0h2v-4.0zM1313 275.0v4.0h2v-4.0zM1320 275.0v4.0h3v-4.0zM1324 275.0v4.0h2v-4.0zM1329 275.0v4.0h3v-4.0zM1333 275.0v4.0h2v-4.0zM1336 275.0v4.0h2v-4.0zM1339 275.0v4.0h3v-4.0zM1347 275.0v4.0h3v-4.0zM1351 275.0v4.0h2v-4.0zM1354 275.0v4.0h2v-4.0zM1365 275.0v4.0h2v-4.0zM1368 275.0v4.0h2v-4.0zM1377 275.0v4.0h2v-4.0zM1382 275.0v4.0h2v-4.0zM1385 275.0v4.0h2v-4.0zM1390 275.0v4.0h2v-4.0zM1399 275.0v4.0h2v-4.0zM1402 275.0v4.0h2v-4.0zM1413 275.0v4.0h3v-4.0zM1417 275.0v4.0h2v-4.0zM1420 275.0v4.0h3v-4.0zM1434 275.0v4.0h3v-4.0zM1440 275.0v4.0h2v-4.0zM1443 275.0v4.0h2v-4.0zM1446 275.0v4.0h2v-4.0zM1449 275.0v4.0h2v-4.0zM1452 275.0v4.0h3v-4.0zM1456 275.0v4.0h2v-4.0zM1459 275.0v4.0h3v-4.0zM1463 275.0v4.0h2v-4.0zM1466 275.0v4.0h2v-4.0zM1475 275.0v4.0h2v-4.0zM1480 275.0v4.0h2v-4.0zM1491 275.0v4.0h2v-4.0zM1496 275.0v4.0h2v-4.0zM1157 279.5v4.0h2v-4.0zM1166 279.5v4.0h2v-4.0zM1171 279.5v4.0h2v-4.0zM1174 279.5v4.0h2v-4.0zM1177 279.5v4.0h3v-4.0zM1181 279.5v4.0h2v-4.0zM1184 279.5v4.0h2v-4.0zM1187 279.5v4.0h2v-4.0zM1190 279.5v4.0h2v-4.0zM1193 279.5v4.0h3v-4.0zM1199 279.5v4.0h3v-4.0zM1205 279.5v4.0h2v-4.0zM1208 279.5v4.0h2v-4.0zM1211 279.5v4.0h2v-4.0zM1218 279.5v4.0h2v-4.0zM1221 279.5v4.0h2v-4.0zM1224 279.5v4.0h2v-4.0zM1231 279.5v4.0h3v-4.0zM1257 279.5v4.0h2v-4.0zM1260 279.5v4.0h2v-4.0zM1271 279.5v4.0h3v-4.0zM1281 279.5v4.0h2v-4.0zM1288 279.5v4.0h2v-4.0zM1295 279.5v4.0h2v-4.0zM1298 279.5v4.0h3v-4.0zM1310 279.5v4.0h3v-4.0zM1314 279.5v4.0h2v-4.0zM1317 279.5v4.0h2v-4.0zM1320 279.5v4.0h2v-4.0zM1323 279.5v4.0h2v-4.0zM1328 279.5v4.0h3v-4.0zM1332 279.5v4.0h2v-4.0zM1335 279.5v4.0h2v-4.0zM1338 279.5v4.0h2v-4.0zM1341 279.5v4.0h2v-4.0zM1346 279.5v4.0h2v-4.0zM1349 279.5v4.0h3v-4.0zM1357 279.5v4.0h2v-4.0zM1362 279.5v4.0h2v-4.0zM1367 279.5v4.0h2v-4.0zM1372 279.5v4.0h3v-4.0zM1378 279.5v4.0h2v-4.0zM1381 279.5v4.0h2v-4.0zM1384 279.5v4.0h2v-4.0zM1389 279.5v4.0h2v-4.0zM1392 279.5v4.0h2v-4.0zM1395 279.5v4.0h2v-4.0zM1398 279.5v4.0h3v-4.0zM1402 279.5v4.0h2v-4.0zM1405 279.5v4.0h3v-4.0zM1409 279.5v4.0h2v-4.0zM1424 279.5v4.0h2v-4.0zM1427 279.5v4.0h2v-4.0zM1430 279.5v4.0h2v-4.0zM1433 279.5v4.0h3v-4.0zM1439 279.5v4.0h2v-4.0zM1444 279.5v4.0h2v-4.0zM1447 279.5v4.0h2v-4.0zM1450 279.5v4.0h2v-4.0zM1453 279.5v4.0h2v-4.0zM1458 279.5v4.0h3v-4.0zM1462 279.5v4.0h3v-4.0zM1470 279.5v4.0h3v-4.0zM1474 279.5v4.0h2v-4.0zM1477 279.5v4.0h2v-4.0zM1480 279.5v4.0h3v-4.0zM1484 279.5v4.0h2v-4.0zM1487 279.5v4.0h3v-4.0zM1491 279.5v4.0h2v-4.0zM1494 279.5v4.0h2v-4.0zM1497 279.5v4.0h2v-4.0zM1158 283.9v4.0h3v-4.0zM1166 283.9v4.0h2v-4.0zM1171 283.9v4.0h2v-4.0zM1176 283.9v4.0h2v-4.0zM1183 283.9v4.0h2v-4.0zM1198 283.9v4.0h3v-4.0zM1206 283.9v4.0h3v-4.0zM1214 283.9v4.0h2v-4.0zM1217 283.9v4.0h3v-4.0zM1223 283.9v4.0h3v-4.0zM1229 283.9v4.0h2v-4.0zM1244 283.9v4.0h2v-4.0zM1253 283.9v4.0h3v-4.0zM1259 283.9v4.0h2v-4.0zM1274 283.9v4.0h2v-4.0zM1281 283.9v4.0h2v-4.0zM1286 283.9v4.0h3v-4.0zM1294 283.9v4.0h2v-4.0zM1299 283.9v4.0h2v-4.0zM1306 283.9v4.0h2v-4.0zM1313 283.9v4.0h2v-4.0zM1316 283.9v4.0h2v-4.0zM1327 283.9v4.0h2v-4.0zM1332 283.9v4.0h2v-4.0zM1337 283.9v4.0h2v-4.0zM1340 283.9v4.0h2v-4.0zM1347 283.9v4.0h2v-4.0zM1378 283.9v4.0h2v-4.0zM1381 283.9v4.0h3v-4.0zM1409 283.9v4.0h2v-4.0zM1416 283.9v4.0h2v-4.0zM1441 283.9v4.0h2v-4.0zM1464 283.9v4.0h2v-4.0zM1479 283.9v4.0h3v-4.0zM1487 283.9v4.0h2v-4.0zM1496 283.9v4.0h2v-4.0zM1159 288.4v4.0h2v-4.0zM1162 288.4v4.0h2v-4.0zM1165 288.4v4.0h2v-4.0zM1168 288.4v4.0h3v-4.0zM1178 288.4v4.0h2v-4.0zM1189 288.4v4.0h2v-4.0zM1196 288.4v4.0h3v-4.0zM1202 288.4v4.0h3v-4.0zM1212 288.4v4.0h2v-4.0zM1245 288.4v4.0h3v-4.0zM1255 288.4v4.0h2v-4.0zM1258 288.4v4.0h3v-4.0zM1286 288.4v4.0h2v-4.0zM1289 288.4v4.0h3v-4.0zM1305 288.4v4.0h2v-4.0zM1308 288.4v4.0h2v-4.0zM1315 288.4v4.0h2v-4.0zM1318 288.4v4.0h2v-4.0zM1321 288.4v4.0h2v-4.0zM1324 288.4v4.0h2v-4.0zM1327 288.4v4.0h2v-4.0zM1330 288.4v4.0h3v-4.0zM1334 288.4v4.0h2v-4.0zM1337 288.4v4.0h2v-4.0zM1342 288.4v4.0h2v-4.0zM1345 288.4v4.0h2v-4.0zM1348 288.4v4.0h2v-4.0zM1351 288.4v4.0h2v-4.0zM1356 288.4v4.0h2v-4.0zM1361 288.4v4.0h2v-4.0zM1364 288.4v4.0h3v-4.0zM1368 288.4v4.0h2v-4.0zM1371 288.4v4.0h2v-4.0zM1374 288.4v4.0h2v-4.0zM1377 288.4v4.0h2v-4.0zM1380 288.4v4.0h2v-4.0zM1383 288.4v4.0h2v-4.0zM1390 288.4v4.0h2v-4.0zM1395 288.4v4.0h2v-4.0zM1398 288.4v4.0h2v-4.0zM1401 288.4v4.0h3v-4.0zM1407 288.4v4.0h3v-4.0zM1419 288.4v4.0h3v-4.0zM1425 288.4v4.0h3v-4.0zM1429 288.4v4.0h2v-4.0zM1436 288.4v4.0h3v-4.0zM1448 288.4v4.0h2v-4.0zM1457 288.4v4.0h3v-4.0zM1463 288.4v4.0h2v-4.0zM1466 288.4v4.0h2v-4.0zM1469 288.4v4.0h3v-4.0zM1473 288.4v4.0h2v-4.0zM1476 288.4v4.0h2v-4.0zM1483 288.4v4.0h2v-4.0zM1490 288.4v4.0h2v-4.0zM1493 288.4v4.0h2v-4.0zM1498 288.4v4.0h2v-4.0zM1175 292.9v4.0h2v-4.0zM1182 292.9v4.0h2v-4.0zM1185 292.9v4.0h3v-4.0zM1191 292.9v4.0h3v-4.0zM1215 292.9v4.0h2v-4.0zM1232 292.9v4.0h2v-4.0zM1243 292.9v4.0h3v-4.0zM1247 292.9v4.0h2v-4.0zM1258 292.9v4.0h2v-4.0zM1269 292.9v4.0h3v-4.0zM1277 292.9v4.0h2v-4.0zM1288 292.9v4.0h2v-4.0zM1291 292.9v4.0h2v-4.0zM1300 292.9v4.0h2v-4.0zM1305 292.9v4.0h2v-4.0zM1308 292.9v4.0h3v-4.0zM1328 292.9v4.0h3v-4.0zM1340 292.9v4.0h2v-4.0zM1367 292.9v4.0h2v-4.0zM1374 292.9v4.0h3v-4.0zM1394 292.9v4.0h2v-4.0zM1397 292.9v4.0h2v-4.0zM1400 292.9v4.0h2v-4.0zM1403 292.9v4.0h2v-4.0zM1408 292.9v4.0h2v-4.0zM1411 292.9v4.0h3v-4.0zM1415 292.9v4.0h2v-4.0zM1418 292.9v4.0h2v-4.0zM1425 292.9v4.0h2v-4.0zM1428 292.9v4.0h2v-4.0zM1433 292.9v4.0h2v-4.0zM1436 292.9v4.0h3v-4.0zM1440 292.9v4.0h2v-4.0zM1449 292.9v4.0h2v-4.0zM1456 292.9v4.0h3v-4.0zM1460 292.9v4.0h3v-4.0zM1466 292.9v4.0h2v-4.0zM1475 292.9v4.0h2v-4.0zM1482 292.9v4.0h2v-4.0zM1485 292.9v4.0h3v-4.0zM1489 292.9v4.0h3v-4.0zM1493 292.9v4.0h3v-4.0zM1497 292.9v4.0h3v-4.0zM1157 297.3v4.0h2v-4.0zM1166 297.3v4.0h2v-4.0zM1175 297.3v4.0h2v-4.0zM1186 297.3v4.0h2v-4.0zM1207 297.3v4.0h3v-4.0zM1217 297.3v4.0h2v-4.0zM1228 297.3v4.0h3v-4.0zM1248 297.3v4.0h2v-4.0zM1255 297.3v4.0h3v-4.0zM1269 297.3v4.0h2v-4.0zM1278 297.3v4.0h2v-4.0zM1283 297.3v4.0h3v-4.0zM1287 297.3v4.0h2v-4.0zM1290 297.3v4.0h3v-4.0zM1296 297.3v4.0h3v-4.0zM1306 297.3v4.0h2v-4.0zM1309 297.3v4.0h3v-4.0zM1319 297.3v4.0h3v-4.0zM1323 297.3v4.0h2v-4.0zM1334 297.3v4.0h2v-4.0zM1339 297.3v4.0h3v-4.0zM1351 297.3v4.0h2v-4.0zM1356 297.3v4.0h2v-4.0zM1359 297.3v4.0h2v-4.0zM1362 297.3v4.0h2v-4.0zM1367 297.3v4.0h3v-4.0zM1371 297.3v4.0h3v-4.0zM1377 297.3v4.0h2v-4.0zM1380 297.3v4.0h2v-4.0zM1385 297.3v4.0h2v-4.0zM1426 297.3v4.0h2v-4.0zM1439 297.3v4.0h2v-4.0zM1442 297.3v4.0h3v-4.0zM1454 297.3v4.0h3v-4.0zM1462 297.3v4.0h2v-4.0zM1465 297.3v4.0h2v-4.0zM1472 297.3v4.0h2v-4.0zM1477 297.3v4.0h3v-4.0zM1491 297.3v4.0h3v-4.0zM1495 297.3v4.0h2v-4.0zM1161 301.8v4.0h3v-4.0zM1165 301.8v4.0h2v-4.0zM1168 301.8v4.0h2v-4.0zM1203 301.8v4.0h2v-4.0zM1206 301.8v4.0h2v-4.0zM1209 301.8v4.0h2v-4.0zM1224 301.8v4.0h2v-4.0zM1227 301.8v4.0h2v-4.0zM1232 301.8v4.0h2v-4.0zM1235 301.8v4.0h3v-4.0zM1243 301.8v4.0h2v-4.0zM1248 301.8v4.0h2v-4.0zM1251 301.8v4.0h2v-4.0zM1254 301.8v4.0h2v-4.0zM1259 301.8v4.0h3v-4.0zM1265 301.8v4.0h2v-4.0zM1270 301.8v4.0h2v-4.0zM1273 301.8v4.0h2v-4.0zM1278 301.8v4.0h3v-4.0zM1282 301.8v4.0h2v-4.0zM1285 301.8v4.0h2v-4.0zM1288 301.8v4.0h2v-4.0zM1293 301.8v4.0h2v-4.0zM1302 301.8v4.0h2v-4.0zM1305 301.8v4.0h2v-4.0zM1308 301.8v4.0h2v-4.0zM1317 301.8v4.0h3v-4.0zM1321 301.8v4.0h2v-4.0zM1324 301.8v4.0h2v-4.0zM1327 301.8v4.0h2v-4.0zM1332 301.8v4.0h2v-4.0zM1335 301.8v4.0h2v-4.0zM1342 301.8v4.0h2v-4.0zM1345 301.8v4.0h2v-4.0zM1348 301.8v4.0h2v-4.0zM1351 301.8v4.0h2v-4.0zM1354 301.8v4.0h2v-4.0zM1363 301.8v4.0h2v-4.0zM1366 301.8v4.0h3v-4.0zM1370 301.8v4.0h2v-4.0zM1373 301.8v4.0h2v-4.0zM1376 301.8v4.0h2v-4.0zM1381 301.8v4.0h2v-4.0zM1386 301.8v4.0h2v-4.0zM1397 301.8v4.0h2v-4.0zM1404 301.8v4.0h2v-4.0zM1407 301.8v4.0h2v-4.0zM1414 301.8v4.0h2v-4.0zM1417 301.8v4.0h3v-4.0zM1423 301.8v4.0h3v-4.0zM1431 301.8v4.0h2v-4.0zM1436 301.8v4.0h2v-4.0zM1445 301.8v4.0h2v-4.0zM1450 301.8v4.0h2v-4.0zM1481 301.8v4.0h2v-4.0zM1486 301.8v4.0h3v-4.0zM1490 301.8v4.0h2v-4.0zM1493 301.8v4.0h2v-4.0zM1496 301.8v4.0h2v-4.0zM1162 306.3v4.0h2v-4.0zM1173 306.3v4.0h2v-4.0zM1226 306.3v4.0h2v-4.0zM1235 306.3v4.0h2v-4.0zM1240 306.3v4.0h3v-4.0zM1244 306.3v4.0h2v-4.0zM1261 306.3v4.0h2v-4.0zM1264 306.3v4.0h3v-4.0zM1270 306.3v4.0h3v-4.0zM1278 306.3v4.0h2v-4.0zM1283 306.3v4.0h2v-4.0zM1298 306.3v4.0h2v-4.0zM1303 306.3v4.0h2v-4.0zM1306 306.3v4.0h2v-4.0zM1311 306.3v4.0h3v-4.0zM1317 306.3v4.0h2v-4.0zM1326 306.3v4.0h2v-4.0zM1329 306.3v4.0h3v-4.0zM1349 306.3v4.0h2v-4.0zM1366 306.3v4.0h2v-4.0zM1369 306.3v4.0h2v-4.0zM1402 306.3v4.0h2v-4.0zM1419 306.3v4.0h2v-4.0zM1428 306.3v4.0h2v-4.0zM1443 306.3v4.0h3v-4.0zM1449 306.3v4.0h3v-4.0zM1453 306.3v4.0h2v-4.0zM1456 306.3v4.0h2v-4.0zM1461 306.3v4.0h3v-4.0zM1467 306.3v4.0h2v-4.0zM1470 306.3v4.0h2v-4.0zM1473 306.3v4.0h2v-4.0zM1478 306.3v4.0h2v-4.0zM1481 306.3v4.0h2v-4.0zM1494 306.3v4.0h3v-4.0zM1498 306.3v4.0h2v-4.0zM1164 310.7v4.0h2v-4.0zM1167 310.7v4.0h2v-4.0zM1170 310.7v4.0h2v-4.0zM1177 310.7v4.0h2v-4.0zM1194 310.7v4.0h3v-4.0zM1208 310.7v4.0h2v-4.0zM1215 310.7v4.0h2v-4.0zM1226 310.7v4.0h2v-4.0zM1237 310.7v4.0h2v-4.0zM1244 310.7v4.0h2v-4.0zM1251 310.7v4.0h2v-4.0zM1258 310.7v4.0h2v-4.0zM1261 310.7v4.0h2v-4.0zM1266 310.7v4.0h2v-4.0zM1269 310.7v4.0h2v-4.0zM1274 310.7v4.0h2v-4.0zM1279 310.7v4.0h2v-4.0zM1282 310.7v4.0h3v-4.0zM1290 310.7v4.0h2v-4.0zM1313 310.7v4.0h3v-4.0zM1335 310.7v4.0h2v-4.0zM1340 310.7v4.0h2v-4.0zM1345 310.7v4.0h2v-4.0zM1348 310.7v4.0h2v-4.0zM1351 310.7v4.0h2v-4.0zM1354 310.7v4.0h3v-4.0zM1362 310.7v4.0h2v-4.0zM1365 310.7v4.0h2v-4.0zM1368 310.7v4.0h2v-4.0zM1371 310.7v4.0h2v-4.0zM1374 310.7v4.0h3v-4.0zM1378 310.7v4.0h2v-4.0zM1391 310.7v4.0h3v-4.0zM1399 310.7v4.0h2v-4.0zM1410 310.7v4.0h2v-4.0zM1435 310.7v4.0h2v-4.0zM1448 310.7v4.0h2v-4.0zM1471 310.7v4.0h3v-4.0zM1475 310.7v4.0h3v-4.0zM1479 310.7v4.0h2v-4.0zM1173 315.2v4.0h3v-4.0zM1177 315.2v4.0h2v-4.0zM1182 315.2v4.0h2v-4.0zM1185 315.2v4.0h2v-4.0zM1190 315.2v4.0h2v-4.0zM1197 315.2v4.0h2v-4.0zM1200 315.2v4.0h2v-4.0zM1203 315.2v4.0h2v-4.0zM1206 315.2v4.0h2v-4.0zM1211 315.2v4.0h3v-4.0zM1219 315.2v4.0h2v-4.0zM1222 315.2v4.0h2v-4.0zM1229 315.2v4.0h2v-4.0zM1232 315.2v4.0h2v-4.0zM1235 315.2v4.0h2v-4.0zM1238 315.2v4.0h2v-4.0zM1243 315.2v4.0h2v-4.0zM1250 315.2v4.0h2v-4.0zM1253 315.2v4.0h3v-4.0zM1259 315.2v4.0h2v-4.0zM1262 315.2v4.0h2v-4.0zM1267 315.2v4.0h3v-4.0zM1273 315.2v4.0h2v-4.0zM1276 315.2v4.0h2v-4.0zM1279 315.2v4.0h2v-4.0zM1300 315.2v4.0h2v-4.0zM1303 315.2v4.0h2v-4.0zM1306 315.2v4.0h2v-4.0zM1309 315.2v4.0h2v-4.0zM1316 315.2v4.0h3v-4.0zM1320 315.2v4.0h2v-4.0zM1323 315.2v4.0h2v-4.0zM1326 315.2v4.0h2v-4.0zM1329 315.2v4.0h2v-4.0zM1332 315.2v4.0h2v-4.0zM1335 315.2v4.0h2v-4.0zM1338 315.2v4.0h2v-4.0zM1349 315.2v4.0h2v-4.0zM1352 315.2v4.0h2v-4.0zM1367 315.2v4.0h2v-4.0zM1370 315.2v4.0h3v-4.0zM1376 315.2v4.0h3v-4.0zM1380 315.2v4.0h2v-4.0zM1383 315.2v4.0h3v-4.0zM1387 315.2v4.0h2v-4.0zM1394 315.2v4.0h2v-4.0zM1397 315.2v4.0h2v-4.0zM1400 315.2v4.0h2v-4.0zM1405 315.2v4.0h3v-4.0zM1409 315.2v4.0h2v-4.0zM1412 315.2v4.0h2v-4.0zM1419 315.2v4.0h2v-4.0zM1422 315.2v4.0h2v-4.0zM1431 315.2v4.0h2v-4.0zM1436 315.2v4.0h2v-4.0zM1439 315.2v4.0h2v-4.0zM1442 315.2v4.0h2v-4.0zM1453 315.2v4.0h2v-4.0zM1460 315.2v4.0h2v-4.0zM1467 315.2v4.0h2v-4.0zM1472 315.2v4.0h2v-4.0zM1477 315.2v4.0h3v-4.0zM1485 315.2v4.0h2v-4.0zM1492 315.2v4.0h3v-4.0zM1160 319.7v4.0h2v-4.0zM1163 319.7v4.0h2v-4.0zM1174 319.7v4.0h2v-4.0zM1177 319.7v4.0h2v-4.0zM1180 319.7v4.0h3v-4.0zM1186 319.7v4.0h2v-4.0zM1191 319.7v4.0h2v-4.0zM1194 319.7v4.0h2v-4.0zM1201 319.7v4.0h2v-4.0zM1206 319.7v4.0h2v-4.0zM1211 319.7v4.0h3v-4.0zM1215 319.7v4.0h2v-4.0zM1218 319.7v4.0h2v-4.0zM1223 319.7v4.0h2v-4.0zM1238 319.7v4.0h3v-4.0zM1242 319.7v4.0h2v-4.0zM1247 319.7v4.0h2v-4.0zM1250 319.7v4.0h2v-4.0zM1253 319.7v4.0h3v-4.0zM1257 319.7v4.0h2v-4.0zM1272 319.7v4.0h2v-4.0zM1285 319.7v4.0h2v-4.0zM1288 319.7v4.0h2v-4.0zM1295 319.7v4.0h2v-4.0zM1302 319.7v4.0h2v-4.0zM1305 319.7v4.0h2v-4.0zM1324 319.7v4.0h2v-4.0zM1337 319.7v4.0h3v-4.0zM1353 319.7v4.0h3v-4.0zM1359 319.7v4.0h3v-4.0zM1373 319.7v4.0h3v-4.0zM1385 319.7v4.0h2v-4.0zM1388 319.7v4.0h2v-4.0zM1391 319.7v4.0h2v-4.0zM1406 319.7v4.0h3v-4.0zM1412 319.7v4.0h3v-4.0zM1420 319.7v4.0h2v-4.0zM1441 319.7v4.0h2v-4.0zM1462 319.7v4.0h2v-4.0zM1475 319.7v4.0h2v-4.0zM1478 319.7v4.0h2v-4.0zM1483 319.7v4.0h2v-4.0zM1486 319.7v4.0h3v-4.0zM1490 319.7v4.0h2v-4.0zM1495 319.7v4.0h2v-4.0zM1498 319.7v4.0h2v-4.0zM1157 324.1v4.0h3v-4.0zM1163 324.1v4.0h2v-4.0zM1172 324.1v4.0h3v-4.0zM1176 324.1v4.0h2v-4.0zM1179 324.1v4.0h3v-4.0zM1193 324.1v4.0h3v-4.0zM1197 324.1v4.0h2v-4.0zM1200 324.1v4.0h2v-4.0zM1203 324.1v4.0h2v-4.0zM1210 324.1v4.0h2v-4.0zM1229 324.1v4.0h2v-4.0zM1232 324.1v4.0h3v-4.0zM1248 324.1v4.0h2v-4.0zM1257 324.1v4.0h2v-4.0zM1264 324.1v4.0h2v-4.0zM1267 324.1v4.0h3v-4.0zM1271 324.1v4.0h3v-4.0zM1275 324.1v4.0h3v-4.0zM1281 324.1v4.0h2v-4.0zM1288 324.1v4.0h2v-4.0zM1291 324.1v4.0h3v-4.0zM1297 324.1v4.0h2v-4.0zM1300 324.1v4.0h2v-4.0zM1309 324.1v4.0h2v-4.0zM1312 324.1v4.0h2v-4.0zM1315 324.1v4.0h3v-4.0zM1319 324.1v4.0h2v-4.0zM1322 324.1v4.0h2v-4.0zM1325 324.1v4.0h2v-4.0zM1328 324.1v4.0h3v-4.0zM1334 324.1v4.0h2v-4.0zM1337 324.1v4.0h2v-4.0zM1340 324.1v4.0h2v-4.0zM1343 324.1v4.0h2v-4.0zM1348 324.1v4.0h2v-4.0zM1353 324.1v4.0h2v-4.0zM1356 324.1v4.0h2v-4.0zM1361 324.1v4.0h2v-4.0zM1364 324.1v4.0h3v-4.0zM1368 324.1v4.0h2v-4.0zM1375 324.1v4.0h2v-4.0zM1382 324.1v4.0h3v-4.0zM1386 324.1v4.0h2v-4.0zM1389 324.1v4.0h2v-4.0zM1392 324.1v4.0h3v-4.0zM1396 324.1v4.0h2v-4.0zM1399 324.1v4.0h2v-4.0zM1402 324.1v4.0h3v-4.0zM1406 324.1v4.0h3v-4.0zM1410 324.1v4.0h2v-4.0zM1415 324.1v4.0h2v-4.0zM1424 324.1v4.0h3v-4.0zM1428 324.1v4.0h2v-4.0zM1431 324.1v4.0h2v-4.0zM1434 324.1v4.0h2v-4.0zM1437 324.1v4.0h2v-4.0zM1442 324.1v4.0h3v-4.0zM1452 324.1v4.0h3v-4.0zM1456 324.1v4.0h2v-4.0zM1459 324.1v4.0h2v-4.0zM1462 324.1v4.0h2v-4.0zM1465 324.1v4.0h2v-4.0zM1468 324.1v4.0h2v-4.0zM1471 324.1v4.0h3v-4.0zM1475 324.1v4.0h2v-4.0zM1478 324.1v4.0h2v-4.0zM1485 324.1v4.0h3v-4.0zM1489 324.1v4.0h3v-4.0zM1493 324.1v4.0h3v-4.0zM1497 324.1v4.0h2v-4.0zM1159 328.6v4.0h2v-4.0zM1168 328.6v4.0h3v-4.0zM1174 328.6v4.0h2v-4.0zM1177 328.6v4.0h3v-4.0zM1181 328.6v4.0h2v-4.0zM1192 328.6v4.0h2v-4.0zM1197 328.6v4.0h2v-4.0zM1204 328.6v4.0h2v-4.0zM1207 328.6v4.0h2v-4.0zM1214 328.6v4.0h2v-4.0zM1221 328.6v4.0h2v-4.0zM1226 328.6v4.0h2v-4.0zM1229 328.6v4.0h2v-4.0zM1234 328.6v4.0h3v-4.0zM1246 328.6v4.0h2v-4.0zM1249 328.6v4.0h3v-4.0zM1253 328.6v4.0h2v-4.0zM1260 328.6v4.0h3v-4.0zM1264 328.6v4.0h3v-4.0zM1268 328.6v4.0h2v-4.0zM1271 328.6v4.0h2v-4.0zM1274 328.6v4.0h2v-4.0zM1279 328.6v4.0h2v-4.0zM1286 328.6v4.0h2v-4.0zM1291 328.6v4.0h2v-4.0zM1294 328.6v4.0h3v-4.0zM1300 328.6v4.0h2v-4.0zM1305 328.6v4.0h2v-4.0zM1310 328.6v4.0h2v-4.0zM1317 328.6v4.0h2v-4.0zM1322 328.6v4.0h2v-4.0zM1327 328.6v4.0h2v-4.0zM1340 328.6v4.0h2v-4.0zM1345 328.6v4.0h2v-4.0zM1348 328.6v4.0h3v-4.0zM1358 328.6v4.0h3v-4.0zM1368 328.6v4.0h2v-4.0zM1373 328.6v4.0h2v-4.0zM1378 328.6v4.0h2v-4.0zM1385 328.6v4.0h2v-4.0zM1388 328.6v4.0h2v-4.0zM1391 328.6v4.0h2v-4.0zM1396 328.6v4.0h3v-4.0zM1404 328.6v4.0h2v-4.0zM1413 328.6v4.0h2v-4.0zM1416 328.6v4.0h3v-4.0zM1420 328.6v4.0h2v-4.0zM1425 328.6v4.0h2v-4.0zM1436 328.6v4.0h2v-4.0zM1439 328.6v4.0h2v-4.0zM1448 328.6v4.0h2v-4.0zM1455 328.6v4.0h2v-4.0zM1462 328.6v4.0h2v-4.0zM1481 328.6v4.0h2v-4.0zM1486 328.6v4.0h2v-4.0zM1159 333.1v4.0h2v-4.0zM1162 333.1v4.0h2v-4.0zM1167 333.1v4.0h2v-4.0zM1170 333.1v4.0h2v-4.0zM1175 333.1v4.0h2v-4.0zM1200 333.1v4.0h3v-4.0zM1212 333.1v4.0h2v-4.0zM1215 333.1v4.0h2v-4.0zM1218 333.1v4.0h3v-4.0zM1226 333.1v4.0h3v-4.0zM1236 333.1v4.0h2v-4.0zM1241 333.1v4.0h2v-4.0zM1250 333.1v4.0h2v-4.0zM1255 333.1v4.0h2v-4.0zM1260 333.1v4.0h2v-4.0zM1263 333.1v4.0h3v-4.0zM1271 333.1v4.0h3v-4.0zM1277 333.1v4.0h3v-4.0zM1281 333.1v4.0h2v-4.0zM1284 333.1v4.0h2v-4.0zM1291 333.1v4.0h2v-4.0zM1294 333.1v4.0h2v-4.0zM1297 333.1v4.0h3v-4.0zM1305 333.1v4.0h2v-4.0zM1320 333.1v4.0h3v-4.0zM1324 333.1v4.0h3v-4.0zM1328 333.1v4.0h2v-4.0zM1335 333.1v4.0h2v-4.0zM1342 333.1v4.0h2v-4.0zM1347 333.1v4.0h3v-4.0zM1351 333.1v4.0h2v-4.0zM1354 333.1v4.0h2v-4.0zM1357 333.1v4.0h2v-4.0zM1374 333.1v4.0h2v-4.0zM1377 333.1v4.0h3v-4.0zM1383 333.1v4.0h2v-4.0zM1386 333.1v4.0h2v-4.0zM1389 333.1v4.0h3v-4.0zM1393 333.1v4.0h2v-4.0zM1396 333.1v4.0h2v-4.0zM1399 333.1v4.0h3v-4.0zM1403 333.1v4.0h2v-4.0zM1406 333.1v4.0h2v-4.0zM1415 333.1v4.0h2v-4.0zM1422 333.1v4.0h2v-4.0zM1427 333.1v4.0h2v-4.0zM1432 333.1v4.0h2v-4.0zM1437 333.1v4.0h3v-4.0zM1443 333.1v4.0h2v-4.0zM1448 333.1v4.0h2v-4.0zM1453 333.1v4.0h2v-4.0zM1458 333.1v4.0h3v-4.0zM1466 333.1v4.0h2v-4.0zM1469 333.1v4.0h2v-4.0zM1474 333.1v4.0h2v-4.0zM1477 333.1v4.0h3v-4.0zM1158 337.5v4.0h2v-4.0zM1161 337.5v4.0h2v-4.0zM1166 337.5v4.0h3v-4.0zM1172 337.5v4.0h2v-4.0zM1183 337.5v4.0h2v-4.0zM1188 337.5v4.0h2v-4.0zM1191 337.5v4.0h3v-4.0zM1195 337.5v4.0h2v-4.0zM1214 337.5v4.0h3v-4.0zM1218 337.5v4.0h2v-4.0zM1223 337.5v4.0h2v-4.0zM1228 337.5v4.0h3v-4.0zM1232 337.5v4.0h2v-4.0zM1235 337.5v4.0h2v-4.0zM1238 337.5v4.0h2v-4.0zM1241 337.5v4.0h2v-4.0zM1244 337.5v4.0h3v-4.0zM1248 337.5v4.0h2v-4.0zM1251 337.5v4.0h2v-4.0zM1254 337.5v4.0h2v-4.0zM1257 337.5v4.0h2v-4.0zM1262 337.5v4.0h3v-4.0zM1266 337.5v4.0h3v-4.0zM1270 337.5v4.0h2v-4.0zM1273 337.5v4.0h2v-4.0zM1286 337.5v4.0h2v-4.0zM1289 337.5v4.0h3v-4.0zM1293 337.5v4.0h2v-4.0zM1300 337.5v4.0h2v-4.0zM1305 337.5v4.0h3v-4.0zM1321 337.5v4.0h3v-4.0zM1329 337.5v4.0h3v-4.0zM1335 337.5v4.0h2v-4.0zM1342 337.5v4.0h2v-4.0zM1345 337.5v4.0h3v-4.0zM1351 337.5v4.0h2v-4.0zM1354 337.5v4.0h3v-4.0zM1360 337.5v4.0h2v-4.0zM1365 337.5v4.0h2v-4.0zM1376 337.5v4.0h2v-4.0zM1379 337.5v4.0h3v-4.0zM1387 337.5v4.0h2v-4.0zM1392 337.5v4.0h2v-4.0zM1403 337.5v4.0h2v-4.0zM1406 337.5v4.0h2v-4.0zM1411 337.5v4.0h2v-4.0zM1418 337.5v4.0h2v-4.0zM1423 337.5v4.0h3v-4.0zM1433 337.5v4.0h2v-4.0zM1444 337.5v4.0h2v-4.0zM1459 337.5v4.0h2v-4.0zM1486 337.5v4.0h2v-4.0zM1495 337.5v4.0h2v-4.0z" fill="#2a2a9c"/>
<line x1="1152.6" y1="154.0" x2="1152.6" y2="342.3" stroke="#7d7d7d" stroke-width="1.6"/>
<text x="1151.8" y="172.8" font-size="27.5" text-anchor="end" fill="#000">200</text>
<text x="1150.3" y="337.7" font-size="27.5" text-anchor="end" fill="#000">1</text>
<text x="1144.0" y="265.0" font-size="27.5" text-anchor="middle" fill="#000" transform="rotate(-90 1144.0 265.0)">Trial</text>
<path d="M1149 360.7H1157.3V529.9H1499.8V358M1149 360.7H1157.3M1149 426.5H1157.3M1149 496H1157.3M1192.5 529.9V536M1330.5 529.9V536M1469.1 529.9V536M1499.8 370H1510.5M1499.8 432.6H1510.5M1499.8 496H1510.5" fill="none" stroke="#000" stroke-width="1.6"/>
<text x="1142.3" y="372.9" font-size="27.3" text-anchor="end" fill="#000">8</text>
<text x="1142.3" y="438.7" font-size="27.3" text-anchor="end" fill="#000">6</text>
<text x="1142.3" y="508.2" font-size="27.3" text-anchor="end" fill="#000">4</text>
<text x="1189.0" y="565.3" font-size="27" text-anchor="middle" fill="#000">-2</text>
<text x="1330.5" y="565.3" font-size="27" text-anchor="middle" fill="#000">0</text>
<text x="1469.1" y="565.3" font-size="27" text-anchor="middle" fill="#000">2</text>
<text x="1517.5" y="379.8" font-size="26.8" fill="#000">30</text>
<text x="1517.5" y="442.4" font-size="26.8" fill="#000">20</text>
<text x="1517.5" y="505.8" font-size="26.8" fill="#000">10</text>
<text x="1328.0" y="603.9" font-size="30.2" text-anchor="middle" fill="#000">Time From Ipsi Movement (s)</text>
<text x="1110.7" y="451.6" font-size="31" text-anchor="middle" fill="#000" transform="rotate(-90 1110.7 451.6)">FR (Hz)</text>
<text x="1562.0" y="289.0" font-size="30" fill="#000" transform="rotate(90 1562.0 289.0)">Forward velocity (mm/s</text>
<text x="1164.0" y="507.4" font-size="22" fill="#2b41a0" textLength="117.5" lengthAdjust="spacingAndGlyphs">Neural Activity</text>
<text x="1164.0" y="526.6" font-size="22" fill="#000" textLength="138.0" lengthAdjust="spacingAndGlyphs">Forward Velocity</text>
<path d="M1159.4 390.0 L1161.1 389.3 L1162.8 388.6 L1164.5 387.9 L1166.1 387.2 L1167.8 386.5 L1169.5 385.9 L1171.2 385.2 L1172.8 384.6 L1174.5 384.0 L1176.2 383.4 L1177.9 382.9 L1179.5 382.5 L1181.2 382.0 L1182.9 381.7 L1184.6 381.4 L1186.3 381.2 L1187.9 381.1 L1189.6 381.1 L1191.3 381.2 L1193.0 381.5 L1194.6 382.0 L1196.3 382.7 L1198.0 383.5 L1199.7 384.5 L1201.3 385.7 L1203.0 386.9 L1204.7 388.2 L1206.4 389.5 L1208.1 390.9 L1209.7 392.3 L1211.4 393.7 L1213.1 395.2 L1214.8 396.8 L1216.4 398.4 L1218.1 400.1 L1219.8 401.9 L1221.5 403.8 L1223.1 405.6 L1224.8 407.5 L1226.5 409.4 L1228.2 411.3 L1229.9 413.1 L1231.5 414.9 L1233.2 416.5 L1234.9 418.1 L1236.6 419.6 L1238.2 420.9 L1239.9 422.2 L1241.6 423.5 L1243.3 424.6 L1244.9 425.8 L1246.6 426.8 L1248.3 427.8 L1250.0 428.7 L1251.6 429.5 L1253.3 430.1 L1255.0 430.6 L1256.7 430.9 L1258.4 431.0 L1260.0 430.9 L1261.7 430.7 L1263.4 430.3 L1265.1 429.7 L1266.7 429.1 L1268.4 428.4 L1270.1 427.5 L1271.8 426.6 L1273.4 425.7 L1275.1 424.6 L1276.8 423.4 L1278.5 422.0 L1280.2 420.4 L1281.8 418.5 L1283.5 416.4 L1285.2 414.2 L1286.9 411.8 L1288.5 409.2 L1290.2 406.5 L1291.9 403.7 L1293.6 400.9 L1295.2 397.9 L1296.9 395.0 L1298.6 392.0 L1300.3 389.0 L1302.0 386.0 L1303.6 383.0 L1305.3 380.2 L1307.0 377.4 L1308.7 374.7 L1310.3 372.1 L1312.0 369.8 L1313.7 367.6 L1315.4 365.7 L1317.0 363.9 L1318.7 362.3 L1320.4 360.9 L1322.1 359.6 L1323.8 358.6 L1325.4 357.7 L1327.1 357.0 L1328.8 356.5 L1330.5 356.1 L1332.1 356.0 L1333.8 356.1 L1335.5 356.3 L1337.2 356.9 L1338.8 357.6 L1340.5 358.6 L1342.2 359.8 L1343.9 361.1 L1345.6 362.5 L1347.2 363.9 L1348.9 365.4 L1350.6 366.8 L1352.3 368.3 L1353.9 369.8 L1355.6 371.2 L1357.3 372.7 L1359.0 374.2 L1360.6 375.7 L1362.3 377.0 L1364.0 378.1 L1365.7 379.0 L1367.4 379.6 L1369.0 380.0 L1370.7 380.2 L1372.4 380.2 L1374.1 380.0 L1375.7 379.7 L1377.4 379.2 L1379.1 378.5 L1380.8 377.7 L1382.4 376.6 L1384.1 375.4 L1385.8 374.1 L1387.5 372.6 L1389.1 371.1 L1390.8 369.6 L1392.5 368.0 L1394.2 366.6 L1395.9 365.2 L1397.5 363.8 L1399.2 362.6 L1400.9 361.5 L1402.6 360.6 L1404.2 359.8 L1405.9 359.2 L1407.6 358.7 L1409.3 358.4 L1410.9 358.2 L1412.6 358.0 L1414.3 358.0 L1416.0 358.0 L1417.7 358.1 L1419.3 358.2 L1421.0 358.4 L1422.7 358.7 L1424.4 358.9 L1426.0 359.2 L1427.7 359.6 L1429.4 359.9 L1431.1 360.2 L1432.7 360.6 L1434.4 360.9 L1436.1 361.3 L1437.8 361.6 L1439.5 361.9 L1441.1 362.2 L1442.8 362.5 L1444.5 362.8 L1446.2 363.1 L1447.8 363.3 L1449.5 363.6 L1451.2 363.8 L1452.9 364.1 L1454.5 364.3 L1456.2 364.5 L1457.9 364.7 L1459.6 364.9 L1461.3 365.0 L1462.9 365.1 L1464.6 365.2 L1466.3 365.2 L1468.0 365.1 L1469.6 365.0 L1471.3 364.9 L1473.0 364.6 L1474.7 364.4 L1476.3 364.1 L1478.0 363.7 L1479.7 363.3 L1481.4 362.9 L1483.1 362.5 L1484.7 362.0 L1486.4 361.5 L1488.1 360.9 L1489.8 360.4 L1491.4 359.9 L1493.1 359.3" fill="none" stroke="#111" stroke-width="1.5"/>
<path d="M1161.3 365.2 L1163.0 365.5 L1164.6 365.9 L1166.3 366.2 L1168.0 366.6 L1169.7 367.0 L1171.4 367.4 L1173.0 367.8 L1174.7 368.2 L1176.4 368.7 L1178.1 369.2 L1179.7 369.7 L1181.4 370.3 L1183.1 371.0 L1184.8 371.8 L1186.5 372.6 L1188.1 373.5 L1189.8 374.5 L1191.5 375.5 L1193.2 376.7 L1194.9 377.9 L1196.5 379.2 L1198.2 380.5 L1199.9 381.9 L1201.6 383.4 L1203.2 384.9 L1204.9 386.4 L1206.6 388.0 L1208.3 389.5 L1210.0 391.1 L1211.6 392.6 L1213.3 394.0 L1215.0 395.4 L1216.7 396.7 L1218.3 398.0 L1220.0 399.2 L1221.7 400.3 L1223.4 401.4 L1225.1 402.4 L1226.7 403.4 L1228.4 404.3 L1230.1 405.1 L1231.8 405.8 L1233.5 406.4 L1235.1 406.9 L1236.8 407.4 L1238.5 407.7 L1240.2 407.8 L1241.8 407.9 L1243.5 407.8 L1245.2 407.7 L1246.9 407.4 L1248.6 407.0 L1250.2 406.5 L1251.9 405.9 L1253.6 405.3 L1255.3 404.6 L1256.9 403.8 L1258.6 402.9 L1260.3 402.0 L1262.0 401.0 L1263.7 399.9 L1265.3 398.8 L1267.0 397.6 L1268.7 396.4 L1270.4 395.2 L1272.0 393.9 L1273.7 392.5 L1275.4 391.1 L1277.1 389.7 L1278.8 388.3 L1280.4 386.8 L1282.1 385.3 L1283.8 383.8 L1285.5 382.3 L1287.2 380.8 L1288.8 379.3 L1290.5 377.7 L1292.2 376.2 L1293.9 374.7 L1295.5 373.3 L1297.2 371.8 L1298.9 370.4 L1300.6 369.0 L1302.3 367.7 L1303.9 366.5 L1305.6 365.3 L1307.3 364.2 L1309.0 363.1 L1310.6 362.3 L1312.3 361.5 L1314.0 361.0 L1315.7 360.7 L1317.4 360.6 L1319.0 360.8 L1320.7 361.2 L1322.4 361.9 L1324.1 362.7 L1325.8 363.7 L1327.4 364.8 L1329.1 366.1 L1330.8 367.6 L1332.5 369.2 L1334.1 371.0 L1335.8 373.0 L1337.5 375.1 L1339.2 377.3 L1340.9 379.6 L1342.5 381.9 L1344.2 384.2 L1345.9 386.5 L1347.6 388.7 L1349.2 390.8 L1350.9 392.8 L1352.6 394.7 L1354.3 396.4 L1356.0 398.0 L1357.6 399.2 L1359.3 400.3 L1361.0 401.1 L1362.7 401.6 L1364.3 401.9 L1366.0 402.0 L1367.7 401.8 L1369.4 401.5 L1371.1 401.0 L1372.7 400.3 L1374.4 399.5 L1376.1 398.6 L1377.8 397.6 L1379.5 396.5 L1381.1 395.4 L1382.8 394.1 L1384.5 392.9 L1386.2 391.6 L1387.8 390.2 L1389.5 388.9 L1391.2 387.5 L1392.9 386.1 L1394.6 384.8 L1396.2 383.4 L1397.9 382.1 L1399.6 380.8 L1401.3 379.6 L1402.9 378.4 L1404.6 377.3 L1406.3 376.2 L1408.0 375.2 L1409.7 374.3 L1411.3 373.5 L1413.0 372.7 L1414.7 372.0 L1416.4 371.5 L1418.0 371.0 L1419.7 370.6 L1421.4 370.2 L1423.1 369.9 L1424.8 369.7 L1426.4 369.5 L1428.1 369.3 L1429.8 369.1 L1431.5 369.0 L1433.2 369.0 L1434.8 368.9 L1436.5 368.9 L1438.2 368.9 L1439.9 369.0 L1441.5 369.1 L1443.2 369.2 L1444.9 369.4 L1446.6 369.7 L1448.3 370.1 L1449.9 370.5 L1451.6 371.1 L1453.3 371.7 L1455.0 372.3 L1456.6 373.0 L1458.3 373.6 L1460.0 374.3 L1461.7 375.0 L1463.4 375.6 L1465.0 376.3 L1466.7 376.9 L1468.4 377.5 L1470.1 378.0 L1471.8 378.5 L1473.4 379.0 L1475.1 379.5 L1476.8 379.9 L1478.5 380.3 L1480.1 380.6 L1481.8 381.0 L1483.5 381.2 L1485.2 381.4 L1486.9 381.6 L1488.5 381.8 L1490.2 381.9 L1491.9 381.9 L1493.6 381.9 L1495.2 382.0" fill="none" stroke="#2b41a0" stroke-width="1.5"/>
<path d="M1654.1 203.7H1666.9V528.8H1884.2M1654.1 311.9H1666.9M1654.1 420.4H1666.9M1654.1 528.8H1666.9M1666.9 528.8V542.8M1739.2 528.8V542.8M1811.5 528.8V542.8M1884.2 528.8V542.8" fill="none" stroke="#000" stroke-width="1.7"/>
<text x="1651.5" y="213.5" font-size="27.5" text-anchor="end" fill="#000">10</text>
<text x="1651.5" y="321.7" font-size="27.5" text-anchor="end" fill="#000">8</text>
<text x="1651.5" y="430.2" font-size="27.5" text-anchor="end" fill="#000">6</text>
<text x="1651.5" y="538.6" font-size="27.5" text-anchor="end" fill="#000">4</text>
<text x="1666.9" y="568.2" font-size="27.5" text-anchor="middle" fill="#000">4</text>
<text x="1739.2" y="568.2" font-size="27.5" text-anchor="middle" fill="#000">6</text>
<text x="1811.5" y="568.2" font-size="27.5" text-anchor="middle" fill="#000">8</text>
<text x="1884.2" y="568.2" font-size="27.5" text-anchor="middle" fill="#000">10</text>
<text x="1789.5" y="603.6" font-size="30.3" text-anchor="middle" fill="#000">Forward velocity (mm/s)</text>
<text x="1626.0" y="377.0" font-size="30.3" text-anchor="middle" fill="#000" transform="rotate(-90 1626.0 377.0)">FR (Hz)</text>
<text x="1684" y="228.3" font-size="28.4">R<tspan dy="-10" font-size="18">2</tspan><tspan dy="10"> = 0.95</tspan></text>
<line x1="1696.9" y1="506.2" x2="1808.6" y2="290.7" stroke="#000" stroke-width="2.3"/>
<circle cx="1798.4" cy="279.8" r="5"/>
<circle cx="1808.6" cy="296.6" r="5"/>
<circle cx="1770.3" cy="359.7" r="5"/>
<circle cx="1758.2" cy="385.3" r="5"/>
<circle cx="1764" cy="391.1" r="5"/>
<circle cx="1759.7" cy="411.2" r="5"/>
<circle cx="1746.5" cy="418.2" r="5"/>
<circle cx="1720.2" cy="456.5" r="5"/>
<circle cx="1718.8" cy="465.3" r="5"/>
<circle cx="1697.2" cy="494.1" r="5"/>
<path d="M104.4 992.6 L106.2 991.9 L108.1 991.2 L109.9 990.6 L111.8 990.2 L113.6 989.8 L115.5 989.5 L117.4 989.3 L119.2 989.1 L121.1 988.9 L122.9 988.7 L124.8 988.4 L126.6 988.2 L128.5 987.9 L130.4 987.5 L132.2 986.9 L134.1 985.5 L135.9 984.1 L137.8 983.4 L139.7 983.9 L141.5 985.3 L143.4 986.7 L145.2 987.6 L147.1 988.2 L148.9 988.6 L150.8 988.4 L152.7 986.7 L154.5 984.1 L156.4 981.2 L158.2 978.8 L160.1 976.8 L161.9 974.8 L163.8 972.8 L165.7 970.4 L167.5 967.6 L169.4 963.4 L171.2 956.4 L173.1 948.1 L174.9 940.7 L176.8 935.9 L178.7 932.9 L180.5 930.4 L182.4 927.4 L184.2 922.8 L186.1 916.6 L187.9 910.0 L189.8 904.3 L191.7 898.6 L193.5 893.9 L195.4 891.7 L197.2 890.4 L199.1 889.7 L200.9 889.9 L202.8 891.5 L204.7 894.0 L206.5 897.4 L208.4 902.9 L210.2 909.7 L212.1 917.0 L213.9 925.1 L215.8 934.5 L217.7 945.3 L219.5 958.4 L221.4 975.1 L223.2 993.2 L225.1 1011.9 L226.9 1032.1 L228.8 1049.2 L230.7 1061.6 L232.5 1071.9 L234.4 1080.1 L236.2 1087.0 L238.1 1093.1 L239.9 1098.4 L241.8 1102.7 L243.7 1106.4 L245.5 1110.0 L247.4 1113.2 L249.2 1115.6 L251.1 1116.7 L252.9 1116.2 L254.8 1114.6 L256.7 1112.2 L258.5 1109.3 L260.4 1104.3 L262.2 1097.5 L264.1 1089.9 L265.9 1082.2 L267.8 1073.5 L269.7 1064.2 L271.5 1054.5 L273.4 1044.0 L275.2 1033.0 L277.1 1022.7 L278.9 1013.6 L280.8 1004.7 L282.7 998.6 L284.5 996.6 L286.4 995.4 L288.2 994.5 L290.1 993.8 L292.0 993.1 L293.8 992.5 L295.7 992.0 L297.5 991.3 L299.4 990.3 L301.2 989.1 L303.1 988.6 L305.0 989.1 L306.8 990.2 L308.7 991.2 L310.5 991.8 L312.4 991.8 L314.2 991.8 L316.1 991.8 L318.0 991.8 L319.8 991.7 L321.7 991.3 L323.5 990.7 L325.4 990.0 L325.4 1053.3 L323.5 1048.6 L321.7 1044.0 L319.8 1039.4 L318.0 1034.6 L316.1 1029.8 L314.2 1025.7 L312.4 1022.3 L310.5 1018.9 L308.7 1016.0 L306.8 1014.1 L305.0 1013.7 L303.1 1014.2 L301.2 1014.9 L299.4 1015.7 L297.5 1016.4 L295.7 1016.9 L293.8 1017.4 L292.0 1018.0 L290.1 1018.8 L288.2 1020.5 L286.4 1023.9 L284.5 1028.4 L282.7 1033.6 L280.8 1040.6 L278.9 1049.2 L277.1 1058.5 L275.2 1068.1 L273.4 1078.9 L271.5 1089.0 L269.7 1097.5 L267.8 1105.4 L265.9 1112.5 L264.1 1118.4 L262.2 1123.9 L260.4 1128.7 L258.5 1132.0 L256.7 1133.8 L254.8 1135.3 L252.9 1136.2 L251.1 1136.5 L249.2 1135.8 L247.4 1134.3 L245.5 1132.3 L243.7 1130.1 L241.8 1127.2 L239.9 1123.2 L238.1 1118.4 L236.2 1113.2 L234.4 1107.7 L232.5 1101.4 L230.7 1094.3 L228.8 1086.8 L226.9 1079.0 L225.1 1069.5 L223.2 1055.5 L221.4 1037.8 L219.5 1016.1 L217.7 992.7 L215.8 976.4 L213.9 963.5 L212.1 951.9 L210.2 940.0 L208.4 928.7 L206.5 921.2 L204.7 916.9 L202.8 914.7 L200.9 916.9 L199.1 922.2 L197.2 926.7 L195.4 929.3 L193.5 931.3 L191.7 933.4 L189.8 935.5 L187.9 937.7 L186.1 942.1 L184.2 954.6 L182.4 969.1 L180.5 977.9 L178.7 984.1 L176.8 989.3 L174.9 994.1 L173.1 999.2 L171.2 1004.3 L169.4 1009.3 L167.5 1014.2 L165.7 1018.9 L163.8 1023.9 L161.9 1029.0 L160.1 1033.2 L158.2 1035.8 L156.4 1037.9 L154.5 1039.4 L152.7 1040.1 L150.8 1039.5 L148.9 1037.5 L147.1 1035.1 L145.2 1032.9 L143.4 1031.3 L141.5 1030.0 L139.7 1028.8 L137.8 1027.6 L135.9 1026.6 L134.1 1025.7 L132.2 1024.8 L130.4 1023.8 L128.5 1022.9 L126.6 1022.2 L124.8 1021.8 L122.9 1021.7 L121.1 1022.3 L119.2 1023.7 L117.4 1025.3 L115.5 1026.8 L113.6 1028.0 L111.8 1028.5 L109.9 1028.9 L108.1 1029.2 L106.2 1029.5 L104.4 1029.6Z" fill="#8f8d8c" fill-opacity="0.85"/>
<path d="M104.4 1064.1 L105.5 1062.9 L106.6 1061.6 L107.7 1060.4 L108.8 1059.2 L109.9 1058.0 L111.0 1056.8 L112.1 1055.6 L113.2 1054.4 L114.4 1053.3 L115.5 1052.3 L116.6 1051.3 L117.7 1050.3 L118.8 1049.2 L119.9 1048.2 L121.0 1047.0 L122.1 1045.8 L123.2 1044.5 L124.4 1042.8 L125.5 1040.6 L126.6 1038.2 L127.7 1036.0 L128.8 1034.4 L129.9 1033.8 L131.0 1033.8 L132.1 1033.8 L133.2 1033.8 L134.3 1033.9 L135.5 1035.1 L136.6 1037.1 L137.7 1039.4 L138.8 1041.2 L139.9 1042.3 L141.0 1043.3 L142.1 1044.1 L143.2 1044.3 L144.3 1044.0 L145.5 1043.1 L146.6 1041.9 L147.7 1040.5 L148.8 1039.0 L149.9 1037.6 L151.0 1036.2 L152.1 1034.8 L153.2 1033.3 L154.3 1031.7 L155.5 1029.9 L156.6 1028.0 L157.7 1025.9 L158.8 1023.4 L159.9 1020.5 L161.0 1017.3 L162.1 1013.8 L163.2 1010.1 L164.3 1006.4 L165.4 1002.7 L166.6 998.9 L167.7 995.1 L168.8 991.2 L169.9 987.1 L171.0 982.9 L172.1 978.7 L173.2 974.3 L174.3 969.9 L175.4 965.2 L176.6 960.4 L177.7 955.5 L178.8 950.6 L179.9 945.6 L181.0 940.8 L182.1 935.9 L183.2 931.0 L184.3 926.0 L185.4 921.0 L186.6 916.1 L187.7 911.3 L188.8 906.8 L189.9 902.5 L191.0 898.1 L192.1 893.7 L193.2 889.6 L194.3 885.9 L195.4 883.0 L196.5 881.0 L197.7 879.1 L198.8 877.4 L199.9 876.0 L201.0 875.1 L202.1 874.8 L203.2 875.3 L204.3 876.6 L205.4 878.5 L206.5 880.6 L207.7 883.4 L208.8 887.5 L209.9 892.3 L211.0 897.6 L212.1 903.0 L213.2 908.9 L214.3 915.3 L215.4 922.2 L216.5 929.3 L217.6 936.4 L218.8 943.4 L219.9 950.6 L221.0 958.1 L222.1 965.7 L223.2 972.9 L224.3 979.6 L225.4 985.6 L226.5 991.2 L227.6 996.7 L228.8 1001.7 L229.9 1006.4 L231.0 1010.5 L232.1 1014.0 L233.2 1017.1 L234.3 1020.0 L235.4 1022.7 L236.5 1025.2 L237.6 1027.5 L238.8 1029.6 L239.9 1031.7 L241.0 1033.7 L242.1 1035.6 L243.2 1037.4 L244.3 1039.0 L245.4 1040.6 L246.5 1042.0 L247.6 1043.2 L248.7 1044.3 L249.9 1045.5 L251.0 1046.6 L252.1 1047.6 L253.2 1048.4 L254.3 1048.9 L255.4 1049.1 L256.5 1049.0 L257.6 1048.9 L258.7 1048.7 L259.9 1048.5 L261.0 1048.2 L262.1 1047.0 L263.2 1044.8 L264.3 1042.0 L265.4 1038.9 L266.5 1035.8 L267.6 1032.9 L268.7 1029.9 L269.8 1026.6 L271.0 1023.3 L272.1 1020.0 L273.2 1017.0 L274.3 1014.3 L275.4 1011.6 L276.5 1009.0 L277.6 1006.7 L278.7 1005.1 L279.8 1004.3 L281.0 1003.6 L282.1 1002.9 L283.2 1002.4 L284.3 1002.0 L285.4 1001.7 L286.5 1001.6 L287.6 1001.6 L288.7 1001.6 L289.8 1001.7 L291.0 1001.8 L292.1 1002.0 L293.2 1002.2 L294.3 1002.4 L295.4 1002.7 L296.5 1003.6 L297.6 1005.1 L298.7 1006.9 L299.8 1009.1 L300.9 1011.3 L302.1 1013.6 L303.2 1016.5 L304.3 1019.9 L305.4 1023.5 L306.5 1026.9 L307.6 1029.9 L308.7 1032.1 L309.8 1034.2 L310.9 1036.3 L312.1 1038.1 L313.2 1039.5 L314.3 1040.3 L315.4 1040.3 L316.5 1040.0 L317.6 1039.4 L318.7 1038.7 L319.8 1037.9 L320.9 1037.1 L322.0 1036.1 L323.2 1035.0 L324.3 1033.8 L325.4 1032.4 L325.4 1050.4 L324.3 1051.8 L323.2 1053.0 L322.0 1054.1 L320.9 1055.1 L319.8 1055.9 L318.7 1056.7 L317.6 1057.4 L316.5 1058.0 L315.4 1058.3 L314.3 1058.3 L313.2 1057.5 L312.1 1056.1 L310.9 1054.3 L309.8 1052.2 L308.7 1050.1 L307.6 1047.9 L306.5 1044.9 L305.4 1041.5 L304.3 1037.9 L303.2 1034.5 L302.1 1031.6 L300.9 1029.3 L299.8 1027.1 L298.7 1024.9 L297.6 1023.1 L296.5 1021.6 L295.4 1020.7 L294.3 1020.4 L293.2 1020.2 L292.1 1020.0 L291.0 1019.8 L289.8 1019.7 L288.7 1019.6 L287.6 1019.6 L286.5 1019.6 L285.4 1019.7 L284.3 1020.0 L283.2 1020.4 L282.1 1020.9 L281.0 1021.6 L279.8 1022.3 L278.7 1023.1 L277.6 1024.7 L276.5 1027.0 L275.4 1029.6 L274.3 1032.3 L273.2 1035.0 L272.1 1038.0 L271.0 1041.3 L269.8 1044.6 L268.7 1047.9 L267.6 1050.9 L266.5 1053.8 L265.4 1056.9 L264.3 1060.0 L263.2 1062.8 L262.1 1065.0 L261.0 1066.2 L259.9 1066.5 L258.7 1066.7 L257.6 1066.9 L256.5 1067.0 L255.4 1067.1 L254.3 1066.9 L253.2 1066.4 L252.1 1065.6 L251.0 1064.6 L249.9 1063.5 L248.7 1062.3 L247.6 1061.2 L246.5 1060.0 L245.4 1058.6 L244.3 1057.0 L243.2 1055.4 L242.1 1053.6 L241.0 1051.7 L239.9 1049.7 L238.8 1047.6 L237.6 1045.5 L236.5 1043.2 L235.4 1040.7 L234.3 1038.0 L233.2 1035.1 L232.1 1032.0 L231.0 1028.5 L229.9 1024.4 L228.8 1019.7 L227.6 1014.7 L226.5 1009.2 L225.4 1003.6 L224.3 997.6 L223.2 990.9 L222.1 983.7 L221.0 976.1 L219.9 968.6 L218.8 961.4 L217.6 954.4 L216.5 947.3 L215.4 940.2 L214.3 933.3 L213.2 926.9 L212.1 921.0 L211.0 915.6 L209.9 910.3 L208.8 905.5 L207.7 901.4 L206.5 898.6 L205.4 896.5 L204.3 894.6 L203.2 893.3 L202.1 892.8 L201.0 893.1 L199.9 894.0 L198.8 895.4 L197.7 897.1 L196.5 899.0 L195.4 901.0 L194.3 903.9 L193.2 907.6 L192.1 911.7 L191.0 916.1 L189.9 920.5 L188.8 924.8 L187.7 929.3 L186.6 934.1 L185.4 939.0 L184.3 944.0 L183.2 949.0 L182.1 953.9 L181.0 958.8 L179.9 963.6 L178.8 968.6 L177.7 973.5 L176.6 978.4 L175.4 983.2 L174.3 987.9 L173.2 992.3 L172.1 996.7 L171.0 1000.9 L169.9 1005.1 L168.8 1009.2 L167.7 1013.1 L166.6 1016.9 L165.4 1020.7 L164.3 1024.4 L163.2 1028.1 L162.1 1031.8 L161.0 1035.3 L159.9 1038.5 L158.8 1041.4 L157.7 1043.9 L156.6 1046.0 L155.5 1047.9 L154.3 1049.7 L153.2 1051.3 L152.1 1052.8 L151.0 1054.2 L149.9 1055.6 L148.8 1057.0 L147.7 1058.5 L146.6 1059.9 L145.5 1061.1 L144.3 1062.0 L143.2 1062.3 L142.1 1062.1 L141.0 1061.3 L139.9 1060.3 L138.8 1059.2 L137.7 1057.4 L136.6 1055.1 L135.5 1053.1 L134.3 1051.9 L133.2 1051.8 L132.1 1051.8 L131.0 1051.8 L129.9 1051.8 L128.8 1052.4 L127.7 1054.0 L126.6 1056.2 L125.5 1058.6 L124.4 1060.8 L123.2 1062.5 L122.1 1063.8 L121.0 1065.0 L119.9 1066.2 L118.8 1067.2 L117.7 1068.3 L116.6 1069.3 L115.5 1070.3 L114.4 1071.3 L113.2 1072.4 L112.1 1073.6 L111.0 1074.8 L109.9 1076.0 L108.8 1077.2 L107.7 1078.4 L106.6 1079.6 L105.5 1080.9 L104.4 1082.1Z" fill="#5b66c4" fill-opacity="0.65"/>
<path d="M104.4 1009.8 L105.5 1009.7 L106.6 1009.7 L107.7 1009.7 L108.8 1009.6 L109.9 1009.5 L111.0 1009.4 L112.1 1009.3 L113.2 1009.2 L114.4 1008.9 L115.5 1008.4 L116.6 1007.9 L117.7 1007.3 L118.8 1006.7 L119.9 1006.2 L121.0 1005.7 L122.1 1005.4 L123.2 1005.3 L124.4 1005.3 L125.5 1005.4 L126.6 1005.5 L127.7 1005.6 L128.8 1005.7 L129.9 1005.8 L131.0 1005.8 L132.1 1005.8 L133.2 1005.8 L134.3 1005.8 L135.5 1005.8 L136.6 1005.8 L137.7 1005.8 L138.8 1005.8 L139.9 1005.9 L141.0 1006.2 L142.1 1006.8 L143.2 1007.6 L144.3 1008.5 L145.5 1009.4 L146.6 1010.2 L147.7 1010.9 L148.8 1011.8 L149.9 1012.6 L151.0 1013.3 L152.1 1013.7 L153.2 1013.6 L154.3 1013.1 L155.5 1012.2 L156.6 1011.2 L157.7 1010.0 L158.8 1008.7 L159.9 1007.3 L161.0 1005.6 L162.1 1003.6 L163.2 1001.4 L164.3 999.1 L165.4 996.9 L166.6 994.7 L167.7 992.5 L168.8 990.2 L169.9 987.9 L171.0 985.4 L172.1 982.9 L173.2 980.2 L174.3 977.4 L175.4 974.3 L176.6 971.1 L177.7 967.8 L178.8 964.3 L179.9 960.8 L181.0 957.2 L182.1 953.5 L183.2 949.5 L184.3 945.4 L185.4 941.2 L186.6 937.0 L187.7 932.8 L188.8 928.7 L189.9 924.9 L191.0 920.8 L192.1 916.8 L193.2 913.2 L194.3 910.2 L195.4 907.8 L196.5 905.5 L197.7 903.5 L198.8 902.1 L199.9 901.5 L201.0 901.7 L202.1 902.4 L203.2 903.4 L204.3 904.6 L205.4 906.4 L206.5 908.7 L207.7 911.6 L208.8 914.7 L209.9 918.2 L211.0 922.5 L212.1 927.5 L213.2 933.0 L214.3 938.9 L215.4 945.2 L216.5 952.1 L217.6 960.0 L218.8 969.0 L219.9 980.0 L221.0 992.5 L222.1 1005.1 L223.2 1017.3 L224.3 1030.0 L225.4 1042.1 L226.5 1052.1 L227.6 1060.8 L228.8 1068.5 L229.9 1074.9 L231.0 1079.9 L232.1 1084.0 L233.2 1087.7 L234.3 1090.9 L235.4 1094.0 L236.5 1097.1 L237.6 1100.4 L238.8 1103.7 L239.9 1107.1 L241.0 1110.4 L242.1 1113.4 L243.2 1116.2 L244.3 1118.4 L245.4 1120.2 L246.5 1122.0 L247.6 1123.6 L248.7 1125.1 L249.9 1126.1 L251.0 1126.7 L252.1 1126.7 L253.2 1126.2 L254.3 1125.5 L255.4 1124.6 L256.5 1123.5 L257.6 1122.2 L258.7 1120.3 L259.9 1118.0 L261.0 1115.2 L262.1 1112.3 L263.2 1109.2 L264.3 1105.9 L265.4 1102.2 L266.5 1098.0 L267.6 1093.6 L268.7 1088.8 L269.8 1083.8 L271.0 1078.5 L272.1 1072.7 L273.2 1066.0 L274.3 1058.8 L275.4 1051.8 L276.5 1045.5 L277.6 1039.7 L278.7 1034.1 L279.8 1028.9 L281.0 1024.4 L282.1 1020.9 L283.2 1018.1 L284.3 1015.6 L285.4 1013.4 L286.5 1011.8 L287.6 1010.6 L288.7 1009.6 L289.8 1008.8 L291.0 1008.1 L292.1 1007.5 L293.2 1006.9 L294.3 1006.3 L295.4 1005.5 L296.5 1004.7 L297.6 1003.7 L298.7 1002.7 L299.8 1001.8 L300.9 1001.1 L302.1 1000.6 L303.2 1000.5 L304.3 1000.6 L305.4 1000.9 L306.5 1001.2 L307.6 1001.6 L308.7 1002.1 L309.8 1003.0 L310.9 1004.3 L312.1 1005.8 L313.2 1007.4 L314.3 1008.9 L315.4 1010.3 L316.5 1011.4 L317.6 1012.4 L318.7 1013.3 L319.8 1014.2 L320.9 1015.0 L322.0 1015.8 L323.2 1016.5 L324.3 1017.1 L325.4 1017.7" fill="none" stroke="#000" stroke-width="1.6"/>
<path d="M104.4 1073.1 L105.5 1071.9 L106.6 1070.6 L107.7 1069.4 L108.8 1068.2 L109.9 1067.0 L111.0 1065.8 L112.1 1064.6 L113.2 1063.4 L114.4 1062.3 L115.5 1061.3 L116.6 1060.3 L117.7 1059.3 L118.8 1058.2 L119.9 1057.2 L121.0 1056.0 L122.1 1054.8 L123.2 1053.5 L124.4 1051.8 L125.5 1049.6 L126.6 1047.2 L127.7 1045.0 L128.8 1043.4 L129.9 1042.8 L131.0 1042.8 L132.1 1042.8 L133.2 1042.8 L134.3 1042.9 L135.5 1044.1 L136.6 1046.1 L137.7 1048.4 L138.8 1050.2 L139.9 1051.3 L141.0 1052.3 L142.1 1053.1 L143.2 1053.3 L144.3 1053.0 L145.5 1052.1 L146.6 1050.9 L147.7 1049.5 L148.8 1048.0 L149.9 1046.6 L151.0 1045.2 L152.1 1043.8 L153.2 1042.3 L154.3 1040.7 L155.5 1038.9 L156.6 1037.0 L157.7 1034.9 L158.8 1032.4 L159.9 1029.5 L161.0 1026.3 L162.1 1022.8 L163.2 1019.1 L164.3 1015.4 L165.4 1011.7 L166.6 1007.9 L167.7 1004.1 L168.8 1000.2 L169.9 996.1 L171.0 991.9 L172.1 987.7 L173.2 983.3 L174.3 978.9 L175.4 974.2 L176.6 969.4 L177.7 964.5 L178.8 959.6 L179.9 954.6 L181.0 949.8 L182.1 944.9 L183.2 940.0 L184.3 935.0 L185.4 930.0 L186.6 925.1 L187.7 920.3 L188.8 915.8 L189.9 911.5 L191.0 907.1 L192.1 902.7 L193.2 898.6 L194.3 894.9 L195.4 892.0 L196.5 890.0 L197.7 888.1 L198.8 886.4 L199.9 885.0 L201.0 884.1 L202.1 883.8 L203.2 884.3 L204.3 885.6 L205.4 887.5 L206.5 889.6 L207.7 892.4 L208.8 896.5 L209.9 901.3 L211.0 906.6 L212.1 912.0 L213.2 917.9 L214.3 924.3 L215.4 931.2 L216.5 938.3 L217.6 945.4 L218.8 952.4 L219.9 959.6 L221.0 967.1 L222.1 974.7 L223.2 981.9 L224.3 988.6 L225.4 994.6 L226.5 1000.2 L227.6 1005.7 L228.8 1010.7 L229.9 1015.4 L231.0 1019.5 L232.1 1023.0 L233.2 1026.1 L234.3 1029.0 L235.4 1031.7 L236.5 1034.2 L237.6 1036.5 L238.8 1038.6 L239.9 1040.7 L241.0 1042.7 L242.1 1044.6 L243.2 1046.4 L244.3 1048.0 L245.4 1049.6 L246.5 1051.0 L247.6 1052.2 L248.7 1053.3 L249.9 1054.5 L251.0 1055.6 L252.1 1056.6 L253.2 1057.4 L254.3 1057.9 L255.4 1058.1 L256.5 1058.0 L257.6 1057.9 L258.7 1057.7 L259.9 1057.5 L261.0 1057.2 L262.1 1056.0 L263.2 1053.8 L264.3 1051.0 L265.4 1047.9 L266.5 1044.8 L267.6 1041.9 L268.7 1038.9 L269.8 1035.6 L271.0 1032.3 L272.1 1029.0 L273.2 1026.0 L274.3 1023.3 L275.4 1020.6 L276.5 1018.0 L277.6 1015.7 L278.7 1014.1 L279.8 1013.3 L281.0 1012.6 L282.1 1011.9 L283.2 1011.4 L284.3 1011.0 L285.4 1010.7 L286.5 1010.6 L287.6 1010.6 L288.7 1010.6 L289.8 1010.7 L291.0 1010.8 L292.1 1011.0 L293.2 1011.2 L294.3 1011.4 L295.4 1011.7 L296.5 1012.6 L297.6 1014.1 L298.7 1015.9 L299.8 1018.1 L300.9 1020.3 L302.1 1022.6 L303.2 1025.5 L304.3 1028.9 L305.4 1032.5 L306.5 1035.9 L307.6 1038.9 L308.7 1041.1 L309.8 1043.2 L310.9 1045.3 L312.1 1047.1 L313.2 1048.5 L314.3 1049.3 L315.4 1049.3 L316.5 1049.0 L317.6 1048.4 L318.7 1047.7 L319.8 1046.9 L320.9 1046.1 L322.0 1045.1 L323.2 1044.0 L324.3 1042.8 L325.4 1041.4" fill="none" stroke="#2b41a0" stroke-width="2.6"/>
<path d="M93.8 877.7H104.4V1146.3H328M93.8 944.5H104.4M93.8 1011.6H104.4M93.8 1079H104.4M93.8 1146.3H104.4M104.4 1146.3V1158.4M160.3 1146.3V1158.4M216.3 1146.3V1158.4M272 1146.3V1158.4M328 1146.3V1158.4" fill="none" stroke="#000" stroke-width="1.7"/>
<text x="92.0" y="888.7" font-size="31" text-anchor="end" fill="#000">2</text>
<text x="92.0" y="955.5" font-size="31" text-anchor="end" fill="#000">1</text>
<text x="92.0" y="1022.6" font-size="31" text-anchor="end" fill="#000">0</text>
<text x="92.0" y="1090.0" font-size="31" text-anchor="end" fill="#000">-1</text>
<text x="92.0" y="1157.3" font-size="31" text-anchor="end" fill="#000">-2</text>
<text x="102.9" y="1191.3" font-size="31" text-anchor="middle" fill="#000">-2</text>
<text x="158.8" y="1191.3" font-size="31" text-anchor="middle" fill="#000">-1</text>
<text x="214.8" y="1191.3" font-size="31" text-anchor="middle" fill="#000">0</text>
<text x="270.5" y="1191.3" font-size="31" text-anchor="middle" fill="#000">1</text>
<text x="326.5" y="1191.3" font-size="31" text-anchor="middle" fill="#000">2</text>
<text x="222.4" y="1243.2" font-size="30.2" text-anchor="middle" fill="#000">Time from contra movement (s)</text>
<text x="55.9" y="976.2" font-size="32" text-anchor="middle" fill="#000" transform="rotate(-90 55.9 976.2)" textLength="346.0" lengthAdjust="spacingAndGlyphs">Z-scored FR or velocity</text>
<text x="97.6" y="820.6" font-size="31.3" font-weight="bold" fill="#231f20">Forward Velocity</text>
<text x="97.6" y="856" font-size="31.3" font-weight="bold" fill="#231f20">Population <tspan font-style="italic">n</tspan> = 12</text>
<text x="108.8" y="1114.0" font-size="21.5" fill="#2b41a0" textLength="119.0" lengthAdjust="spacingAndGlyphs">Neural Activity</text>
<text x="108.8" y="1136.5" font-size="21.5" fill="#000" textLength="74.0" lengthAdjust="spacingAndGlyphs">Velocity</text>
<path d="M521.7 820.1H534.9V1145.6H751.4M521.7 901.2H534.9M521.7 982.4H534.9M521.7 1064H534.9M521.7 1145.6H534.9M534.9 1145.6V1157.4M642.5 1145.6V1157.4M751.4 1145.6V1157.4" fill="none" stroke="#000" stroke-width="1.7"/>
<text x="511.2" y="830.9" font-size="30.5" text-anchor="end" fill="#000">1.0</text>
<text x="511.2" y="912.0" font-size="30.5" text-anchor="end" fill="#000">0.5</text>
<text x="511.2" y="993.2" font-size="30.5" text-anchor="end" fill="#000">0.0</text>
<text x="511.2" y="1074.8" font-size="30.5" text-anchor="end" fill="#000">-0.5</text>
<text x="511.2" y="1156.4" font-size="30.5" text-anchor="end" fill="#000">-1.0</text>
<text x="537.4" y="1184.0" font-size="30.5" text-anchor="middle" fill="#000">0.0</text>
<text x="645.0" y="1184.0" font-size="30.5" text-anchor="middle" fill="#000">0.5</text>
<text x="753.9" y="1184.0" font-size="30.5" text-anchor="middle" fill="#000">1.0</text>
<text x="640.5" y="1243.7" font-size="30" text-anchor="middle" fill="#000">Z-scored forward</text>
<text x="641.5" y="1279.0" font-size="30" text-anchor="middle" fill="#000">Velocity</text>
<text x="450.2" y="978.0" font-size="32" text-anchor="middle" fill="#000" transform="rotate(-90 450.2 978.0)" textLength="183.5" lengthAdjust="spacingAndGlyphs">Z-scored FR</text>
<text x="551" y="845.1" font-size="29.5">R<tspan dy="-10.5" font-size="18.5">2</tspan><tspan dy="10.5"> = 0.98</tspan></text>
<line x1="534.9" y1="1088.0" x2="751.4" y2="833.3" stroke="#000" stroke-width="2.4"/>
<line x1="546.7" y1="1041.8" x2="546.7" y2="1090.4" stroke="#000" stroke-width="1.3"/>
<circle cx="546.7" cy="1066.3" r="5"/>
<line x1="563.7" y1="1032.8" x2="563.7" y2="1086.6" stroke="#000" stroke-width="1.3"/>
<circle cx="563.7" cy="1059.7" r="5"/>
<line x1="582.5" y1="1015.8" x2="582.5" y2="1075.3" stroke="#000" stroke-width="1.3"/>
<circle cx="582.5" cy="1046" r="5"/>
<line x1="600.5" y1="993.7" x2="600.5" y2="1052.6" stroke="#000" stroke-width="1.3"/>
<circle cx="600.5" cy="1022.9" r="5"/>
<line x1="619.8" y1="966.8" x2="619.8" y2="1019.6" stroke="#000" stroke-width="1.3"/>
<circle cx="619.8" cy="993.2" r="5"/>
<line x1="642.5" y1="936.1" x2="642.5" y2="982.8" stroke="#000" stroke-width="1.3"/>
<circle cx="642.5" cy="959.2" r="5"/>
<line x1="668.4" y1="899.3" x2="668.4" y2="947.9" stroke="#000" stroke-width="1.3"/>
<circle cx="668.4" cy="923.4" r="5"/>
<line x1="699.1" y1="860.2" x2="699.1" y2="914.4" stroke="#000" stroke-width="1.3"/>
<circle cx="699.1" cy="887.5" r="5"/>
<line x1="734.0" y1="824.8" x2="734.0" y2="879.1" stroke="#000" stroke-width="1.3"/>
<circle cx="734" cy="852.2" r="5"/>
<path d="M961.8 897.9 L964.1 898.5 L966.4 899.1 L968.6 899.5 L970.9 899.6 L973.2 899.5 L975.5 899.0 L977.8 898.1 L980.1 896.9 L982.4 895.3 L984.7 893.5 L987.0 891.4 L989.3 889.2 L991.6 886.8 L993.9 884.3 L996.2 881.6 L998.5 878.9 L1000.8 876.0 L1003.1 873.0 L1005.4 869.9 L1007.7 866.7 L1010.0 863.4 L1012.2 859.9 L1014.5 856.2 L1016.8 852.3 L1019.1 848.2 L1021.4 843.9 L1023.7 839.5 L1026.0 835.2 L1028.3 831.0 L1030.6 827.0 L1032.9 823.4 L1035.2 820.1 L1037.5 817.3 L1039.8 815.0 L1042.1 813.3 L1044.4 812.2 L1046.7 811.9 L1049.0 812.5 L1051.3 813.8 L1053.6 815.5 L1055.8 817.3 L1058.1 818.9 L1060.4 820.0 L1062.7 820.8 L1065.0 821.3 L1067.3 821.6 L1069.6 821.7 L1071.9 821.7 L1074.2 821.9 L1076.5 822.3 L1078.8 823.1 L1081.1 824.4 L1083.4 826.1 L1085.7 828.4 L1088.0 831.3 L1090.3 834.9 L1092.6 838.9 L1094.9 843.2 L1097.2 847.7 L1099.4 852.3 L1101.7 856.7 L1104.0 860.9 L1106.3 864.8 L1108.6 868.6 L1110.9 872.3 L1113.2 876.0 L1115.5 879.7 L1117.8 883.5 L1120.1 887.4 L1122.4 891.2 L1124.7 895.0 L1127.0 898.7 L1129.3 902.1 L1131.6 905.2 L1133.9 908.0 L1136.2 910.5 L1138.5 912.7 L1140.8 914.8 L1143.0 917.0 L1145.3 919.2 L1147.6 921.6 L1149.9 924.2 L1152.2 926.8 L1154.5 929.6 L1156.8 932.6 L1159.1 935.6 L1161.4 938.7 L1163.7 941.7 L1166.0 944.6 L1168.3 947.2 L1170.6 949.5 L1172.9 951.4 L1175.2 952.7 L1177.5 953.6 L1179.8 954.0 L1182.1 954.1 L1184.4 954.0 L1186.6 953.5 L1188.9 953.0 L1191.2 952.5 L1193.5 952.3 L1195.8 952.5 L1198.1 953.4 L1200.4 954.8 L1202.7 956.6 L1205.0 958.6 L1207.3 960.6 L1209.6 962.5 L1211.9 964.0 L1214.2 965.1 L1216.5 965.9 L1218.8 966.4 L1221.1 966.6 L1223.4 966.7 L1225.7 966.7 L1228.0 966.7 L1230.2 966.8 L1232.5 967.2 L1234.8 968.1 L1237.1 969.5 L1239.4 971.3 L1241.7 973.2 L1244.0 975.2 L1246.3 976.9 L1248.6 978.4 L1250.9 979.4 L1253.2 980.0 L1255.5 980.3 L1257.8 980.5 L1260.1 980.4 L1262.4 980.4 L1264.7 980.4 L1267.0 980.4 L1269.3 980.6 L1271.6 980.9 L1273.8 981.2 L1276.1 981.4 L1278.4 981.3 L1280.7 981.0 L1283.0 980.2 L1285.3 979.1 L1287.6 977.8 L1289.9 976.5 L1292.2 975.1 L1294.5 973.9 L1296.8 972.8 L1299.1 971.8 L1301.4 970.9 L1303.7 970.0 L1303.7 1010.1 L1301.4 1011.0 L1299.1 1011.9 L1296.8 1012.9 L1294.5 1014.2 L1292.2 1015.8 L1289.9 1017.7 L1287.6 1020.0 L1285.3 1022.6 L1283.0 1025.1 L1280.7 1027.6 L1278.4 1029.8 L1276.1 1031.5 L1273.8 1032.6 L1271.6 1033.3 L1269.3 1033.6 L1267.0 1033.7 L1264.7 1033.7 L1262.4 1033.6 L1260.1 1033.4 L1257.8 1033.0 L1255.5 1032.4 L1253.2 1031.5 L1250.9 1030.4 L1248.6 1029.0 L1246.3 1027.5 L1244.0 1025.9 L1241.7 1024.2 L1239.4 1022.5 L1237.1 1020.9 L1234.8 1019.4 L1232.5 1018.1 L1230.2 1016.8 L1228.0 1015.6 L1225.7 1014.5 L1223.4 1013.4 L1221.1 1012.4 L1218.8 1011.3 L1216.5 1010.0 L1214.2 1008.6 L1211.9 1006.8 L1209.6 1004.7 L1207.3 1002.2 L1205.0 999.6 L1202.7 997.1 L1200.4 994.8 L1198.1 993.1 L1195.8 992.1 L1193.5 992.0 L1191.2 992.5 L1188.9 993.3 L1186.6 994.2 L1184.4 994.9 L1182.1 995.0 L1179.8 994.5 L1177.5 993.2 L1175.2 991.4 L1172.9 989.2 L1170.6 986.7 L1168.3 984.1 L1166.0 981.3 L1163.7 978.5 L1161.4 975.7 L1159.1 973.1 L1156.8 970.7 L1154.5 968.5 L1152.2 966.4 L1149.9 964.2 L1147.6 962.0 L1145.3 959.5 L1143.0 956.7 L1140.8 953.7 L1138.5 950.5 L1136.2 947.1 L1133.9 943.7 L1131.6 940.4 L1129.3 937.3 L1127.0 934.1 L1124.7 931.0 L1122.4 927.7 L1120.1 924.3 L1117.8 920.8 L1115.5 917.1 L1113.2 913.3 L1110.9 909.4 L1108.6 905.3 L1106.3 901.3 L1104.0 897.2 L1101.7 893.1 L1099.4 889.1 L1097.2 885.3 L1094.9 881.7 L1092.6 878.3 L1090.3 875.3 L1088.0 872.6 L1085.7 870.5 L1083.4 868.9 L1081.1 867.9 L1078.8 867.4 L1076.5 867.3 L1074.2 867.5 L1071.9 867.6 L1069.6 867.7 L1067.3 867.6 L1065.0 867.1 L1062.7 866.4 L1060.4 865.5 L1058.1 864.5 L1055.8 863.3 L1053.6 862.1 L1051.3 861.1 L1049.0 860.3 L1046.7 860.0 L1044.4 860.4 L1042.1 861.4 L1039.8 863.3 L1037.5 866.0 L1035.2 869.7 L1032.9 874.4 L1030.6 879.6 L1028.3 885.2 L1026.0 890.7 L1023.7 896.0 L1021.4 901.0 L1019.1 905.7 L1016.8 910.1 L1014.5 914.3 L1012.2 918.1 L1010.0 921.7 L1007.7 925.1 L1005.4 928.2 L1003.1 931.2 L1000.8 933.9 L998.5 936.6 L996.2 939.1 L993.9 941.5 L991.6 943.9 L989.3 946.2 L987.0 948.3 L984.7 950.5 L982.4 952.5 L980.1 954.5 L977.8 956.2 L975.5 957.7 L973.2 958.8 L970.9 959.5 L968.6 959.8 L966.4 959.8 L964.1 959.5 L961.8 959.2Z" fill="#989695"/>
<line x1="1046.7" y1="794.0" x2="1046.7" y2="1144.5" stroke="#4d4d4d" stroke-width="1.8" stroke-dasharray="11.7 13.1" stroke-dashoffset="5"/>
<path d="M961.8 928.5 L963.5 928.7 L965.2 928.8 L966.9 928.9 L968.6 928.9 L970.4 928.8 L972.1 928.6 L973.8 928.1 L975.5 927.6 L977.2 926.9 L978.9 926.0 L980.7 925.1 L982.4 924.0 L984.1 922.8 L985.8 921.4 L987.5 920.0 L989.3 918.4 L991.0 916.8 L992.7 915.0 L994.4 913.1 L996.1 911.1 L997.8 909.0 L999.6 906.8 L1001.3 904.5 L1003.0 902.0 L1004.7 899.5 L1006.4 896.9 L1008.2 894.2 L1009.9 891.4 L1011.6 888.6 L1013.3 885.7 L1015.0 882.7 L1016.7 879.7 L1018.5 876.6 L1020.2 873.4 L1021.9 870.2 L1023.6 866.9 L1025.3 863.6 L1027.1 860.2 L1028.8 856.8 L1030.5 853.5 L1032.2 850.2 L1033.9 847.2 L1035.6 844.4 L1037.4 841.9 L1039.1 839.8 L1040.8 838.1 L1042.5 836.8 L1044.2 835.9 L1046.0 835.5 L1047.7 835.6 L1049.4 836.1 L1051.1 836.8 L1052.8 837.8 L1054.5 838.9 L1056.3 840.0 L1058.0 841.1 L1059.7 842.2 L1061.4 843.1 L1063.1 843.8 L1064.9 844.3 L1066.6 844.6 L1068.3 844.6 L1070.0 844.6 L1071.7 844.6 L1073.4 844.6 L1075.2 844.7 L1076.9 845.0 L1078.6 845.4 L1080.3 846.0 L1082.0 846.9 L1083.8 847.9 L1085.5 849.2 L1087.2 850.8 L1088.9 852.6 L1090.6 854.6 L1092.3 856.8 L1094.1 859.2 L1095.8 861.8 L1097.5 864.6 L1099.2 867.5 L1100.9 870.5 L1102.7 873.5 L1104.4 876.6 L1106.1 879.6 L1107.8 882.6 L1109.5 885.6 L1111.2 888.5 L1113.0 891.4 L1114.7 894.2 L1116.4 897.0 L1118.1 899.8 L1119.8 902.6 L1121.6 905.4 L1123.3 908.2 L1125.0 911.0 L1126.7 913.8 L1128.4 916.5 L1130.1 919.2 L1131.9 921.9 L1133.6 924.6 L1135.3 927.1 L1137.0 929.6 L1138.7 932.0 L1140.5 934.2 L1142.2 936.2 L1143.9 938.1 L1145.6 939.7 L1147.3 941.2 L1149.0 942.5 L1150.8 943.9 L1152.5 945.3 L1154.2 946.9 L1155.9 948.7 L1157.6 950.7 L1159.4 952.8 L1161.1 954.9 L1162.8 957.1 L1164.5 959.3 L1166.2 961.5 L1167.9 963.7 L1169.7 965.7 L1171.4 967.5 L1173.1 969.2 L1174.8 970.7 L1176.5 971.9 L1178.3 972.9 L1180.0 973.5 L1181.7 973.9 L1183.4 974.1 L1185.1 974.0 L1186.8 973.8 L1188.6 973.4 L1190.3 973.0 L1192.0 972.6 L1193.7 972.2 L1195.4 972.1 L1197.2 972.1 L1198.9 972.5 L1200.6 973.2 L1202.3 974.2 L1204.0 975.5 L1205.7 976.9 L1207.5 978.4 L1209.2 979.9 L1210.9 981.4 L1212.6 982.8 L1214.3 984.2 L1216.1 985.4 L1217.8 986.6 L1219.5 987.6 L1221.2 988.5 L1222.9 989.3 L1224.6 989.9 L1226.4 990.5 L1228.1 991.1 L1229.8 991.7 L1231.5 992.4 L1233.2 993.3 L1235.0 994.3 L1236.7 995.4 L1238.4 996.7 L1240.1 998.0 L1241.8 999.4 L1243.5 1000.7 L1245.3 1001.8 L1247.0 1002.9 L1248.7 1003.8 L1250.4 1004.5 L1252.1 1005.1 L1253.9 1005.6 L1255.6 1006.0 L1257.3 1006.3 L1259.0 1006.6 L1260.7 1006.7 L1262.4 1006.8 L1264.2 1006.9 L1265.9 1006.9 L1267.6 1006.9 L1269.3 1006.9 L1271.0 1006.8 L1272.8 1006.8 L1274.5 1006.8 L1276.2 1006.6 L1277.9 1006.4 L1279.6 1005.9 L1281.3 1005.3 L1283.1 1004.4 L1284.8 1003.3 L1286.5 1002.0 L1288.2 1000.6 L1289.9 999.2 L1291.7 997.8 L1293.4 996.5 L1295.1 995.3 L1296.8 994.1 L1298.5 993.0 L1300.2 991.9 L1302.0 990.9 L1303.7 989.8" fill="none" stroke="#000" stroke-width="2.7"/>
<line x1="1132.5" y1="794.0" x2="1132.5" y2="1144.5" stroke="#ea3324" stroke-width="1.8" stroke-dasharray="11.7 13.1" stroke-dashoffset="5"/>
<path d="M961.8 802.6V1144.5H1303.7M950.9 851.7H961.8M950.9 949.3H961.8M950.9 1046.9H961.8M950.9 1144.5H961.8M961.8 1144.5V1155.4M1046.7 1144.5V1155.4M1132.5 1144.5V1155.4M1217.8 1144.5V1155.4M1303.7 1144.5V1155.4" fill="none" stroke="#000" stroke-width="1.7"/>
<text x="944.0" y="862.5" font-size="30.5" text-anchor="end" fill="#000">1.0</text>
<text x="941.5" y="960.1" font-size="30.5" text-anchor="end" fill="#000">0</text>
<text x="944.0" y="1057.7" font-size="30.5" text-anchor="end" fill="#000">-1.0</text>
<text x="944.0" y="1155.3" font-size="30.5" text-anchor="end" fill="#000">-2.0</text>
<text x="958.0" y="1184.3" font-size="30.8" text-anchor="middle" fill="#000">-1000</text>
<text x="1045.2" y="1184.3" font-size="30.8" text-anchor="middle" fill="#000">-500</text>
<text x="1135.0" y="1184.3" font-size="30.8" text-anchor="middle" fill="#000">0</text>
<text x="1221.0" y="1184.3" font-size="30.8" text-anchor="middle" fill="#000">500</text>
<text x="1310.7" y="1184.3" font-size="30.8" text-anchor="middle" fill="#000">1000</text>
<text x="1135.5" y="1242.2" font-size="30" text-anchor="middle" fill="#000">Time (ms)</text>
<text x="885.0" y="978.0" font-size="32.7" text-anchor="middle" fill="#000" transform="rotate(-90 885.0 978.0)">Corr coefficent (norm)</text>
<text x="857.5" y="778.9" font-size="28.8" font-weight="bold" fill="#231f20">FR vs forward velocity</text>
<rect x="1576.2" y="821.3" width="107.8" height="160" fill="#6b6968"/>
<path d="M1507.9 821.3H1738.7M1521.8 821.3V1146.4M1507.9 1146.4H1739.8M1507.9 902.8H1521.8M1507.9 983.8H1521.8M1507.9 1064.9H1521.8" fill="none" stroke="#000" stroke-width="1.7"/>
<text x="1500.5" y="832.1" font-size="30.5" text-anchor="end" fill="#000">0</text>
<text x="1500.5" y="913.6" font-size="30.5" text-anchor="end" fill="#000">-200</text>
<text x="1500.5" y="994.6" font-size="30.5" text-anchor="end" fill="#000">-400</text>
<text x="1500.5" y="1075.7" font-size="30.5" text-anchor="end" fill="#000">-600</text>
<text x="1500.5" y="1157.2" font-size="30.5" text-anchor="end" fill="#000">-800</text>
<path d="M1602.9 956.4H1656.6M1630.3 956.4V1006.8M1602.9 1006.8H1656.6" fill="none" stroke="#000" stroke-width="2.6"/>
<circle cx="1630.3" cy="838.1" r="5"/>
<circle cx="1630.3" cy="850.5" r="5"/>
<circle cx="1630.3" cy="907.5" r="5"/>
<circle cx="1630.3" cy="935.6" r="5"/>
<circle cx="1630.3" cy="960.1" r="5"/>
<circle cx="1630.3" cy="971.8" r="5"/>
<circle cx="1630.3" cy="1004.7" r="5"/>
<circle cx="1630.3" cy="1024.4" r="5"/>
<circle cx="1630.3" cy="1037.2" r="5"/>
<circle cx="1630.3" cy="1053.2" r="5"/>
<circle cx="1630.3" cy="1073.7" r="5"/>
<circle cx="1630.3" cy="1122.6" r="5"/>
<text x="1387.4" y="778.3" font-size="28.8" font-weight="bold" fill="#231f20">Forward population</text>
<text x="1412.2" y="980.0" font-size="28.8" text-anchor="middle" fill="#000" transform="rotate(-90 1412.2 980.0)">Time of cross corr peak (ms)</text>
</svg>
</body></html>
